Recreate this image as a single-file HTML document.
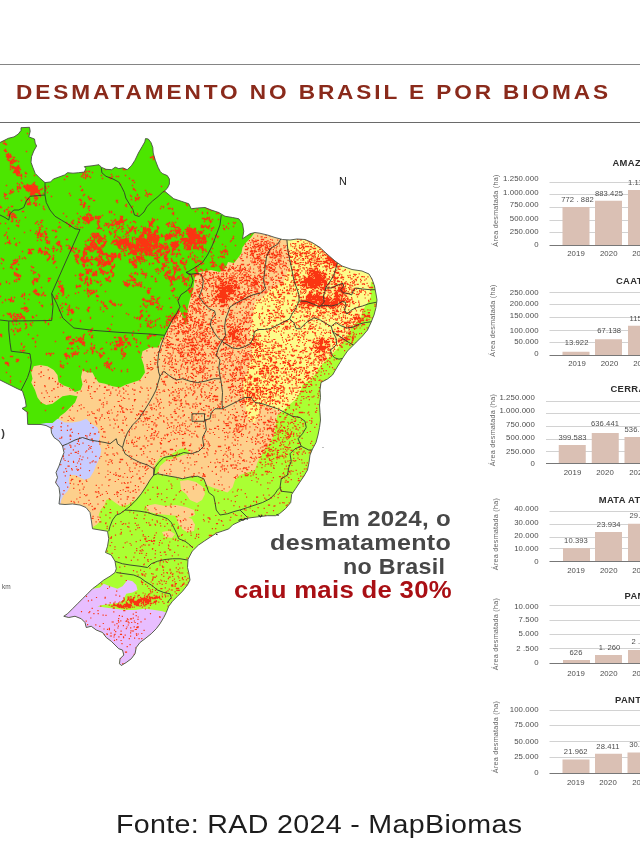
<!DOCTYPE html>
<html lang="pt-BR">
<head>
<meta charset="utf-8">
<meta name="viewport" content="width=640">
<title>Desmatamento no Brasil e por biomas</title>
<style>
html,body{margin:0;padding:0;background:#fff;}
body{width:640px;height:853px;position:relative;overflow:hidden;font-family:"Liberation Sans",sans-serif;}
h1,p,figure,header,main,footer,section{margin:0;padding:0;}
.abs{position:absolute;white-space:nowrap;display:block;margin:0;}
.map,.charts{position:absolute;left:0;top:0;display:block;}
.rule{position:absolute;left:0;width:640px;height:1px;border:0;margin:0;}
</style>
</head>
<body>
<header>
<hr class="rule" style="top:64px;background:#858585">
<h1 class="abs" style="left:15.84px;top:79.84px;font-size:19.5px;line-height:24px;font-weight:bold;color:#8a2a1b;letter-spacing:2.5px;transform:scaleX(1.1600);transform-origin:0 0;">DESMATAMENTO NO BRASIL E POR BIOMAS</h1>
<hr class="rule" style="top:122px;height:1.3px;background:#6a6a6a">
</header>
<main>
<figure>
<svg class="map" width="640" height="853" viewBox="0 0 640 853">
<defs><clipPath id="br"><path d="M-2 142.5 L0 142.5 L8.4 138.3 L14 136.9 L18.3 134 L21 130.5 L21 127.7 L29.5 127.3 L30.2 131.25 L28.8 136.9 L34.5 139 L35.2 143.2 L36.6 146 L33.75 151 L31.6 156.6 L31 162.2 L33 167.8 L35.2 173.4 L39.4 177.7 L45 182.6 L50.6 181.9 L53.4 179 L59 177 L64.7 174.9 L67.5 172.7 L73 173.2 L78.75 172.7 L84.4 172 L85.8 168.5 L84.4 166.6 L92 165.8 L99 164.7 L101.2 167.2 L106 169.3 L111.7 169.7 L115.2 167.2 L118.75 168.6 L123 167.9 L127.2 169.7 L131.4 165.8 L135 160.2 L138.4 153 L142 146.8 L144.8 141.9 L145.5 138.6 L148.3 139 L151 142.6 L152.8 147.5 L153.2 153 L155.3 160.2 L158 167.2 L160.2 171.4 L162.3 173.5 L167.3 175.6 L169.4 179 L169.4 184 L167.3 188.3 L164.5 191 L168 194 L173.75 198.75 L181.25 201.25 L188.75 203.75 L191.25 208.75 L197.5 208 L205 207.5 L211.25 210 L218.75 212.5 L225 216.25 L232.5 217.5 L238.75 218.75 L242.5 223.75 L243.75 231.25 L242.5 238.75 L246.25 236.25 L250 233.75 L255 232.5 L260 233.25 L267.5 235 L275 237.5 L282.5 239.5 L290 240 L297 239 L305 239.5 L312 242.5 L320 247.5 L327 254 L335 261 L342 266 L352 269.5 L362 271 L369 274 L372 279 L374.5 286 L376 294 L377 300 L376 307.5 L374 315 L371 322.5 L367.5 330 L362.5 336 L357.5 341 L352.5 346 L347.5 351 L344 356 L340 362.5 L336 369 L332.5 375 L327.5 379 L321 382.5 L320 390 L320.5 397.5 L319.5 405 L320 412.5 L320.5 420 L319.5 427.5 L318 435 L316 442.5 L312.5 449 L310 455 L309 462.5 L307.5 470 L304 476 L299.8 482.2 L295.8 488.3 L291.7 494.4 L290.7 502.5 L285.6 508.6 L279.5 513.7 L275.5 515.7 L267.3 515.7 L259.2 516.7 L251 517.7 L245 518.75 L239 521.8 L232.8 524.8 L228.75 528.9 L222.7 531 L216.6 533 L210.5 537 L204.4 541 L198.3 545.2 L192.2 551.25 L188 559.4 L187.5 567.5 L188.75 572.5 L190 580 L187.5 585 L182.5 591.25 L177.5 596.25 L172.5 601.25 L168.75 606.25 L166.25 612.5 L163.75 617.5 L160 623.75 L156.25 628.75 L151.25 633.75 L145 638.75 L140 642.5 L136.25 647.5 L135 653.75 L131.25 658.75 L126.25 662.5 L121.25 665.5 L119.5 663.75 L120 658.75 L123.75 655 L122.5 650 L118.75 648.75 L115 645 L111.25 641.25 L106.25 637.5 L102.5 632.5 L96.25 630 L91.25 626.25 L86.25 627.5 L85 622.5 L81.25 618.75 L75 616.25 L68.75 617.5 L63.75 616.25 L67.5 613.75 L72.5 608.75 L77.5 603.75 L82.5 598.75 L87.5 593.75 L92.5 588.75 L97.5 585 L103.75 580 L110 576.25 L115 572.5 L116.25 568.75 L115 561.25 L111.25 555 L105.5 552.5 L107.5 546.25 L108.75 538.75 L107.5 531.25 L100 530 L92.5 528.75 L91.25 520 L90 512.5 L86 507.5 L80 505 L72.5 504 L65 504.5 L59 504 L60 495 L59 487.5 L55.5 482.5 L57.5 477.5 L56 472.5 L59 466 L61 460 L64 452.5 L62.5 446 L59 441 L54 437.5 L51.5 433 L51 428 L46 425.5 L41 424.5 L27.7 424.4 L27.2 412.2 L22 408.4 L26.25 406.5 L25.3 400 L22.5 391 L17 388.5 L10 385 L0 380 L-2 380Z"/></clipPath></defs>
<g clip-path="url(#br)">
<path d="M-2 142.5 L0 142.5 L8.4 138.3 L14 136.9 L18.3 134 L21 130.5 L21 127.7 L29.5 127.3 L30.2 131.25 L28.8 136.9 L34.5 139 L35.2 143.2 L36.6 146 L33.75 151 L31.6 156.6 L31 162.2 L33 167.8 L35.2 173.4 L39.4 177.7 L45 182.6 L50.6 181.9 L53.4 179 L59 177 L64.7 174.9 L67.5 172.7 L73 173.2 L78.75 172.7 L84.4 172 L85.8 168.5 L84.4 166.6 L92 165.8 L99 164.7 L101.2 167.2 L106 169.3 L111.7 169.7 L115.2 167.2 L118.75 168.6 L123 167.9 L127.2 169.7 L131.4 165.8 L135 160.2 L138.4 153 L142 146.8 L144.8 141.9 L145.5 138.6 L148.3 139 L151 142.6 L152.8 147.5 L153.2 153 L155.3 160.2 L158 167.2 L160.2 171.4 L162.3 173.5 L167.3 175.6 L169.4 179 L169.4 184 L167.3 188.3 L164.5 191 L168 194 L173.75 198.75 L181.25 201.25 L188.75 203.75 L191.25 208.75 L197.5 208 L205 207.5 L211.25 210 L218.75 212.5 L225 216.25 L232.5 217.5 L238.75 218.75 L242.5 223.75 L243.75 231.25 L242.5 238.75 L246.25 236.25 L250 233.75 L255 232.5 L260 233.25 L267.5 235 L275 237.5 L282.5 239.5 L290 240 L297 239 L305 239.5 L312 242.5 L320 247.5 L327 254 L335 261 L342 266 L352 269.5 L362 271 L369 274 L372 279 L374.5 286 L376 294 L377 300 L376 307.5 L374 315 L371 322.5 L367.5 330 L362.5 336 L357.5 341 L352.5 346 L347.5 351 L344 356 L340 362.5 L336 369 L332.5 375 L327.5 379 L321 382.5 L320 390 L320.5 397.5 L319.5 405 L320 412.5 L320.5 420 L319.5 427.5 L318 435 L316 442.5 L312.5 449 L310 455 L309 462.5 L307.5 470 L304 476 L299.8 482.2 L295.8 488.3 L291.7 494.4 L290.7 502.5 L285.6 508.6 L279.5 513.7 L275.5 515.7 L267.3 515.7 L259.2 516.7 L251 517.7 L245 518.75 L239 521.8 L232.8 524.8 L228.75 528.9 L222.7 531 L216.6 533 L210.5 537 L204.4 541 L198.3 545.2 L192.2 551.25 L188 559.4 L187.5 567.5 L188.75 572.5 L190 580 L187.5 585 L182.5 591.25 L177.5 596.25 L172.5 601.25 L168.75 606.25 L166.25 612.5 L163.75 617.5 L160 623.75 L156.25 628.75 L151.25 633.75 L145 638.75 L140 642.5 L136.25 647.5 L135 653.75 L131.25 658.75 L126.25 662.5 L121.25 665.5 L119.5 663.75 L120 658.75 L123.75 655 L122.5 650 L118.75 648.75 L115 645 L111.25 641.25 L106.25 637.5 L102.5 632.5 L96.25 630 L91.25 626.25 L86.25 627.5 L85 622.5 L81.25 618.75 L75 616.25 L68.75 617.5 L63.75 616.25 L67.5 613.75 L72.5 608.75 L77.5 603.75 L82.5 598.75 L87.5 593.75 L92.5 588.75 L97.5 585 L103.75 580 L110 576.25 L115 572.5 L116.25 568.75 L115 561.25 L111.25 555 L105.5 552.5 L107.5 546.25 L108.75 538.75 L107.5 531.25 L100 530 L92.5 528.75 L91.25 520 L90 512.5 L86 507.5 L80 505 L72.5 504 L65 504.5 L59 504 L60 495 L59 487.5 L55.5 482.5 L57.5 477.5 L56 472.5 L59 466 L61 460 L64 452.5 L62.5 446 L59 441 L54 437.5 L51.5 433 L51 428 L46 425.5 L41 424.5 L27.7 424.4 L27.2 412.2 L22 408.4 L26.25 406.5 L25.3 400 L22.5 391 L17 388.5 L10 385 L0 380 L-2 380Z" fill="#fdd08c"/>
<path d="M256 231 L253.75 233.75 L251 237.5 L246 242.5 L242.5 247.5 L241.5 253 L238 258 L234 263 L228 262 L225.6 268 L219.5 272 L211 270 L205 271 L199 272 L195 276 L194 283.5 L193 290.6 L190 299 L188 307 L187 317 L186 325 L183 317 L180 311 L175 317 L171 323 L168 329 L165 335 L160.6 341.4 L158.6 347.5 L150 347.5 L142.5 351.25 L141.25 357.5 L143.75 365 L145 372.5 L140 380 L132.5 382.5 L125 385 L120 387.5 L112.5 386.25 L105 383.75 L98.75 382.5 L95 377.5 L92.5 372.5 L87.5 372.5 L82.5 370 L81 377 L82.5 384.4 L80.6 390 L75 392 L69.4 387.5 L63.75 385.5 L58.5 382 L57.5 375 L53.75 370 L47.5 366.25 L40 365 L33.75 366.25 L31.25 372.5 L32.5 378.75 L31.25 382.5 L35 390 L37.5 397.5 L41.25 402.5 L46.25 405 L52.5 403.75 L57.5 400 L62.5 396.25 L70 395 L77.5 396.25 L75 402.5 L70 407.5 L65 412.5 L60 416.25 L57.5 420 L53.75 424 L42 424 L28 426 L-5 426 L-5 110 L258 110Z" fill="#4ce600"/>
<path d="M287 236 L287.5 242 L288.5 250 L290 260 L290 265.6 L283.75 281.25 L271.25 289 L263.4 296.9 L255.6 301.6 L252.5 315.6 L252 325 L250 331.5 L250 340 L252.5 350 L251 360 L247.5 370 L243.75 380 L242.5 390 L245 400 L246 410 L249 420 L254 423 L258 416 L260 407 L268 406.5 L277 410 L284 413 L300 420 L330 380 L380 340 L385 270 L370 255 L330 240Z" fill="#fcfc8a"/>
<path d="M380 282 L371 282 L370.3 289.7 L371 296 L369.5 300.6 L365.6 305.3 L362.5 311.6 L361 317.8 L356.25 322.5 L352 327.2 L348.5 333.4 L344.5 339.7 L341 344.4 L337 349 L332.5 353.75 L326.5 360 L322.5 364 L319 368 L316 373.5 L310 380 L302.5 385 L300 392.5 L295 400 L287.5 406.25 L282.5 411.25 L277.5 415 L276 422.5 L275 430 L273.75 436 L270 442.5 L265 450 L260 457.5 L257.5 462.5 L255 470 L247.5 472.5 L240 475 L235 480 L232.5 487.5 L227.5 492.5 L220 490 L212.5 487.5 L206.25 485 L203.75 478.75 L197.5 476.25 L190 477 L182.5 478.75 L177.5 477.5 L170 476.25 L163.75 475 L157.5 473.75 L153.75 475 L150 480 L145 487.5 L141.25 493.75 L135 500 L127.5 505 L120 506 L115 502.5 L110 498.75 L106.25 500 L104.4 505.6 L100.6 509.4 L98.75 515 L100.6 520.6 L96.9 524.4 L93 527 L90 530 L60 530 L60 690 L400 690 L400 282Z" fill="#aaff33"/>
<path d="M153.75 475 L155 465 L160 458 L170 455 L180 449 L186 448 L190 453 L183 455 L175 458 L167 460 L160 466 L157.5 473.75Z" fill="#aaff33"/>
<path d="M180 481 L188 480 L196 482 L203 487 L205 494 L202 500 L197 503 L190 500 L186 494 L181 490Z" fill="#fdd08c"/>
<path d="M146 506 L155 504 L165 506 L176 505 L186 507 L194 510 L195 515 L188 518 L178 516 L168 515 L158 514 L149 512Z" fill="#fdd08c"/>
<path d="M176 517 L184 516 L192 519 L195 525 L192 530 L185 529 L179 525Z" fill="#fdd08c"/>
<path d="M163 532 L170 531 L175 534 L172 538 L165 537Z" fill="#fdd08c"/>
<path d="M162 532 L168 531 L172 534 L170 537 L164 536Z" fill="#fdd08c"/>
<path d="M181 523 L188 521 L195 524 L194 531 L187 532 L182 529Z" fill="#fdd08c"/>
<path d="M40 424 L46 423 L52.5 423 L57.5 418.75 L65 422.5 L72.5 422.5 L80 421.25 L86.25 418.75 L91.25 423.75 L97.5 427.5 L100 435 L98.75 442.5 L101.25 450 L100 457.5 L96.25 465 L93.75 471.25 L90 477.5 L85 480 L80 477.5 L75 475 L70 475 L68.75 480 L70 486.25 L67.5 491.25 L63.75 495 L61.25 500 L60 506 L45 506 L40 450Z" fill="#c8ccff"/>
<path d="M85 590 L92.5 588.75 L100 587.5 L103.75 583.75 L110 586.25 L117.5 588.75 L122.5 586.25 L127.5 580 L132.5 581.25 L136.25 585 L137.5 590 L132.5 592.5 L126.25 593.75 L123.75 598.75 L120 602.5 L112.5 603.75 L102.5 605 L97.5 606.25 L105 607.5 L115 608.75 L125 610 L135 610 L145 608.75 L155 610 L162.5 611.25 L166.25 612.5 L178 615 L178 680 L50 680 L50 600Z" fill="#e8beff"/>
<path d="M26.8 133.5h1.4M1.8 141.5h1.4M3.8 141.5h1.4M2.8 143.5h3.4M4.8 144.5h2.4M4.8 149.5h1.4M3.8 150.5h2.4M4.8 151.5h2.4M25.8 151.5h1.4M7.8 153.5h1.4M5.8 154.5h3.4M9.8 154.5h1.4M6.8 155.5h4.4M5.8 156.5h6.4M151.8 156.5h2.4M6.8 157.5h4.4M12.8 157.5h2.4M149.8 157.5h2.4M152.8 157.5h1.4M7.8 158.5h1.4M152.8 158.5h2.4M6.8 159.5h1.4M11.8 159.5h2.4M152.8 159.5h1.4M7.8 160.5h2.4M10.8 160.5h1.4M12.8 160.5h2.4M15.8 160.5h1.4M9.8 161.5h3.4M13.8 161.5h2.4M17.8 161.5h1.4M9.8 162.5h2.4M12.8 162.5h1.4M9.8 163.5h3.4M9.8 165.5h1.4M17.8 165.5h1.4M10.8 166.5h3.4M16.8 166.5h2.4M9.8 167.5h1.4M11.8 167.5h8.4M11.8 168.5h1.4M13.8 168.5h6.4M122.8 168.5h1.4M9.8 169.5h1.4M14.8 169.5h4.4M19.8 169.5h1.4M104.8 169.5h1.4M122.8 169.5h3.4M13.8 170.5h5.4M13.8 171.5h6.4M83.8 171.5h1.4M85.8 171.5h1.4M87.8 171.5h2.4M12.8 172.5h7.4M24.8 172.5h1.4M81.8 172.5h1.4M84.8 172.5h1.4M91.8 172.5h1.4M15.8 173.5h4.4M24.8 173.5h2.4M82.8 173.5h1.4M15.8 174.5h2.4M20.8 174.5h1.4M82.8 174.5h1.4M84.8 174.5h1.4M86.8 174.5h1.4M110.8 174.5h1.4M16.8 175.5h5.4M33.8 175.5h1.4M81.8 175.5h1.4M84.8 175.5h1.4M86.8 175.5h1.4M100.8 175.5h1.4M124.8 175.5h1.4M20.8 176.5h1.4M24.8 176.5h1.4M65.8 176.5h2.4M80.8 176.5h1.4M85.8 176.5h2.4M88.8 176.5h1.4M111.8 176.5h1.4M115.8 176.5h1.4M117.8 176.5h1.4M82.8 177.5h1.4M84.8 177.5h1.4M89.8 177.5h1.4M108.8 177.5h1.4M110.8 177.5h1.4M20.8 178.5h1.4M84.8 178.5h1.4M101.8 178.5h1.4M109.8 178.5h2.4M128.8 178.5h1.4M63.8 179.5h1.4M131.8 180.5h2.4M20.8 182.5h1.4M33.8 182.5h1.4M133.8 182.5h1.4M16.8 183.5h1.4M21.8 183.5h1.4M32.8 183.5h1.4M18.8 184.5h1.4M26.8 184.5h1.4M31.8 184.5h3.4M119.8 184.5h1.4M5.8 185.5h1.4M23.8 185.5h1.4M25.8 185.5h6.4M32.8 185.5h3.4M131.8 185.5h1.4M16.8 186.5h1.4M18.8 186.5h1.4M22.8 186.5h15.4M44.8 186.5h1.4M47.8 186.5h1.4M79.8 186.5h1.4M160.8 186.5h1.4M16.8 187.5h2.4M19.8 187.5h1.4M23.8 187.5h13.4M44.8 187.5h1.4M16.8 188.5h1.4M18.8 188.5h2.4M24.8 188.5h13.4M41.8 188.5h1.4M45.8 188.5h1.4M132.8 188.5h1.4M11.8 189.5h1.4M16.8 189.5h1.4M25.8 189.5h12.4M39.8 189.5h2.4M81.8 189.5h1.4M132.8 189.5h2.4M9.8 190.5h1.4M25.8 190.5h14.4M44.8 190.5h1.4M80.8 190.5h2.4M134.8 190.5h1.4M144.8 190.5h1.4M9.8 191.5h2.4M12.8 191.5h1.4M17.8 191.5h1.4M27.8 191.5h1.4M29.8 191.5h9.4M163.8 191.5h1.4M10.8 192.5h2.4M30.8 192.5h7.4M38.8 192.5h1.4M46.8 192.5h1.4M145.8 192.5h1.4M3.8 193.5h1.4M8.8 193.5h2.4M29.8 193.5h5.4M37.8 193.5h2.4M42.8 193.5h1.4M68.8 193.5h1.4M145.8 193.5h1.4M148.8 193.5h1.4M3.8 194.5h3.4M29.8 194.5h4.4M38.8 194.5h2.4M83.8 194.5h1.4M136.8 194.5h1.4M146.8 194.5h2.4M149.8 194.5h2.4M4.8 195.5h1.4M30.8 195.5h1.4M33.8 195.5h2.4M38.8 195.5h2.4M69.8 195.5h1.4M82.8 195.5h1.4M129.8 195.5h1.4M136.8 195.5h1.4M144.8 195.5h1.4M3.8 196.5h1.4M33.8 196.5h1.4M35.8 196.5h1.4M39.8 196.5h1.4M50.8 196.5h1.4M87.8 196.5h1.4M130.8 196.5h1.4M146.8 196.5h1.4M24.8 197.5h1.4M34.8 197.5h1.4M36.8 197.5h1.4M87.8 197.5h1.4M134.8 197.5h1.4M137.8 197.5h2.4M4.8 198.5h1.4M6.8 198.5h1.4M26.8 198.5h1.4M28.8 198.5h1.4M33.8 198.5h4.4M88.8 198.5h3.4M134.8 198.5h4.4M25.8 199.5h4.4M35.8 199.5h1.4M78.8 199.5h2.4M88.8 199.5h1.4M130.8 199.5h1.4M135.8 199.5h1.4M137.8 199.5h1.4M20.8 200.5h1.4M25.8 200.5h1.4M28.8 200.5h1.4M34.8 200.5h1.4M79.8 200.5h2.4M92.8 200.5h2.4M115.8 200.5h2.4M134.8 200.5h1.4M25.8 201.5h1.4M115.8 201.5h1.4M28.8 202.5h2.4M33.8 202.5h1.4M80.8 202.5h1.4M83.8 202.5h1.4M116.8 202.5h1.4M26.8 203.5h3.4M32.8 203.5h2.4M35.8 203.5h1.4M83.8 203.5h2.4M167.8 203.5h1.4M185.8 203.5h1.4M26.8 204.5h4.4M34.8 204.5h1.4M38.8 204.5h1.4M79.8 204.5h2.4M82.8 204.5h2.4M125.8 204.5h1.4M166.8 204.5h1.4M185.8 204.5h1.4M34.8 205.5h2.4M82.8 205.5h2.4M124.8 205.5h1.4M186.8 205.5h1.4M-0.2 206.5h1.4M10.8 206.5h2.4M42.8 206.5h1.4M82.8 206.5h2.4M87.8 206.5h2.4M125.8 206.5h1.4M131.8 206.5h1.4M160.8 206.5h1.4M162.8 206.5h1.4M-0.2 207.5h2.4M7.8 207.5h1.4M82.8 207.5h1.4M130.8 207.5h1.4M162.8 207.5h1.4M42.8 208.5h1.4M87.8 208.5h1.4M159.8 208.5h1.4M167.8 208.5h3.4M171.8 208.5h1.4M192.8 208.5h1.4M205.8 208.5h1.4M5.8 209.5h2.4M43.8 209.5h1.4M171.8 209.5h1.4M196.8 209.5h1.4M207.8 209.5h1.4M3.8 210.5h1.4M88.8 210.5h1.4M210.8 210.5h1.4M3.8 211.5h1.4M7.8 211.5h2.4M21.8 211.5h2.4M108.8 211.5h1.4M110.8 211.5h1.4M130.8 211.5h1.4M194.8 211.5h1.4M7.8 212.5h1.4M9.8 212.5h1.4M108.8 212.5h1.4M110.8 212.5h1.4M130.8 212.5h1.4M172.8 212.5h1.4M201.8 212.5h1.4M206.8 212.5h1.4M216.8 212.5h2.4M7.8 213.5h1.4M9.8 213.5h1.4M11.8 213.5h2.4M62.8 213.5h1.4M76.8 213.5h1.4M87.8 213.5h1.4M136.8 213.5h1.4M171.8 213.5h2.4M201.8 213.5h1.4M206.8 213.5h1.4M215.8 213.5h1.4M217.8 213.5h1.4M7.8 214.5h2.4M10.8 214.5h2.4M13.8 214.5h1.4M85.8 214.5h2.4M88.8 214.5h2.4M113.8 214.5h1.4M136.8 214.5h1.4M172.8 214.5h1.4M6.8 215.5h3.4M12.8 215.5h1.4M14.8 215.5h1.4M86.8 215.5h1.4M88.8 215.5h3.4M101.8 215.5h1.4M10.8 216.5h4.4M65.8 216.5h1.4M79.8 216.5h1.4M83.8 216.5h1.4M85.8 216.5h1.4M90.8 216.5h1.4M94.8 216.5h2.4M97.8 216.5h3.4M119.8 216.5h3.4M10.8 217.5h1.4M13.8 217.5h3.4M24.8 217.5h1.4M81.8 217.5h7.4M89.8 217.5h4.4M94.8 217.5h1.4M96.8 217.5h2.4M99.8 217.5h1.4M120.8 217.5h2.4M206.8 217.5h1.4M208.8 217.5h1.4M11.8 218.5h1.4M77.8 218.5h1.4M81.8 218.5h7.4M89.8 218.5h3.4M94.8 218.5h5.4M119.8 218.5h2.4M151.8 218.5h1.4M176.8 218.5h1.4M201.8 218.5h3.4M205.8 218.5h3.4M11.8 219.5h1.4M78.8 219.5h1.4M82.8 219.5h6.4M89.8 219.5h4.4M97.8 219.5h1.4M114.8 219.5h1.4M119.8 219.5h3.4M125.8 219.5h1.4M151.8 219.5h1.4M153.8 219.5h1.4M156.8 219.5h1.4M203.8 219.5h3.4M208.8 219.5h1.4M211.8 219.5h1.4M217.8 219.5h1.4M11.8 220.5h1.4M15.8 220.5h1.4M18.8 220.5h1.4M40.8 220.5h2.4M72.8 220.5h1.4M83.8 220.5h8.4M97.8 220.5h1.4M110.8 220.5h1.4M113.8 220.5h2.4M118.8 220.5h4.4M123.8 220.5h2.4M152.8 220.5h2.4M208.8 220.5h2.4M10.8 221.5h2.4M15.8 221.5h1.4M36.8 221.5h1.4M71.8 221.5h1.4M77.8 221.5h1.4M85.8 221.5h4.4M96.8 221.5h1.4M98.8 221.5h1.4M112.8 221.5h1.4M115.8 221.5h8.4M132.8 221.5h2.4M147.8 221.5h1.4M150.8 221.5h3.4M203.8 221.5h1.4M209.8 221.5h2.4M17.8 222.5h1.4M35.8 222.5h1.4M39.8 222.5h2.4M58.8 222.5h1.4M65.8 222.5h1.4M70.8 222.5h1.4M77.8 222.5h2.4M82.8 222.5h1.4M86.8 222.5h3.4M97.8 222.5h1.4M111.8 222.5h1.4M114.8 222.5h9.4M129.8 222.5h1.4M134.8 222.5h1.4M148.8 222.5h1.4M150.8 222.5h2.4M168.8 222.5h1.4M171.8 222.5h1.4M174.8 222.5h1.4M209.8 222.5h1.4M232.8 222.5h1.4M234.8 222.5h1.4M-0.2 223.5h1.4M4.8 223.5h1.4M34.8 223.5h1.4M66.8 223.5h1.4M71.8 223.5h2.4M84.8 223.5h1.4M87.8 223.5h1.4M96.8 223.5h1.4M104.8 223.5h2.4M107.8 223.5h1.4M111.8 223.5h1.4M114.8 223.5h5.4M148.8 223.5h4.4M166.8 223.5h3.4M172.8 223.5h1.4M227.8 223.5h1.4M233.8 223.5h1.4M37.8 224.5h1.4M68.8 224.5h1.4M76.8 224.5h1.4M97.8 224.5h1.4M105.8 224.5h2.4M109.8 224.5h3.4M113.8 224.5h1.4M115.8 224.5h4.4M122.8 224.5h1.4M148.8 224.5h3.4M165.8 224.5h2.4M170.8 224.5h1.4M172.8 224.5h1.4M15.8 225.5h3.4M40.8 225.5h1.4M68.8 225.5h2.4M97.8 225.5h1.4M103.8 225.5h1.4M105.8 225.5h1.4M108.8 225.5h1.4M110.8 225.5h3.4M126.8 225.5h1.4M148.8 225.5h3.4M167.8 225.5h1.4M172.8 225.5h2.4M188.8 225.5h1.4M200.8 225.5h2.4M204.8 225.5h1.4M208.8 225.5h1.4M222.8 225.5h1.4M17.8 226.5h1.4M41.8 226.5h1.4M58.8 226.5h1.4M68.8 226.5h2.4M74.8 226.5h1.4M98.8 226.5h1.4M107.8 226.5h1.4M115.8 226.5h1.4M118.8 226.5h1.4M120.8 226.5h2.4M131.8 226.5h2.4M140.8 226.5h1.4M148.8 226.5h1.4M151.8 226.5h1.4M156.8 226.5h1.4M167.8 226.5h1.4M170.8 226.5h4.4M200.8 226.5h4.4M205.8 226.5h1.4M207.8 226.5h2.4M225.8 226.5h1.4M232.8 226.5h1.4M38.8 227.5h2.4M57.8 227.5h1.4M59.8 227.5h1.4M76.8 227.5h1.4M79.8 227.5h1.4M81.8 227.5h1.4M97.8 227.5h2.4M107.8 227.5h1.4M118.8 227.5h1.4M127.8 227.5h1.4M130.8 227.5h3.4M135.8 227.5h1.4M142.8 227.5h1.4M144.8 227.5h1.4M156.8 227.5h2.4M173.8 227.5h5.4M186.8 227.5h1.4M188.8 227.5h1.4M200.8 227.5h3.4M205.8 227.5h3.4M212.8 227.5h1.4M225.8 227.5h1.4M7.8 228.5h1.4M45.8 228.5h1.4M96.8 228.5h2.4M99.8 228.5h2.4M111.8 228.5h1.4M116.8 228.5h2.4M121.8 228.5h2.4M128.8 228.5h1.4M130.8 228.5h2.4M133.8 228.5h2.4M142.8 228.5h3.4M146.8 228.5h3.4M157.8 228.5h1.4M178.8 228.5h1.4M186.8 228.5h2.4M189.8 228.5h2.4M193.8 228.5h2.4M207.8 228.5h1.4M210.8 228.5h2.4M222.8 228.5h2.4M227.8 228.5h1.4M38.8 229.5h2.4M120.8 229.5h1.4M129.8 229.5h3.4M142.8 229.5h8.4M156.8 229.5h1.4M174.8 229.5h1.4M177.8 229.5h1.4M179.8 229.5h1.4M184.8 229.5h11.4M223.8 229.5h1.4M29.8 230.5h1.4M38.8 230.5h1.4M51.8 230.5h2.4M54.8 230.5h1.4M102.8 230.5h1.4M114.8 230.5h2.4M128.8 230.5h3.4M133.8 230.5h2.4M137.8 230.5h1.4M142.8 230.5h8.4M154.8 230.5h3.4M170.8 230.5h1.4M172.8 230.5h1.4M174.8 230.5h5.4M186.8 230.5h9.4M202.8 230.5h1.4M210.8 230.5h1.4M35.8 231.5h1.4M38.8 231.5h1.4M43.8 231.5h2.4M54.8 231.5h2.4M108.8 231.5h1.4M113.8 231.5h1.4M121.8 231.5h1.4M125.8 231.5h1.4M128.8 231.5h2.4M133.8 231.5h2.4M142.8 231.5h4.4M147.8 231.5h3.4M153.8 231.5h4.4M169.8 231.5h2.4M174.8 231.5h1.4M176.8 231.5h4.4M185.8 231.5h10.4M197.8 231.5h1.4M199.8 231.5h2.4M5.8 232.5h1.4M23.8 232.5h1.4M37.8 232.5h2.4M43.8 232.5h1.4M108.8 232.5h2.4M113.8 232.5h2.4M126.8 232.5h2.4M134.8 232.5h1.4M139.8 232.5h1.4M141.8 232.5h4.4M147.8 232.5h4.4M153.8 232.5h2.4M156.8 232.5h1.4M175.8 232.5h4.4M182.8 232.5h1.4M187.8 232.5h7.4M195.8 232.5h1.4M198.8 232.5h4.4M34.8 233.5h1.4M36.8 233.5h4.4M41.8 233.5h1.4M44.8 233.5h2.4M91.8 233.5h3.4M95.8 233.5h3.4M110.8 233.5h1.4M125.8 233.5h2.4M134.8 233.5h1.4M141.8 233.5h1.4M143.8 233.5h3.4M147.8 233.5h2.4M152.8 233.5h3.4M168.8 233.5h1.4M172.8 233.5h1.4M175.8 233.5h2.4M178.8 233.5h1.4M182.8 233.5h1.4M185.8 233.5h10.4M198.8 233.5h3.4M4.8 234.5h1.4M36.8 234.5h2.4M39.8 234.5h3.4M44.8 234.5h2.4M90.8 234.5h1.4M93.8 234.5h2.4M96.8 234.5h2.4M109.8 234.5h1.4M114.8 234.5h1.4M124.8 234.5h1.4M140.8 234.5h3.4M146.8 234.5h9.4M160.8 234.5h1.4M165.8 234.5h2.4M168.8 234.5h3.4M172.8 234.5h1.4M174.8 234.5h1.4M179.8 234.5h2.4M186.8 234.5h12.4M208.8 234.5h1.4M249.8 234.5h1.4M3.8 235.5h1.4M36.8 235.5h2.4M39.8 235.5h2.4M91.8 235.5h2.4M94.8 235.5h5.4M103.8 235.5h1.4M114.8 235.5h1.4M127.8 235.5h1.4M139.8 235.5h4.4M146.8 235.5h5.4M152.8 235.5h6.4M160.8 235.5h2.4M164.8 235.5h8.4M173.8 235.5h3.4M178.8 235.5h1.4M181.8 235.5h2.4M187.8 235.5h12.4M202.8 235.5h2.4M205.8 235.5h1.4M214.8 235.5h2.4M6.8 236.5h1.4M39.8 236.5h2.4M42.8 236.5h1.4M45.8 236.5h1.4M55.8 236.5h1.4M91.8 236.5h7.4M99.8 236.5h1.4M104.8 236.5h1.4M113.8 236.5h1.4M116.8 236.5h1.4M122.8 236.5h1.4M125.8 236.5h1.4M138.8 236.5h5.4M147.8 236.5h8.4M156.8 236.5h2.4M160.8 236.5h2.4M163.8 236.5h1.4M165.8 236.5h7.4M173.8 236.5h1.4M181.8 236.5h1.4M187.8 236.5h12.4M202.8 236.5h2.4M207.8 236.5h1.4M216.8 236.5h2.4M232.8 236.5h1.4M6.8 237.5h1.4M36.8 237.5h2.4M44.8 237.5h3.4M54.8 237.5h1.4M89.8 237.5h1.4M92.8 237.5h4.4M98.8 237.5h3.4M103.8 237.5h1.4M113.8 237.5h1.4M117.8 237.5h3.4M131.8 237.5h1.4M133.8 237.5h1.4M138.8 237.5h3.4M146.8 237.5h13.4M164.8 237.5h6.4M175.8 237.5h1.4M188.8 237.5h12.4M201.8 237.5h4.4M216.8 237.5h1.4M6.8 238.5h1.4M13.8 238.5h1.4M44.8 238.5h1.4M89.8 238.5h1.4M93.8 238.5h1.4M95.8 238.5h1.4M97.8 238.5h1.4M99.8 238.5h5.4M118.8 238.5h1.4M124.8 238.5h2.4M127.8 238.5h1.4M131.8 238.5h1.4M135.8 238.5h9.4M146.8 238.5h12.4M164.8 238.5h6.4M180.8 238.5h7.4M188.8 238.5h17.4M211.8 238.5h1.4M231.8 238.5h2.4M39.8 239.5h1.4M44.8 239.5h1.4M65.8 239.5h2.4M87.8 239.5h1.4M93.8 239.5h1.4M97.8 239.5h3.4M101.8 239.5h1.4M104.8 239.5h1.4M115.8 239.5h1.4M119.8 239.5h8.4M131.8 239.5h1.4M134.8 239.5h24.4M164.8 239.5h1.4M166.8 239.5h1.4M179.8 239.5h7.4M187.8 239.5h7.4M197.8 239.5h2.4M201.8 239.5h4.4M211.8 239.5h1.4M260.8 239.5h3.4M8.8 240.5h1.4M36.8 240.5h1.4M40.8 240.5h1.4M45.8 240.5h2.4M86.8 240.5h2.4M89.8 240.5h5.4M96.8 240.5h5.4M112.8 240.5h5.4M118.8 240.5h10.4M131.8 240.5h1.4M136.8 240.5h11.4M148.8 240.5h10.4M164.8 240.5h1.4M181.8 240.5h2.4M184.8 240.5h11.4M196.8 240.5h3.4M200.8 240.5h1.4M202.8 240.5h1.4M204.8 240.5h1.4M230.8 240.5h1.4M8.8 241.5h1.4M46.8 241.5h1.4M48.8 241.5h1.4M57.8 241.5h2.4M84.8 241.5h1.4M91.8 241.5h2.4M96.8 241.5h5.4M102.8 241.5h1.4M104.8 241.5h2.4M111.8 241.5h17.4M135.8 241.5h2.4M138.8 241.5h11.4M150.8 241.5h1.4M152.8 241.5h5.4M174.8 241.5h1.4M176.8 241.5h2.4M180.8 241.5h1.4M183.8 241.5h11.4M196.8 241.5h5.4M202.8 241.5h4.4M213.8 241.5h1.4M229.8 241.5h1.4M253.8 241.5h3.4M6.8 242.5h3.4M18.8 242.5h1.4M45.8 242.5h3.4M56.8 242.5h3.4M90.8 242.5h4.4M97.8 242.5h2.4M103.8 242.5h2.4M111.8 242.5h2.4M115.8 242.5h13.4M129.8 242.5h1.4M131.8 242.5h1.4M135.8 242.5h1.4M137.8 242.5h11.4M149.8 242.5h2.4M152.8 242.5h5.4M170.8 242.5h7.4M179.8 242.5h1.4M183.8 242.5h2.4M187.8 242.5h8.4M196.8 242.5h9.4M212.8 242.5h1.4M4.8 243.5h1.4M8.8 243.5h2.4M15.8 243.5h1.4M46.8 243.5h1.4M48.8 243.5h1.4M55.8 243.5h2.4M58.8 243.5h1.4M89.8 243.5h3.4M93.8 243.5h2.4M97.8 243.5h2.4M103.8 243.5h2.4M110.8 243.5h1.4M115.8 243.5h15.4M131.8 243.5h1.4M135.8 243.5h3.4M139.8 243.5h11.4M154.8 243.5h3.4M158.8 243.5h1.4M163.8 243.5h1.4M165.8 243.5h1.4M171.8 243.5h6.4M182.8 243.5h3.4M186.8 243.5h13.4M200.8 243.5h1.4M202.8 243.5h1.4M204.8 243.5h1.4M14.8 244.5h1.4M56.8 244.5h3.4M84.8 244.5h1.4M89.8 244.5h7.4M102.8 244.5h2.4M113.8 244.5h8.4M122.8 244.5h1.4M124.8 244.5h10.4M135.8 244.5h4.4M140.8 244.5h11.4M153.8 244.5h4.4M159.8 244.5h2.4M164.8 244.5h1.4M169.8 244.5h9.4M183.8 244.5h1.4M185.8 244.5h2.4M189.8 244.5h2.4M193.8 244.5h3.4M221.8 244.5h1.4M254.8 244.5h3.4M260.8 244.5h1.4M15.8 245.5h1.4M57.8 245.5h1.4M59.8 245.5h1.4M65.8 245.5h1.4M67.8 245.5h1.4M85.8 245.5h1.4M89.8 245.5h4.4M94.8 245.5h2.4M100.8 245.5h4.4M116.8 245.5h4.4M122.8 245.5h1.4M124.8 245.5h33.4M158.8 245.5h5.4M166.8 245.5h1.4M170.8 245.5h8.4M184.8 245.5h5.4M190.8 245.5h1.4M193.8 245.5h2.4M198.8 245.5h1.4M201.8 245.5h1.4M234.8 245.5h1.4M257.8 245.5h6.4M52.8 246.5h1.4M59.8 246.5h2.4M68.8 246.5h1.4M86.8 246.5h3.4M90.8 246.5h7.4M100.8 246.5h1.4M102.8 246.5h1.4M117.8 246.5h3.4M122.8 246.5h3.4M127.8 246.5h11.4M139.8 246.5h8.4M148.8 246.5h11.4M160.8 246.5h3.4M164.8 246.5h3.4M170.8 246.5h7.4M183.8 246.5h1.4M186.8 246.5h4.4M192.8 246.5h4.4M198.8 246.5h4.4M224.8 246.5h1.4M260.8 246.5h1.4M304.8 246.5h4.4M44.8 247.5h1.4M68.8 247.5h2.4M72.8 247.5h1.4M84.8 247.5h1.4M86.8 247.5h10.4M97.8 247.5h3.4M101.8 247.5h1.4M117.8 247.5h2.4M123.8 247.5h1.4M125.8 247.5h1.4M127.8 247.5h11.4M140.8 247.5h1.4M143.8 247.5h7.4M152.8 247.5h5.4M158.8 247.5h10.4M172.8 247.5h4.4M184.8 247.5h1.4M186.8 247.5h4.4M192.8 247.5h3.4M196.8 247.5h2.4M199.8 247.5h3.4M258.8 247.5h2.4M264.8 247.5h3.4M38.8 248.5h2.4M44.8 248.5h1.4M46.8 248.5h1.4M51.8 248.5h3.4M60.8 248.5h1.4M67.8 248.5h3.4M71.8 248.5h2.4M74.8 248.5h2.4M83.8 248.5h1.4M85.8 248.5h5.4M92.8 248.5h8.4M118.8 248.5h3.4M123.8 248.5h2.4M128.8 248.5h3.4M133.8 248.5h17.4M151.8 248.5h3.4M155.8 248.5h1.4M159.8 248.5h1.4M161.8 248.5h1.4M163.8 248.5h4.4M171.8 248.5h3.4M183.8 248.5h1.4M186.8 248.5h4.4M192.8 248.5h6.4M200.8 248.5h3.4M211.8 248.5h1.4M258.8 248.5h1.4M312.8 248.5h3.4M27.8 249.5h2.4M30.8 249.5h3.4M38.8 249.5h2.4M47.8 249.5h1.4M56.8 249.5h1.4M60.8 249.5h1.4M69.8 249.5h1.4M74.8 249.5h1.4M83.8 249.5h6.4M90.8 249.5h1.4M93.8 249.5h2.4M96.8 249.5h5.4M121.8 249.5h2.4M128.8 249.5h2.4M131.8 249.5h1.4M134.8 249.5h2.4M137.8 249.5h14.4M153.8 249.5h1.4M157.8 249.5h4.4M163.8 249.5h2.4M166.8 249.5h1.4M168.8 249.5h1.4M171.8 249.5h4.4M177.8 249.5h1.4M185.8 249.5h5.4M197.8 249.5h1.4M201.8 249.5h2.4M204.8 249.5h1.4M224.8 249.5h1.4M244.8 249.5h3.4M267.8 249.5h3.4M28.8 250.5h2.4M37.8 250.5h4.4M52.8 250.5h1.4M55.8 250.5h1.4M70.8 250.5h2.4M77.8 250.5h2.4M83.8 250.5h1.4M88.8 250.5h3.4M92.8 250.5h1.4M98.8 250.5h3.4M122.8 250.5h1.4M124.8 250.5h2.4M130.8 250.5h13.4M144.8 250.5h8.4M156.8 250.5h4.4M168.8 250.5h1.4M171.8 250.5h2.4M177.8 250.5h2.4M201.8 250.5h2.4M204.8 250.5h1.4M222.8 250.5h4.4M21.8 251.5h1.4M28.8 251.5h2.4M38.8 251.5h4.4M43.8 251.5h1.4M45.8 251.5h1.4M52.8 251.5h1.4M59.8 251.5h1.4M69.8 251.5h1.4M72.8 251.5h1.4M78.8 251.5h1.4M82.8 251.5h2.4M89.8 251.5h1.4M91.8 251.5h1.4M96.8 251.5h6.4M120.8 251.5h1.4M122.8 251.5h1.4M129.8 251.5h6.4M136.8 251.5h2.4M139.8 251.5h3.4M143.8 251.5h3.4M147.8 251.5h2.4M150.8 251.5h1.4M155.8 251.5h5.4M165.8 251.5h4.4M171.8 251.5h1.4M205.8 251.5h1.4M209.8 251.5h1.4M219.8 251.5h1.4M221.8 251.5h1.4M223.8 251.5h4.4M249.8 251.5h3.4M253.8 251.5h3.4M27.8 252.5h4.4M37.8 252.5h1.4M40.8 252.5h2.4M44.8 252.5h3.4M73.8 252.5h1.4M77.8 252.5h1.4M82.8 252.5h4.4M96.8 252.5h3.4M100.8 252.5h2.4M129.8 252.5h7.4M140.8 252.5h2.4M143.8 252.5h4.4M148.8 252.5h3.4M154.8 252.5h1.4M157.8 252.5h1.4M159.8 252.5h1.4M162.8 252.5h1.4M164.8 252.5h4.4M171.8 252.5h1.4M191.8 252.5h1.4M201.8 252.5h1.4M210.8 252.5h1.4M220.8 252.5h2.4M224.8 252.5h1.4M27.8 253.5h4.4M40.8 253.5h1.4M43.8 253.5h1.4M45.8 253.5h2.4M82.8 253.5h2.4M85.8 253.5h1.4M99.8 253.5h4.4M104.8 253.5h2.4M110.8 253.5h2.4M113.8 253.5h2.4M118.8 253.5h1.4M123.8 253.5h1.4M127.8 253.5h3.4M131.8 253.5h5.4M138.8 253.5h1.4M140.8 253.5h1.4M144.8 253.5h3.4M148.8 253.5h2.4M151.8 253.5h1.4M153.8 253.5h3.4M160.8 253.5h1.4M162.8 253.5h1.4M166.8 253.5h1.4M171.8 253.5h1.4M173.8 253.5h1.4M176.8 253.5h1.4M178.8 253.5h1.4M189.8 253.5h1.4M220.8 253.5h1.4M226.8 253.5h1.4M250.8 253.5h3.4M260.8 253.5h4.4M270.8 253.5h3.4M293.8 253.5h4.4M299.8 253.5h3.4M303.8 253.5h3.4M311.8 253.5h3.4M43.8 254.5h2.4M47.8 254.5h2.4M75.8 254.5h2.4M82.8 254.5h1.4M84.8 254.5h2.4M98.8 254.5h1.4M101.8 254.5h3.4M105.8 254.5h2.4M110.8 254.5h5.4M117.8 254.5h3.4M127.8 254.5h1.4M132.8 254.5h4.4M139.8 254.5h1.4M144.8 254.5h7.4M156.8 254.5h1.4M159.8 254.5h3.4M163.8 254.5h1.4M165.8 254.5h1.4M170.8 254.5h3.4M175.8 254.5h2.4M179.8 254.5h1.4M189.8 254.5h1.4M223.8 254.5h1.4M226.8 254.5h1.4M265.8 254.5h4.4M276.8 254.5h4.4M52.8 255.5h1.4M73.8 255.5h3.4M77.8 255.5h1.4M82.8 255.5h2.4M98.8 255.5h1.4M105.8 255.5h1.4M107.8 255.5h3.4M111.8 255.5h1.4M113.8 255.5h3.4M117.8 255.5h2.4M123.8 255.5h2.4M140.8 255.5h1.4M142.8 255.5h1.4M145.8 255.5h1.4M148.8 255.5h1.4M150.8 255.5h4.4M155.8 255.5h2.4M159.8 255.5h2.4M164.8 255.5h2.4M193.8 255.5h1.4M212.8 255.5h1.4M273.8 255.5h3.4M18.8 256.5h1.4M48.8 256.5h2.4M74.8 256.5h4.4M82.8 256.5h2.4M90.8 256.5h1.4M97.8 256.5h4.4M106.8 256.5h10.4M117.8 256.5h3.4M135.8 256.5h4.4M140.8 256.5h1.4M156.8 256.5h1.4M163.8 256.5h3.4M175.8 256.5h1.4M187.8 256.5h1.4M189.8 256.5h1.4M194.8 256.5h1.4M201.8 256.5h1.4M210.8 256.5h1.4M219.8 256.5h4.4M256.8 256.5h3.4M304.8 256.5h3.4M326.8 256.5h2.4M23.8 257.5h1.4M48.8 257.5h1.4M52.8 257.5h1.4M74.8 257.5h1.4M76.8 257.5h2.4M80.8 257.5h3.4M85.8 257.5h2.4M90.8 257.5h2.4M95.8 257.5h1.4M99.8 257.5h2.4M105.8 257.5h1.4M110.8 257.5h5.4M117.8 257.5h2.4M132.8 257.5h1.4M135.8 257.5h8.4M154.8 257.5h1.4M156.8 257.5h3.4M163.8 257.5h2.4M187.8 257.5h1.4M196.8 257.5h1.4M217.8 257.5h1.4M221.8 257.5h1.4M223.8 257.5h1.4M269.8 257.5h3.4M326.8 257.5h4.4M0.8 258.5h1.4M18.8 258.5h1.4M21.8 258.5h1.4M24.8 258.5h1.4M47.8 258.5h2.4M51.8 258.5h2.4M75.8 258.5h1.4M80.8 258.5h3.4M85.8 258.5h1.4M94.8 258.5h3.4M98.8 258.5h1.4M100.8 258.5h1.4M106.8 258.5h1.4M110.8 258.5h3.4M119.8 258.5h1.4M132.8 258.5h1.4M136.8 258.5h6.4M153.8 258.5h4.4M163.8 258.5h4.4M170.8 258.5h1.4M181.8 258.5h2.4M191.8 258.5h1.4M193.8 258.5h1.4M211.8 258.5h1.4M254.8 258.5h5.4M316.8 258.5h3.4M324.8 258.5h7.4M1.8 259.5h2.4M14.8 259.5h1.4M16.8 259.5h1.4M46.8 259.5h2.4M51.8 259.5h2.4M74.8 259.5h2.4M79.8 259.5h5.4M85.8 259.5h3.4M89.8 259.5h3.4M93.8 259.5h5.4M100.8 259.5h2.4M107.8 259.5h1.4M110.8 259.5h3.4M119.8 259.5h1.4M128.8 259.5h2.4M133.8 259.5h1.4M135.8 259.5h1.4M137.8 259.5h2.4M140.8 259.5h4.4M155.8 259.5h2.4M164.8 259.5h2.4M170.8 259.5h1.4M191.8 259.5h1.4M193.8 259.5h1.4M308.8 259.5h3.4M327.8 259.5h6.4M2.8 260.5h1.4M12.8 260.5h3.4M16.8 260.5h1.4M46.8 260.5h1.4M76.8 260.5h1.4M80.8 260.5h9.4M95.8 260.5h2.4M98.8 260.5h2.4M101.8 260.5h2.4M107.8 260.5h1.4M110.8 260.5h2.4M128.8 260.5h1.4M133.8 260.5h3.4M137.8 260.5h1.4M143.8 260.5h1.4M145.8 260.5h1.4M156.8 260.5h2.4M164.8 260.5h3.4M170.8 260.5h2.4M179.8 260.5h2.4M185.8 260.5h1.4M193.8 260.5h1.4M196.8 260.5h1.4M198.8 260.5h1.4M211.8 260.5h1.4M233.8 260.5h1.4M277.8 260.5h3.4M325.8 260.5h9.4M15.8 261.5h2.4M53.8 261.5h2.4M75.8 261.5h2.4M81.8 261.5h7.4M97.8 261.5h3.4M101.8 261.5h1.4M103.8 261.5h1.4M105.8 261.5h7.4M128.8 261.5h1.4M130.8 261.5h5.4M138.8 261.5h2.4M141.8 261.5h1.4M143.8 261.5h1.4M156.8 261.5h2.4M170.8 261.5h2.4M179.8 261.5h2.4M185.8 261.5h1.4M194.8 261.5h1.4M197.8 261.5h1.4M199.8 261.5h2.4M211.8 261.5h1.4M315.8 261.5h6.4M322.8 261.5h4.4M329.8 261.5h1.4M331.8 261.5h4.4M12.8 262.5h4.4M52.8 262.5h2.4M76.8 262.5h1.4M82.8 262.5h3.4M89.8 262.5h1.4M97.8 262.5h5.4M103.8 262.5h7.4M128.8 262.5h5.4M135.8 262.5h1.4M157.8 262.5h2.4M165.8 262.5h1.4M167.8 262.5h1.4M172.8 262.5h2.4M175.8 262.5h1.4M179.8 262.5h4.4M184.8 262.5h2.4M194.8 262.5h2.4M199.8 262.5h1.4M209.8 262.5h5.4M252.8 262.5h3.4M323.8 262.5h4.4M329.8 262.5h5.4M335.8 262.5h1.4M0.8 263.5h1.4M12.8 263.5h3.4M52.8 263.5h1.4M77.8 263.5h1.4M90.8 263.5h1.4M97.8 263.5h3.4M102.8 263.5h8.4M131.8 263.5h3.4M139.8 263.5h1.4M148.8 263.5h1.4M151.8 263.5h2.4M161.8 263.5h1.4M163.8 263.5h1.4M172.8 263.5h4.4M180.8 263.5h3.4M199.8 263.5h1.4M201.8 263.5h2.4M212.8 263.5h1.4M221.8 263.5h1.4M260.8 263.5h3.4M273.8 263.5h3.4M294.8 263.5h4.4M313.8 263.5h3.4M326.8 263.5h3.4M332.8 263.5h4.4M10.8 264.5h3.4M17.8 264.5h1.4M81.8 264.5h3.4M90.8 264.5h2.4M97.8 264.5h2.4M100.8 264.5h6.4M107.8 264.5h3.4M113.8 264.5h1.4M131.8 264.5h4.4M148.8 264.5h1.4M161.8 264.5h3.4M182.8 264.5h3.4M200.8 264.5h1.4M212.8 264.5h1.4M214.8 264.5h1.4M220.8 264.5h1.4M222.8 264.5h1.4M240.8 264.5h3.4M328.8 264.5h1.4M330.8 264.5h1.4M332.8 264.5h4.4M82.8 265.5h2.4M86.8 265.5h1.4M96.8 265.5h2.4M102.8 265.5h3.4M113.8 265.5h1.4M132.8 265.5h4.4M162.8 265.5h2.4M165.8 265.5h1.4M175.8 265.5h2.4M211.8 265.5h2.4M215.8 265.5h1.4M220.8 265.5h3.4M282.8 265.5h3.4M332.8 265.5h4.4M10.8 266.5h1.4M30.8 266.5h1.4M82.8 266.5h2.4M100.8 266.5h1.4M102.8 266.5h1.4M110.8 266.5h4.4M134.8 266.5h2.4M162.8 266.5h3.4M172.8 266.5h1.4M176.8 266.5h2.4M183.8 266.5h1.4M195.8 266.5h1.4M197.8 266.5h1.4M210.8 266.5h4.4M218.8 266.5h3.4M224.8 266.5h1.4M313.8 266.5h3.4M324.8 266.5h3.4M336.8 266.5h3.4M9.8 267.5h2.4M31.8 267.5h2.4M55.8 267.5h1.4M111.8 267.5h2.4M133.8 267.5h3.4M161.8 267.5h1.4M167.8 267.5h1.4M173.8 267.5h3.4M183.8 267.5h1.4M194.8 267.5h2.4M219.8 267.5h3.4M223.8 267.5h1.4M268.8 267.5h3.4M2.8 268.5h1.4M11.8 268.5h1.4M15.8 268.5h1.4M98.8 268.5h2.4M111.8 268.5h1.4M156.8 268.5h1.4M160.8 268.5h3.4M172.8 268.5h1.4M174.8 268.5h2.4M178.8 268.5h1.4M184.8 268.5h1.4M194.8 268.5h1.4M219.8 268.5h3.4M308.8 268.5h3.4M314.8 268.5h3.4M15.8 269.5h2.4M84.8 269.5h2.4M87.8 269.5h2.4M90.8 269.5h1.4M98.8 269.5h1.4M100.8 269.5h1.4M110.8 269.5h1.4M140.8 269.5h1.4M154.8 269.5h2.4M157.8 269.5h1.4M161.8 269.5h1.4M173.8 269.5h3.4M177.8 269.5h3.4M184.8 269.5h1.4M195.8 269.5h1.4M199.8 269.5h2.4M205.8 269.5h1.4M220.8 269.5h3.4M227.8 269.5h3.4M271.8 269.5h3.4M291.8 269.5h3.4M30.8 270.5h1.4M86.8 270.5h1.4M88.8 270.5h2.4M99.8 270.5h3.4M109.8 270.5h2.4M157.8 270.5h1.4M162.8 270.5h1.4M168.8 270.5h2.4M173.8 270.5h1.4M176.8 270.5h1.4M178.8 270.5h1.4M194.8 270.5h3.4M201.8 270.5h1.4M220.8 270.5h5.4M236.8 270.5h3.4M295.8 270.5h3.4M308.8 270.5h6.4M32.8 271.5h1.4M85.8 271.5h3.4M89.8 271.5h2.4M94.8 271.5h2.4M100.8 271.5h4.4M109.8 271.5h2.4M141.8 271.5h1.4M155.8 271.5h1.4M159.8 271.5h1.4M166.8 271.5h2.4M173.8 271.5h2.4M195.8 271.5h1.4M204.8 271.5h3.4M309.8 271.5h9.4M13.8 272.5h1.4M33.8 272.5h2.4M85.8 272.5h3.4M92.8 272.5h1.4M94.8 272.5h2.4M99.8 272.5h2.4M102.8 272.5h1.4M104.8 272.5h1.4M106.8 272.5h2.4M110.8 272.5h2.4M134.8 272.5h1.4M165.8 272.5h5.4M173.8 272.5h2.4M196.8 272.5h1.4M306.8 272.5h1.4M308.8 272.5h2.4M312.8 272.5h8.4M334.8 272.5h4.4M13.8 273.5h3.4M32.8 273.5h1.4M79.8 273.5h1.4M85.8 273.5h3.4M92.8 273.5h2.4M95.8 273.5h1.4M101.8 273.5h2.4M105.8 273.5h2.4M112.8 273.5h1.4M130.8 273.5h1.4M133.8 273.5h2.4M136.8 273.5h1.4M140.8 273.5h4.4M145.8 273.5h1.4M157.8 273.5h1.4M164.8 273.5h1.4M166.8 273.5h1.4M168.8 273.5h1.4M173.8 273.5h1.4M195.8 273.5h3.4M294.8 273.5h3.4M306.8 273.5h1.4M308.8 273.5h1.4M310.8 273.5h7.4M318.8 273.5h1.4M320.8 273.5h5.4M13.8 274.5h1.4M15.8 274.5h3.4M37.8 274.5h1.4M78.8 274.5h1.4M80.8 274.5h3.4M91.8 274.5h5.4M102.8 274.5h1.4M112.8 274.5h1.4M136.8 274.5h1.4M142.8 274.5h1.4M144.8 274.5h1.4M164.8 274.5h2.4M173.8 274.5h1.4M181.8 274.5h1.4M191.8 274.5h1.4M193.8 274.5h5.4M307.8 274.5h1.4M310.8 274.5h2.4M313.8 274.5h7.4M323.8 274.5h3.4M14.8 275.5h6.4M38.8 275.5h1.4M74.8 275.5h1.4M78.8 275.5h4.4M91.8 275.5h3.4M95.8 275.5h1.4M111.8 275.5h2.4M128.8 275.5h2.4M144.8 275.5h2.4M163.8 275.5h2.4M166.8 275.5h1.4M172.8 275.5h1.4M180.8 275.5h1.4M188.8 275.5h1.4M190.8 275.5h1.4M193.8 275.5h2.4M263.8 275.5h3.4M293.8 275.5h5.4M308.8 275.5h3.4M312.8 275.5h9.4M322.8 275.5h2.4M16.8 276.5h2.4M19.8 276.5h1.4M38.8 276.5h1.4M79.8 276.5h1.4M85.8 276.5h1.4M108.8 276.5h1.4M111.8 276.5h1.4M129.8 276.5h3.4M150.8 276.5h2.4M166.8 276.5h4.4M171.8 276.5h2.4M177.8 276.5h2.4M182.8 276.5h1.4M190.8 276.5h1.4M193.8 276.5h1.4M220.8 276.5h3.4M245.8 276.5h4.4M303.8 276.5h1.4M307.8 276.5h2.4M311.8 276.5h1.4M313.8 276.5h7.4M321.8 276.5h1.4M323.8 276.5h2.4M79.8 277.5h1.4M86.8 277.5h1.4M107.8 277.5h2.4M130.8 277.5h2.4M144.8 277.5h1.4M164.8 277.5h1.4M167.8 277.5h7.4M176.8 277.5h2.4M181.8 277.5h2.4M187.8 277.5h1.4M228.8 277.5h3.4M240.8 277.5h3.4M303.8 277.5h2.4M307.8 277.5h4.4M312.8 277.5h1.4M314.8 277.5h7.4M322.8 277.5h3.4M331.8 277.5h4.4M340.8 277.5h3.4M17.8 278.5h2.4M33.8 278.5h1.4M35.8 278.5h1.4M37.8 278.5h1.4M47.8 278.5h3.4M78.8 278.5h1.4M80.8 278.5h1.4M84.8 278.5h3.4M89.8 278.5h1.4M104.8 278.5h2.4M107.8 278.5h1.4M132.8 278.5h2.4M154.8 278.5h1.4M165.8 278.5h1.4M167.8 278.5h2.4M170.8 278.5h4.4M176.8 278.5h1.4M178.8 278.5h1.4M181.8 278.5h1.4M183.8 278.5h2.4M186.8 278.5h1.4M208.8 278.5h3.4M216.8 278.5h4.4M254.8 278.5h3.4M303.8 278.5h1.4M305.8 278.5h7.4M314.8 278.5h10.4M333.8 278.5h4.4M15.8 279.5h1.4M17.8 279.5h2.4M33.8 279.5h4.4M79.8 279.5h2.4M84.8 279.5h3.4M89.8 279.5h1.4M105.8 279.5h2.4M130.8 279.5h1.4M132.8 279.5h3.4M154.8 279.5h1.4M168.8 279.5h1.4M170.8 279.5h6.4M182.8 279.5h1.4M184.8 279.5h2.4M187.8 279.5h1.4M218.8 279.5h3.4M228.8 279.5h4.4M293.8 279.5h3.4M303.8 279.5h20.4M13.8 280.5h1.4M32.8 280.5h2.4M35.8 280.5h2.4M47.8 280.5h2.4M80.8 280.5h2.4M84.8 280.5h1.4M89.8 280.5h2.4M93.8 280.5h1.4M105.8 280.5h3.4M109.8 280.5h1.4M126.8 280.5h1.4M128.8 280.5h2.4M131.8 280.5h4.4M169.8 280.5h2.4M173.8 280.5h1.4M182.8 280.5h2.4M187.8 280.5h1.4M206.8 280.5h3.4M228.8 280.5h3.4M238.8 280.5h3.4M243.8 280.5h6.4M303.8 280.5h22.4M5.8 281.5h1.4M13.8 281.5h1.4M15.8 281.5h1.4M31.8 281.5h1.4M35.8 281.5h2.4M47.8 281.5h1.4M57.8 281.5h1.4M59.8 281.5h1.4M84.8 281.5h1.4M90.8 281.5h1.4M95.8 281.5h2.4M99.8 281.5h1.4M108.8 281.5h2.4M122.8 281.5h1.4M154.8 281.5h2.4M169.8 281.5h2.4M181.8 281.5h1.4M183.8 281.5h1.4M219.8 281.5h3.4M224.8 281.5h2.4M232.8 281.5h4.4M253.8 281.5h3.4M300.8 281.5h20.4M321.8 281.5h5.4M336.8 281.5h3.4M5.8 282.5h1.4M31.8 282.5h2.4M84.8 282.5h1.4M86.8 282.5h1.4M89.8 282.5h1.4M96.8 282.5h2.4M123.8 282.5h3.4M133.8 282.5h2.4M138.8 282.5h1.4M140.8 282.5h1.4M170.8 282.5h1.4M222.8 282.5h4.4M227.8 282.5h1.4M250.8 282.5h7.4M265.8 282.5h3.4M279.8 282.5h3.4M292.8 282.5h5.4M299.8 282.5h27.4M-0.2 283.5h1.4M8.8 283.5h1.4M32.8 283.5h1.4M58.8 283.5h1.4M83.8 283.5h1.4M86.8 283.5h1.4M89.8 283.5h2.4M123.8 283.5h1.4M125.8 283.5h2.4M128.8 283.5h1.4M135.8 283.5h1.4M137.8 283.5h1.4M170.8 283.5h1.4M183.8 283.5h3.4M219.8 283.5h4.4M225.8 283.5h1.4M227.8 283.5h3.4M254.8 283.5h3.4M304.8 283.5h2.4M307.8 283.5h13.4M323.8 283.5h3.4M-0.2 284.5h1.4M32.8 284.5h1.4M86.8 284.5h2.4M100.8 284.5h1.4M123.8 284.5h6.4M135.8 284.5h2.4M138.8 284.5h3.4M170.8 284.5h2.4M183.8 284.5h1.4M185.8 284.5h1.4M221.8 284.5h2.4M224.8 284.5h1.4M253.8 284.5h4.4M279.8 284.5h4.4M301.8 284.5h5.4M307.8 284.5h6.4M314.8 284.5h8.4M323.8 284.5h5.4M333.8 284.5h3.4M339.8 284.5h3.4M59.8 285.5h1.4M61.8 285.5h1.4M75.8 285.5h1.4M78.8 285.5h2.4M86.8 285.5h2.4M99.8 285.5h1.4M124.8 285.5h4.4M131.8 285.5h2.4M134.8 285.5h1.4M136.8 285.5h2.4M139.8 285.5h1.4M169.8 285.5h1.4M185.8 285.5h1.4M188.8 285.5h1.4M219.8 285.5h5.4M226.8 285.5h6.4M233.8 285.5h3.4M251.8 285.5h3.4M299.8 285.5h7.4M307.8 285.5h12.4M320.8 285.5h1.4M323.8 285.5h2.4M336.8 285.5h1.4M338.8 285.5h1.4M340.8 285.5h1.4M57.8 286.5h4.4M75.8 286.5h5.4M126.8 286.5h1.4M132.8 286.5h1.4M139.8 286.5h2.4M214.8 286.5h4.4M221.8 286.5h1.4M224.8 286.5h5.4M230.8 286.5h1.4M303.8 286.5h1.4M305.8 286.5h1.4M309.8 286.5h7.4M318.8 286.5h1.4M323.8 286.5h3.4M334.8 286.5h1.4M341.8 286.5h1.4M40.8 287.5h1.4M58.8 287.5h1.4M60.8 287.5h2.4M75.8 287.5h1.4M143.8 287.5h1.4M215.8 287.5h17.4M233.8 287.5h6.4M271.8 287.5h3.4M305.8 287.5h12.4M319.8 287.5h5.4M330.8 287.5h4.4M337.8 287.5h6.4M368.8 287.5h4.4M60.8 288.5h3.4M86.8 288.5h1.4M147.8 288.5h1.4M149.8 288.5h1.4M172.8 288.5h2.4M188.8 288.5h1.4M190.8 288.5h2.4M217.8 288.5h14.4M236.8 288.5h3.4M313.8 288.5h2.4M317.8 288.5h1.4M321.8 288.5h3.4M334.8 288.5h1.4M337.8 288.5h7.4M34.8 289.5h1.4M60.8 289.5h3.4M86.8 289.5h1.4M173.8 289.5h1.4M191.8 289.5h1.4M217.8 289.5h1.4M221.8 289.5h4.4M226.8 289.5h6.4M302.8 289.5h3.4M319.8 289.5h2.4M322.8 289.5h3.4M337.8 289.5h7.4M33.8 290.5h3.4M59.8 290.5h4.4M83.8 290.5h1.4M86.8 290.5h5.4M92.8 290.5h1.4M95.8 290.5h1.4M146.8 290.5h3.4M170.8 290.5h3.4M187.8 290.5h4.4M218.8 290.5h17.4M320.8 290.5h1.4M323.8 290.5h3.4M327.8 290.5h3.4M333.8 290.5h2.4M336.8 290.5h6.4M343.8 290.5h1.4M351.8 290.5h3.4M32.8 291.5h4.4M60.8 291.5h3.4M86.8 291.5h2.4M92.8 291.5h2.4M95.8 291.5h1.4M104.8 291.5h1.4M146.8 291.5h2.4M171.8 291.5h1.4M188.8 291.5h3.4M196.8 291.5h3.4M214.8 291.5h3.4M219.8 291.5h15.4M253.8 291.5h4.4M335.8 291.5h1.4M337.8 291.5h8.4M33.8 292.5h1.4M42.8 292.5h1.4M61.8 292.5h2.4M77.8 292.5h1.4M88.8 292.5h1.4M90.8 292.5h4.4M146.8 292.5h3.4M188.8 292.5h2.4M219.8 292.5h6.4M228.8 292.5h3.4M232.8 292.5h1.4M281.8 292.5h3.4M308.8 292.5h4.4M317.8 292.5h3.4M334.8 292.5h3.4M340.8 292.5h4.4M23.8 293.5h1.4M34.8 293.5h4.4M42.8 293.5h1.4M57.8 293.5h1.4M62.8 293.5h1.4M74.8 293.5h1.4M86.8 293.5h1.4M89.8 293.5h3.4M147.8 293.5h1.4M218.8 293.5h7.4M227.8 293.5h6.4M286.8 293.5h3.4M308.8 293.5h2.4M318.8 293.5h3.4M333.8 293.5h4.4M341.8 293.5h2.4M345.8 293.5h4.4M21.8 294.5h1.4M23.8 294.5h1.4M28.8 294.5h1.4M35.8 294.5h4.4M41.8 294.5h1.4M62.8 294.5h1.4M89.8 294.5h1.4M190.8 294.5h2.4M216.8 294.5h2.4M219.8 294.5h7.4M227.8 294.5h2.4M277.8 294.5h4.4M307.8 294.5h4.4M313.8 294.5h1.4M315.8 294.5h2.4M318.8 294.5h1.4M334.8 294.5h3.4M338.8 294.5h2.4M341.8 294.5h1.4M355.8 294.5h3.4M21.8 295.5h1.4M23.8 295.5h1.4M37.8 295.5h1.4M40.8 295.5h1.4M43.8 295.5h2.4M55.8 295.5h1.4M61.8 295.5h1.4M67.8 295.5h1.4M87.8 295.5h1.4M95.8 295.5h2.4M172.8 295.5h1.4M190.8 295.5h1.4M216.8 295.5h11.4M306.8 295.5h5.4M312.8 295.5h1.4M314.8 295.5h4.4M334.8 295.5h4.4M339.8 295.5h3.4M-0.2 296.5h1.4M20.8 296.5h2.4M55.8 296.5h2.4M87.8 296.5h1.4M95.8 296.5h3.4M150.8 296.5h3.4M190.8 296.5h1.4M214.8 296.5h15.4M305.8 296.5h17.4M333.8 296.5h6.4M10.8 297.5h1.4M13.8 297.5h1.4M65.8 297.5h1.4M158.8 297.5h1.4M174.8 297.5h1.4M176.8 297.5h1.4M217.8 297.5h9.4M239.8 297.5h4.4M298.8 297.5h3.4M305.8 297.5h19.4M329.8 297.5h1.4M335.8 297.5h2.4M10.8 298.5h1.4M23.8 298.5h1.4M54.8 298.5h3.4M142.8 298.5h1.4M150.8 298.5h3.4M156.8 298.5h2.4M168.8 298.5h1.4M196.8 298.5h3.4M221.8 298.5h7.4M229.8 298.5h1.4M239.8 298.5h3.4M305.8 298.5h1.4M307.8 298.5h3.4M311.8 298.5h4.4M316.8 298.5h5.4M322.8 298.5h6.4M330.8 298.5h1.4M333.8 298.5h5.4M340.8 298.5h1.4M4.8 299.5h1.4M7.8 299.5h4.4M27.8 299.5h1.4M141.8 299.5h3.4M152.8 299.5h2.4M156.8 299.5h1.4M176.8 299.5h2.4M213.8 299.5h4.4M218.8 299.5h6.4M225.8 299.5h1.4M227.8 299.5h2.4M242.8 299.5h3.4M305.8 299.5h17.4M325.8 299.5h5.4M332.8 299.5h7.4M340.8 299.5h1.4M342.8 299.5h1.4M4.8 300.5h1.4M9.8 300.5h2.4M12.8 300.5h1.4M96.8 300.5h1.4M109.8 300.5h1.4M142.8 300.5h1.4M144.8 300.5h1.4M146.8 300.5h1.4M148.8 300.5h1.4M150.8 300.5h1.4M155.8 300.5h1.4M194.8 300.5h3.4M218.8 300.5h6.4M226.8 300.5h1.4M291.8 300.5h3.4M300.8 300.5h11.4M314.8 300.5h15.4M331.8 300.5h1.4M334.8 300.5h10.4M9.8 301.5h1.4M11.8 301.5h2.4M100.8 301.5h1.4M108.8 301.5h1.4M110.8 301.5h1.4M145.8 301.5h5.4M156.8 301.5h1.4M218.8 301.5h6.4M225.8 301.5h1.4M300.8 301.5h16.4M318.8 301.5h1.4M320.8 301.5h8.4M330.8 301.5h1.4M332.8 301.5h5.4M338.8 301.5h3.4M342.8 301.5h1.4M345.8 301.5h4.4M1.8 302.5h1.4M38.8 302.5h1.4M100.8 302.5h1.4M102.8 302.5h1.4M109.8 302.5h2.4M149.8 302.5h1.4M151.8 302.5h2.4M154.8 302.5h2.4M220.8 302.5h4.4M225.8 302.5h1.4M247.8 302.5h3.4M299.8 302.5h17.4M318.8 302.5h19.4M338.8 302.5h3.4M23.8 303.5h1.4M51.8 303.5h1.4M61.8 303.5h1.4M64.8 303.5h1.4M102.8 303.5h1.4M111.8 303.5h1.4M113.8 303.5h1.4M142.8 303.5h1.4M149.8 303.5h2.4M152.8 303.5h1.4M156.8 303.5h2.4M195.8 303.5h4.4M300.8 303.5h7.4M308.8 303.5h6.4M315.8 303.5h3.4M319.8 303.5h10.4M330.8 303.5h7.4M339.8 303.5h3.4M50.8 304.5h1.4M64.8 304.5h2.4M102.8 304.5h1.4M111.8 304.5h2.4M114.8 304.5h1.4M117.8 304.5h1.4M120.8 304.5h1.4M142.8 304.5h1.4M149.8 304.5h4.4M223.8 304.5h4.4M297.8 304.5h4.4M303.8 304.5h1.4M307.8 304.5h5.4M313.8 304.5h1.4M317.8 304.5h5.4M323.8 304.5h5.4M329.8 304.5h8.4M339.8 304.5h2.4M40.8 305.5h2.4M59.8 305.5h1.4M68.8 305.5h1.4M103.8 305.5h2.4M113.8 305.5h2.4M119.8 305.5h1.4M143.8 305.5h1.4M146.8 305.5h1.4M158.8 305.5h1.4M182.8 305.5h2.4M220.8 305.5h4.4M302.8 305.5h1.4M306.8 305.5h9.4M317.8 305.5h5.4M323.8 305.5h2.4M326.8 305.5h8.4M335.8 305.5h2.4M338.8 305.5h1.4M41.8 306.5h1.4M68.8 306.5h1.4M103.8 306.5h3.4M139.8 306.5h1.4M144.8 306.5h1.4M156.8 306.5h1.4M161.8 306.5h1.4M182.8 306.5h1.4M219.8 306.5h4.4M307.8 306.5h1.4M311.8 306.5h2.4M316.8 306.5h2.4M320.8 306.5h4.4M325.8 306.5h1.4M327.8 306.5h1.4M329.8 306.5h4.4M334.8 306.5h1.4M337.8 306.5h1.4M23.8 307.5h3.4M61.8 307.5h1.4M67.8 307.5h1.4M75.8 307.5h1.4M87.8 307.5h2.4M99.8 307.5h1.4M145.8 307.5h1.4M155.8 307.5h3.4M169.8 307.5h2.4M183.8 307.5h2.4M300.8 307.5h3.4M304.8 307.5h4.4M316.8 307.5h3.4M320.8 307.5h2.4M328.8 307.5h1.4M330.8 307.5h4.4M336.8 307.5h1.4M20.8 308.5h7.4M60.8 308.5h1.4M68.8 308.5h1.4M77.8 308.5h1.4M87.8 308.5h1.4M105.8 308.5h2.4M159.8 308.5h2.4M184.8 308.5h1.4M322.8 308.5h3.4M329.8 308.5h1.4M331.8 308.5h2.4M24.8 309.5h2.4M66.8 309.5h1.4M68.8 309.5h1.4M70.8 309.5h2.4M86.8 309.5h1.4M99.8 309.5h1.4M157.8 309.5h1.4M160.8 309.5h1.4M177.8 309.5h1.4M184.8 309.5h1.4M186.8 309.5h1.4M360.8 309.5h3.4M23.8 310.5h1.4M27.8 310.5h1.4M58.8 310.5h1.4M67.8 310.5h5.4M86.8 310.5h2.4M140.8 310.5h2.4M177.8 310.5h1.4M229.8 310.5h3.4M25.8 311.5h2.4M61.8 311.5h1.4M70.8 311.5h3.4M87.8 311.5h1.4M102.8 311.5h1.4M139.8 311.5h2.4M145.8 311.5h1.4M176.8 311.5h3.4M335.8 311.5h3.4M67.8 312.5h1.4M70.8 312.5h3.4M139.8 312.5h1.4M176.8 312.5h2.4M183.8 312.5h1.4M274.8 312.5h3.4M321.8 312.5h4.4M331.8 312.5h3.4M341.8 312.5h4.4M6.8 313.5h1.4M8.8 313.5h2.4M13.8 313.5h1.4M19.8 313.5h1.4M71.8 313.5h1.4M125.8 313.5h1.4M171.8 313.5h1.4M175.8 313.5h3.4M180.8 313.5h1.4M182.8 313.5h5.4M268.8 313.5h3.4M7.8 314.5h3.4M12.8 314.5h1.4M15.8 314.5h3.4M19.8 314.5h2.4M66.8 314.5h2.4M127.8 314.5h1.4M140.8 314.5h1.4M174.8 314.5h1.4M183.8 314.5h3.4M228.8 314.5h3.4M333.8 314.5h3.4M354.8 314.5h3.4M361.8 314.5h3.4M2.8 315.5h1.4M10.8 315.5h1.4M12.8 315.5h1.4M16.8 315.5h1.4M20.8 315.5h1.4M35.8 315.5h1.4M140.8 315.5h2.4M147.8 315.5h2.4M169.8 315.5h1.4M173.8 315.5h1.4M175.8 315.5h1.4M183.8 315.5h1.4M186.8 315.5h1.4M317.8 315.5h3.4M366.8 315.5h3.4M9.8 316.5h2.4M13.8 316.5h2.4M16.8 316.5h3.4M20.8 316.5h3.4M31.8 316.5h1.4M111.8 316.5h1.4M139.8 316.5h3.4M147.8 316.5h1.4M165.8 316.5h1.4M167.8 316.5h3.4M172.8 316.5h4.4M185.8 316.5h1.4M280.8 316.5h4.4M303.8 316.5h3.4M364.8 316.5h5.4M10.8 317.5h1.4M14.8 317.5h1.4M19.8 317.5h3.4M23.8 317.5h1.4M31.8 317.5h2.4M59.8 317.5h1.4M89.8 317.5h1.4M133.8 317.5h1.4M136.8 317.5h1.4M138.8 317.5h2.4M167.8 317.5h1.4M170.8 317.5h7.4M185.8 317.5h2.4M188.8 317.5h3.4M275.8 317.5h3.4M352.8 317.5h4.4M357.8 317.5h2.4M12.8 318.5h1.4M15.8 318.5h2.4M18.8 318.5h2.4M22.8 318.5h2.4M50.8 318.5h1.4M89.8 318.5h1.4M135.8 318.5h2.4M138.8 318.5h2.4M145.8 318.5h1.4M158.8 318.5h1.4M170.8 318.5h5.4M184.8 318.5h2.4M353.8 318.5h7.4M12.8 319.5h4.4M48.8 319.5h1.4M70.8 319.5h1.4M138.8 319.5h1.4M156.8 319.5h1.4M166.8 319.5h4.4M171.8 319.5h2.4M181.8 319.5h3.4M185.8 319.5h2.4M356.8 319.5h1.4M13.8 320.5h3.4M23.8 320.5h2.4M43.8 320.5h1.4M69.8 320.5h1.4M79.8 320.5h1.4M144.8 320.5h2.4M149.8 320.5h1.4M154.8 320.5h1.4M167.8 320.5h4.4M183.8 320.5h1.4M185.8 320.5h2.4M272.8 320.5h3.4M357.8 320.5h1.4M359.8 320.5h4.4M11.8 321.5h1.4M15.8 321.5h1.4M44.8 321.5h1.4M79.8 321.5h1.4M147.8 321.5h1.4M151.8 321.5h1.4M154.8 321.5h1.4M165.8 321.5h1.4M169.8 321.5h1.4M171.8 321.5h1.4M183.8 321.5h2.4M282.8 321.5h5.4M357.8 321.5h3.4M11.8 322.5h1.4M31.8 322.5h1.4M44.8 322.5h1.4M149.8 322.5h2.4M166.8 322.5h1.4M195.8 322.5h3.4M343.8 322.5h6.4M18.8 323.5h1.4M24.8 323.5h1.4M29.8 323.5h1.4M47.8 323.5h1.4M146.8 323.5h1.4M149.8 323.5h1.4M165.8 323.5h1.4M167.8 323.5h1.4M181.8 323.5h3.4M343.8 323.5h3.4M12.8 324.5h1.4M15.8 324.5h1.4M24.8 324.5h2.4M29.8 324.5h1.4M47.8 324.5h1.4M110.8 324.5h1.4M139.8 324.5h1.4M147.8 324.5h1.4M154.8 324.5h1.4M199.8 324.5h3.4M207.8 324.5h3.4M361.8 324.5h3.4M30.8 325.5h1.4M146.8 325.5h2.4M154.8 325.5h1.4M159.8 325.5h1.4M165.8 325.5h2.4M199.8 325.5h3.4M355.8 325.5h3.4M25.8 326.5h1.4M139.8 326.5h1.4M146.8 326.5h1.4M148.8 326.5h1.4M152.8 326.5h1.4M163.8 326.5h1.4M226.8 326.5h3.4M284.8 326.5h3.4M25.8 327.5h1.4M149.8 327.5h2.4M160.8 327.5h1.4M163.8 327.5h1.4M229.8 327.5h3.4M347.8 327.5h4.4M14.8 328.5h1.4M19.8 328.5h1.4M24.8 328.5h1.4M91.8 328.5h1.4M106.8 328.5h2.4M309.8 328.5h3.4M10.8 329.5h1.4M16.8 329.5h1.4M18.8 329.5h1.4M90.8 329.5h1.4M109.8 329.5h1.4M244.8 329.5h3.4M12.8 330.5h1.4M16.8 330.5h1.4M18.8 330.5h2.4M89.8 330.5h2.4M108.8 330.5h1.4M137.8 330.5h1.4M233.8 330.5h5.4M12.8 331.5h1.4M16.8 331.5h2.4M87.8 331.5h1.4M89.8 331.5h2.4M132.8 331.5h1.4M183.8 331.5h5.4M216.8 331.5h3.4M231.8 331.5h7.4M335.8 331.5h6.4M62.8 332.5h1.4M181.8 332.5h3.4M227.8 332.5h4.4M232.8 332.5h3.4M175.8 333.5h3.4M199.8 333.5h3.4M228.8 333.5h6.4M236.8 333.5h1.4M347.8 333.5h3.4M-0.2 334.5h2.4M13.8 334.5h1.4M27.8 334.5h1.4M83.8 334.5h1.4M88.8 334.5h1.4M131.8 334.5h1.4M148.8 334.5h1.4M228.8 334.5h6.4M335.8 334.5h3.4M-0.2 335.5h2.4M36.8 335.5h1.4M82.8 335.5h1.4M91.8 335.5h1.4M124.8 335.5h1.4M131.8 335.5h1.4M148.8 335.5h3.4M152.8 335.5h3.4M201.8 335.5h3.4M229.8 335.5h1.4M231.8 335.5h3.4M0.8 336.5h1.4M67.8 336.5h1.4M69.8 336.5h1.4M82.8 336.5h1.4M90.8 336.5h1.4M123.8 336.5h1.4M146.8 336.5h1.4M148.8 336.5h2.4M227.8 336.5h3.4M231.8 336.5h3.4M235.8 336.5h2.4M65.8 337.5h5.4M75.8 337.5h1.4M79.8 337.5h1.4M82.8 337.5h1.4M90.8 337.5h2.4M113.8 337.5h2.4M117.8 337.5h3.4M123.8 337.5h1.4M147.8 337.5h1.4M223.8 337.5h3.4M231.8 337.5h4.4M343.8 337.5h3.4M31.8 338.5h2.4M65.8 338.5h2.4M77.8 338.5h5.4M118.8 338.5h3.4M124.8 338.5h3.4M132.8 338.5h2.4M146.8 338.5h2.4M160.8 338.5h1.4M201.8 338.5h3.4M231.8 338.5h6.4M320.8 338.5h2.4M329.8 338.5h4.4M344.8 338.5h3.4M65.8 339.5h1.4M67.8 339.5h1.4M71.8 339.5h3.4M77.8 339.5h3.4M81.8 339.5h2.4M118.8 339.5h3.4M124.8 339.5h2.4M133.8 339.5h1.4M135.8 339.5h1.4M175.8 339.5h3.4M183.8 339.5h3.4M222.8 339.5h3.4M235.8 339.5h5.4M251.8 339.5h5.4M319.8 339.5h4.4M340.8 339.5h4.4M345.8 339.5h4.4M72.8 340.5h1.4M76.8 340.5h3.4M80.8 340.5h1.4M118.8 340.5h3.4M124.8 340.5h2.4M135.8 340.5h1.4M307.8 340.5h3.4M318.8 340.5h4.4M323.8 340.5h1.4M337.8 340.5h4.4M34.8 341.5h1.4M54.8 341.5h1.4M74.8 341.5h2.4M78.8 341.5h3.4M82.8 341.5h1.4M114.8 341.5h3.4M118.8 341.5h2.4M121.8 341.5h1.4M198.8 341.5h3.4M231.8 341.5h4.4M318.8 341.5h4.4M323.8 341.5h6.4M34.8 342.5h1.4M69.8 342.5h4.4M79.8 342.5h5.4M105.8 342.5h1.4M111.8 342.5h1.4M115.8 342.5h1.4M119.8 342.5h5.4M126.8 342.5h3.4M135.8 342.5h1.4M139.8 342.5h1.4M188.8 342.5h5.4M206.8 342.5h3.4M224.8 342.5h3.4M311.8 342.5h3.4M317.8 342.5h1.4M319.8 342.5h3.4M323.8 342.5h5.4M20.8 343.5h1.4M68.8 343.5h5.4M81.8 343.5h3.4M90.8 343.5h1.4M109.8 343.5h1.4M118.8 343.5h3.4M127.8 343.5h2.4M139.8 343.5h1.4M214.8 343.5h4.4M249.8 343.5h5.4M255.8 343.5h3.4M314.8 343.5h3.4M318.8 343.5h4.4M325.8 343.5h1.4M20.8 344.5h1.4M70.8 344.5h1.4M81.8 344.5h2.4M90.8 344.5h1.4M109.8 344.5h1.4M115.8 344.5h8.4M127.8 344.5h1.4M129.8 344.5h1.4M166.8 344.5h4.4M204.8 344.5h4.4M250.8 344.5h3.4M255.8 344.5h5.4M317.8 344.5h1.4M319.8 344.5h2.4M324.8 344.5h1.4M326.8 344.5h3.4M83.8 345.5h1.4M93.8 345.5h1.4M113.8 345.5h1.4M115.8 345.5h5.4M121.8 345.5h1.4M129.8 345.5h1.4M147.8 345.5h1.4M189.8 345.5h7.4M236.8 345.5h4.4M278.8 345.5h3.4M319.8 345.5h2.4M23.8 346.5h1.4M34.8 346.5h1.4M76.8 346.5h1.4M116.8 346.5h1.4M118.8 346.5h1.4M125.8 346.5h1.4M135.8 346.5h2.4M148.8 346.5h1.4M157.8 346.5h1.4M185.8 346.5h3.4M315.8 346.5h1.4M318.8 346.5h7.4M326.8 346.5h3.4M22.8 347.5h1.4M90.8 347.5h1.4M92.8 347.5h2.4M114.8 347.5h1.4M124.8 347.5h1.4M151.8 347.5h1.4M165.8 347.5h3.4M250.8 347.5h3.4M313.8 347.5h14.4M66.8 348.5h2.4M70.8 348.5h2.4M77.8 348.5h1.4M89.8 348.5h1.4M92.8 348.5h2.4M100.8 348.5h2.4M113.8 348.5h3.4M121.8 348.5h1.4M190.8 348.5h3.4M213.8 348.5h3.4M309.8 348.5h3.4M316.8 348.5h9.4M90.8 349.5h2.4M99.8 349.5h1.4M110.8 349.5h1.4M113.8 349.5h3.4M120.8 349.5h1.4M190.8 349.5h4.4M220.8 349.5h3.4M318.8 349.5h6.4M19.8 350.5h1.4M21.8 350.5h3.4M86.8 350.5h1.4M91.8 350.5h1.4M120.8 350.5h2.4M254.8 350.5h3.4M293.8 350.5h3.4M301.8 350.5h3.4M21.8 351.5h1.4M74.8 351.5h1.4M91.8 351.5h2.4M95.8 351.5h1.4M120.8 351.5h1.4M137.8 351.5h1.4M277.8 351.5h3.4M316.8 351.5h3.4M321.8 351.5h3.4M72.8 352.5h1.4M74.8 352.5h1.4M77.8 352.5h1.4M85.8 352.5h1.4M91.8 352.5h1.4M96.8 352.5h1.4M102.8 352.5h1.4M122.8 352.5h1.4M138.8 352.5h1.4M179.8 352.5h3.4M189.8 352.5h3.4M269.8 352.5h3.4M45.8 353.5h1.4M47.8 353.5h2.4M50.8 353.5h1.4M52.8 353.5h1.4M64.8 353.5h2.4M70.8 353.5h1.4M72.8 353.5h2.4M75.8 353.5h2.4M83.8 353.5h1.4M91.8 353.5h1.4M98.8 353.5h1.4M102.8 353.5h2.4M120.8 353.5h1.4M123.8 353.5h2.4M226.8 353.5h3.4M45.8 354.5h1.4M49.8 354.5h1.4M63.8 354.5h3.4M71.8 354.5h4.4M76.8 354.5h1.4M99.8 354.5h1.4M121.8 354.5h2.4M124.8 354.5h1.4M195.8 354.5h3.4M201.8 354.5h3.4M264.8 354.5h4.4M321.8 354.5h3.4M49.8 355.5h1.4M64.8 355.5h4.4M71.8 355.5h1.4M98.8 355.5h4.4M123.8 355.5h1.4M257.8 355.5h3.4M318.8 355.5h3.4M9.8 356.5h3.4M64.8 356.5h3.4M68.8 356.5h1.4M71.8 356.5h1.4M99.8 356.5h2.4M122.8 356.5h2.4M179.8 356.5h4.4M242.8 356.5h3.4M315.8 356.5h3.4M1.8 357.5h1.4M27.8 357.5h1.4M68.8 357.5h1.4M99.8 357.5h1.4M296.8 357.5h5.4M2.8 358.5h1.4M65.8 358.5h1.4M107.8 358.5h1.4M121.8 358.5h1.4M268.8 358.5h3.4M307.8 358.5h3.4M322.8 358.5h4.4M15.8 359.5h3.4M244.8 359.5h4.4M251.8 359.5h3.4M318.8 359.5h3.4M322.8 359.5h3.4M16.8 360.5h2.4M194.8 360.5h4.4M15.8 361.5h2.4M59.8 361.5h1.4M85.8 361.5h1.4M106.8 361.5h1.4M256.8 361.5h4.4M4.8 362.5h3.4M105.8 362.5h2.4M110.8 362.5h1.4M184.8 362.5h3.4M272.8 362.5h4.4M282.8 362.5h3.4M4.8 363.5h4.4M66.8 363.5h1.4M103.8 363.5h3.4M107.8 363.5h1.4M109.8 363.5h2.4M292.8 363.5h3.4M6.8 364.5h1.4M59.8 364.5h1.4M106.8 364.5h1.4M108.8 364.5h2.4M7.8 365.5h1.4M60.8 365.5h1.4M62.8 365.5h1.4M103.8 365.5h1.4M105.8 365.5h1.4M107.8 365.5h1.4M262.8 365.5h3.4M59.8 366.5h2.4M78.8 366.5h1.4M106.8 366.5h3.4M252.8 366.5h3.4M61.8 367.5h2.4M95.8 367.5h1.4M105.8 367.5h1.4M107.8 367.5h2.4M170.8 367.5h3.4M249.8 367.5h3.4M272.8 367.5h5.4M298.8 367.5h3.4M95.8 368.5h1.4M108.8 368.5h1.4M113.8 368.5h1.4M146.8 368.5h3.4M234.8 368.5h3.4M261.8 368.5h3.4M265.8 368.5h3.4M314.8 368.5h3.4M82.8 369.5h1.4M89.8 369.5h1.4M110.8 369.5h1.4M126.8 369.5h1.4M292.8 369.5h3.4M30.8 370.5h1.4M82.8 370.5h1.4M111.8 370.5h1.4M120.8 370.5h1.4M265.8 370.5h3.4M275.8 370.5h3.4M86.8 371.5h1.4M89.8 371.5h1.4M120.8 371.5h1.4M126.8 371.5h1.4M258.8 371.5h5.4M5.8 372.5h1.4M197.8 372.5h3.4M304.8 372.5h5.4M239.8 373.5h3.4M258.8 373.5h5.4M305.8 375.5h3.4M9.8 376.5h1.4M59.8 376.5h1.4M270.8 376.5h3.4M247.8 377.5h4.4M275.8 377.5h3.4M94.8 378.5h1.4M232.8 378.5h3.4M238.8 378.5h6.4M253.8 378.5h4.4M253.8 379.5h4.4M297.8 379.5h3.4M9.8 380.5h1.4M253.8 380.5h4.4M269.8 380.5h3.4M19.8 381.5h1.4M161.8 381.5h3.4M225.8 381.5h3.4M9.8 382.5h1.4M299.8 382.5h4.4M248.8 384.5h3.4M230.8 386.5h3.4M117.8 387.5h1.4M227.8 387.5h3.4M246.8 387.5h3.4M254.8 387.5h3.4M302.8 387.5h3.4M262.8 388.5h4.4M277.8 388.5h3.4M72.8 389.5h1.4M250.8 389.5h3.4M255.8 389.5h3.4M267.8 389.5h3.4M238.8 391.5h5.4M246.8 391.5h4.4M260.8 391.5h3.4M299.8 391.5h4.4M244.8 392.5h1.4M248.8 392.5h1.4M250.8 392.5h1.4M268.8 392.5h3.4M244.8 393.5h1.4M246.8 393.5h1.4M249.8 393.5h1.4M251.8 393.5h3.4M246.8 394.5h1.4M248.8 394.5h1.4M251.8 394.5h3.4M246.8 395.5h1.4M248.8 395.5h1.4M251.8 395.5h3.4M212.8 396.5h5.4M246.8 396.5h1.4M250.8 396.5h1.4M268.8 396.5h3.4M247.8 397.5h2.4M250.8 397.5h1.4M267.8 397.5h3.4M248.8 398.5h2.4M254.8 398.5h3.4M214.8 399.5h3.4M247.8 399.5h3.4M173.8 400.5h3.4M243.8 401.5h3.4M274.8 401.5h3.4M249.8 402.5h3.4M284.8 404.5h3.4M259.8 405.5h3.4M286.8 405.5h3.4M62.8 407.5h1.4M61.8 408.5h1.4M44.8 410.5h1.4M140.8 411.5h3.4M26.8 412.5h1.4M298.8 412.5h4.4M26.8 413.5h1.4M146.8 418.5h3.4M234.8 420.5h3.4M267.8 421.5h3.4M262.8 422.5h3.4M225.8 425.5h3.4M196.8 426.5h3.4M239.8 426.5h4.4M273.8 426.5h3.4M266.8 428.5h5.4M279.8 430.5h3.4M267.8 439.5h3.4M272.8 440.5h3.4M181.8 442.5h3.4M263.8 445.5h3.4M217.8 446.5h3.4M169.8 449.5h3.4M268.8 449.5h3.4M162.8 451.5h3.4M265.8 455.5h5.4M275.8 457.5h3.4M119.8 459.5h3.4M264.8 471.5h3.4M244.8 475.5h3.4M125.8 487.5h3.4M208.8 535.5h3.4M175.8 588.5h3.4M145.8 596.5h2.4M148.8 596.5h1.4M139.8 597.5h1.4M143.8 597.5h1.4M146.8 597.5h1.4M148.8 597.5h4.4M153.8 597.5h6.4M132.8 598.5h1.4M140.8 598.5h6.4M148.8 598.5h2.4M151.8 598.5h4.4M129.8 599.5h4.4M137.8 599.5h11.4M149.8 599.5h1.4M128.8 600.5h5.4M136.8 600.5h5.4M142.8 600.5h8.4M129.8 601.5h12.4M142.8 601.5h1.4M144.8 601.5h6.4M153.8 601.5h3.4M129.8 602.5h2.4M132.8 602.5h7.4M141.8 602.5h2.4M144.8 602.5h4.4M125.8 603.5h2.4M130.8 603.5h1.4M133.8 603.5h5.4M140.8 603.5h1.4M142.8 603.5h1.4M146.8 603.5h2.4M149.8 603.5h2.4M116.8 604.5h2.4M119.8 604.5h1.4M123.8 604.5h7.4M133.8 604.5h5.4M142.8 604.5h1.4M144.8 604.5h2.4M112.8 605.5h9.4M122.8 605.5h1.4M124.8 605.5h7.4M135.8 605.5h3.4M116.8 606.5h14.4M120.8 607.5h3.4M127.8 607.5h3.4" stroke="#fa3512" stroke-width="1.4" fill="none"/>
<path d="M265.5 235.5h1.2M257 236h1.2M260.5 236.9h2.2M269.5 236.1h1.2M264.3 237.6h1.2M265.8 237.5h1.2M253.1 238.3h1.2M251.5 239.8h1.2M270.1 239.5h1.2M297.2 239.5h1.2M299.4 239.2h1.2M301 239.5h1.2M248.8 240.6h1.2M251.6 240.8h2.2M255.3 240.1h1.2M256.9 240.3h2.2M267.5 240.9h1.2M271.8 240.1h1.2M277.1 240.2h1.2M300.3 240.2h1.2M305.4 240.2h1.2M260.7 241.5h2.2M264.3 241.7h2.2M266.7 241h1.2M269.6 242h1.2M296.9 241.7h2.2M307.5 241h2.2M250.2 242.6h1.2M252.7 242.3h1.2M260.5 242.2h1.2M263.4 242.8h1.2M265.9 242.1h1.2M269.1 242.2h1.2M271.5 242.6h1.2M279.3 242h1.2M303.2 242.2h1.2M308.5 242h2.2M247.7 243.7h1.2M252.9 243.9h1.2M257.6 243.3h1.2M259.7 244h2.2M266.3 243.3h1.2M267.8 243.3h1.2M272.1 243h2.2M276.5 243.4h1.2M278.6 243.8h1.2M292.1 243.5h2.2M295.1 243.7h1.2M301.2 243.9h1.2M304.5 243.6h1.2M306.5 243.4h1.2M309.2 243.9h1.2M311.2 243h1.2M244.8 244.2h1.2M263.4 244.1h1.2M264.6 244.4h1.2M266.5 244.9h1.2M269 244.2h2.2M273.9 244.1h1.2M290 244.2h1.2M294.4 244.1h1.2M303 244.6h1.2M310.7 244.6h1.2M249.8 245.1h1.2M253.7 245.4h1.2M265.3 245.1h1.2M266.5 245.6h1.2M269.4 245.9h2.2M273.1 245.1h1.2M283.2 245.7h1.2M285.5 245.5h1.2M290.4 245.8h1.2M295.1 245.8h1.2M299.2 245.3h1.2M301.2 245.2h2.2M315.5 245.4h1.2M244.9 246.3h2.2M252 246.6h1.2M253.6 246.6h2.2M256.8 246.7h2.2M264.7 246.8h1.2M266.8 246.6h1.2M269.1 246.5h1.2M272.7 247h1.2M276.5 246.3h1.2M278.9 246h1.2M284.6 246.8h1.2M292.2 246.6h1.2M294.3 246.8h1.2M301.7 246.6h2.2M309.7 246.7h2.2M313.8 246.2h1.2M317.3 246.7h2.2M250.1 247.6h1.2M253.2 247.4h1.2M255 247.1h2.2M271 247.8h1.2M274.1 247.8h1.2M275.9 247.9h1.2M283.5 247.9h1.2M298.8 247.1h1.2M301 247.5h1.2M302.8 247.9h2.2M311.5 247.6h1.2M318.8 247.5h1.2M246.9 248.1h2.2M250.9 248.9h1.2M252.6 248h1.2M254.5 248.5h1.2M265.4 248h1.2M267.4 248.5h1.2M268.5 248.4h1.2M270.6 248.7h1.2M293.9 248.3h1.2M295.7 248.9h1.2M299.2 248.4h2.2M302.8 248.7h1.2M254.4 249.1h1.2M257.6 249.4h2.2M261.9 249.1h1.2M264.5 249.2h2.2M272.8 249.7h1.2M280 249h2.2M287.4 249.5h1.2M296.3 249.9h1.2M301.8 249.9h1.2M309.3 249.4h2.2M319.1 249.4h2.2M250.6 250.6h2.2M253.5 250.7h2.2M258.2 250.9h1.2M259.8 250.1h1.2M262.3 250.9h1.2M265.4 250.6h2.2M269.1 250.4h1.2M275.6 250.3h1.2M279.1 250.3h2.2M284.1 250.5h2.2M286.8 251h2.2M290.6 250.5h1.2M297.6 250.9h1.2M303.9 250.3h1.2M308.6 250.6h1.2M321.8 250.1h1.2M258.4 251.4h1.2M262 251.5h1.2M268.3 251.9h2.2M275.3 251.8h1.2M278.9 251.5h1.2M288.8 251.4h1.2M292.4 251.8h2.2M295.6 251h1.2M305.9 251.7h2.2M313.8 251.4h2.2M317.1 251.2h2.2M321.4 251.6h2.2M243.9 252.9h1.2M246.8 252.8h1.2M251.4 252h1.2M254 252.2h1.2M260.5 252.1h1.2M264.8 252.3h1.2M267 252.9h1.2M272.8 252.2h1.2M276 252h2.2M278.8 252.3h1.2M280.8 252.1h1.2M288 252.6h1.2M291.1 253h2.2M294.8 252.7h1.2M298.8 252.2h2.2M302.3 252.7h1.2M304.3 252.8h2.2M307.3 252.1h1.2M309.4 252.2h1.2M313.8 252.7h1.2M317.8 252.5h1.2M320.2 252.1h1.2M322.1 252h1.2M323.6 252.7h1.2M245.1 253.4h1.2M258.7 253.8h1.2M267.7 253h2.2M276.6 253h1.2M279.2 253.1h1.2M281.4 253.2h1.2M285.7 253.6h1.2M289.7 253.4h1.2M307.5 253.4h2.2M315.4 253.2h1.2M319.3 253.3h1.2M325.7 253.7h1.2M241.3 254.3h1.2M246.8 254.7h1.2M250.2 254.6h1.2M251.6 254.2h2.2M256.2 254.7h2.2M259.3 254.8h2.2M261.8 254.1h1.2M271.3 254.7h2.2M274 254.7h1.2M286.8 254.3h2.2M293 254.5h1.2M295.1 254.9h1.2M299.2 254.4h2.2M305.8 254.9h1.2M309.8 254.8h2.2M314.5 254.5h1.2M317.9 254.8h1.2M322.3 254.2h1.2M324 254.6h1.2M325.6 254.8h1.2M241 256h1.2M249.6 255.5h1.2M251.7 255.6h2.2M264 255.5h1.2M266.7 255.5h1.2M280.8 255.9h1.2M287.9 255.5h2.2M295.7 255.3h2.2M299.4 255.3h2.2M308.3 255.6h1.2M311.4 255.2h1.2M313.3 255.8h2.2M322 255.7h2.2M325.1 255.4h1.2M327 255.2h1.2M246.4 256.7h1.2M252.9 256.9h1.2M263.7 256.8h1.2M269.4 256.9h1.2M272.4 256.2h1.2M275.6 256.2h2.2M278.8 256.1h2.2M282.6 256h1.2M289.3 256.4h2.2M292 256.5h1.2M295.1 256.8h1.2M296.8 256.5h1.2M301.5 256.3h1.2M311.6 256.3h2.2M314.7 256.6h1.2M317.7 256.3h1.2M320.2 256h1.2M239.4 257.1h1.2M246.3 257.6h1.2M250.1 258h1.2M253.6 257.9h1.2M256.6 257.5h2.2M260.1 257.8h1.2M264.6 257.5h1.2M274.4 257.3h2.2M280.4 257.9h1.2M284 257.8h1.2M286.3 257.3h2.2M289.4 257.4h1.2M290.6 257.5h2.2M295 257.7h1.2M300.1 257h1.2M307 257.9h1.2M311.1 258h1.2M312.9 257.8h1.2M314.5 257.9h1.2M316.8 257.9h1.2M320.7 257.6h1.2M240.2 258.7h2.2M252 259h1.2M273.5 258.1h2.2M279 259h1.2M294.1 258.3h1.2M298.5 258.4h1.2M301.9 258.5h2.2M305 258.3h1.2M307.3 258.3h1.2M310.5 258.3h2.2M254.3 259.2h1.2M257.7 259.9h1.2M259.7 259.8h2.2M262.4 259.9h1.2M277.6 259.2h1.2M293.1 260h2.2M296.4 259.8h2.2M300.3 260h1.2M303 259.1h1.2M316.2 259.4h2.2M318.7 259.5h1.2M322.4 259h1.2M241.7 260.6h2.2M250.1 261h1.2M254.2 260.9h1.2M257 260.7h1.2M260 260.1h1.2M261.5 260.8h1.2M263.6 260.8h1.2M271.9 260h1.2M275 260.4h1.2M287.5 260.3h1.2M290.7 260.3h1.2M302.1 260.2h2.2M308.8 260.6h1.2M311.3 260.1h1.2M313.5 260.2h2.2M316.6 260.2h1.2M251.5 261.2h1.2M253.6 261.5h2.2M259 261.4h1.2M260.6 261.1h1.2M264.7 261.2h1.2M270.9 261.9h1.2M278.1 261.2h1.2M280.4 261.1h1.2M282.8 261.4h1.2M289.1 261.1h1.2M290.7 261.7h2.2M294 261.5h2.2M307.3 261.1h1.2M308.6 261.6h2.2M314 262h1.2M251.4 262.6h1.2M257.2 262.7h1.2M260.5 262.6h1.2M262.7 262.4h1.2M268.6 262h1.2M272.3 262.7h1.2M276.2 262.3h1.2M277.8 262.2h2.2M283 262.8h1.2M285.2 262.9h1.2M293.7 262.7h2.2M299.5 262.5h2.2M302.5 262.5h1.2M304.9 262.3h1.2M307.7 262.7h1.2M309.9 262.4h2.2M312.5 262.3h1.2M315.2 263h1.2M232.8 263.9h1.2M257.3 263.2h1.2M269.7 263.7h1.2M281.7 264h1.2M285.8 263.7h1.2M291.1 263.2h1.2M305.3 263.3h1.2M306.5 263.1h2.2M309.9 263.6h1.2M317.7 263.8h1.2M319.7 263.8h2.2M322.4 263.3h2.2M232.6 264.4h1.2M248.8 264.4h1.2M254.3 264.6h1.2M256 264.4h1.2M259.2 264.5h1.2M264.1 264.9h1.2M268 264.4h2.2M270.7 264.9h2.2M275.2 264.8h1.2M276.6 264.4h1.2M279.3 264.2h2.2M290.2 264.5h2.2M299.6 264.4h1.2M301.5 264.7h2.2M305.1 264h1.2M309.7 264.8h1.2M312.6 264.5h1.2M317.2 264.6h2.2M229.5 265.9h1.2M237.1 265.6h1.2M239.7 265.6h1.2M246.8 265.1h2.2M253.5 265h1.2M259.6 265.2h1.2M264 265.6h1.2M266 265.8h1.2M267.5 265.4h1.2M271.5 265.4h2.2M274.5 265.1h2.2M298.5 265.4h1.2M304.2 265.3h1.2M310.1 265.2h1.2M316.7 265.5h1.2M318.5 265.4h1.2M324 265.8h1.2M325.5 265.8h2.2M329 265.6h1.2M339.5 265.9h1.2M231.7 266.5h1.2M239.9 266.9h1.2M257 267h2.2M259.6 266.7h1.2M264 266.5h1.2M266 266.6h1.2M268.7 266.6h1.2M273.5 266.5h1.2M278.9 266.2h1.2M282 266.7h1.2M285.5 266.3h1.2M299.5 266.6h1.2M310.5 266.2h1.2M318.8 266.5h1.2M322.4 266.9h1.2M328.6 266.6h1.2M334.6 266.6h1.2M340.8 266.3h1.2M225.9 267.6h1.2M231 267.7h1.2M232.7 267.1h1.2M235.7 267.3h1.2M244 267.4h1.2M249.7 267.1h1.2M259 267.1h2.2M262.9 267.7h2.2M266 267.2h2.2M274.8 267.9h1.2M279.5 267.7h1.2M286.8 267.6h1.2M292.8 267.1h2.2M298 267h1.2M302.3 267.8h2.2M305.8 267.5h1.2M315.9 268h1.2M325.4 267.3h1.2M328.8 267.8h1.2M332.1 267.4h2.2M337.4 267.6h1.2M228.8 268.1h1.2M232 268.4h2.2M234.7 268.3h1.2M238.9 268.2h2.2M241.8 268.9h2.2M244.9 268.3h1.2M249.9 268.9h1.2M258.3 268.7h1.2M266.3 268.8h1.2M270.1 268.4h2.2M280.5 268.7h1.2M284 269h1.2M288.7 268.9h1.2M299.6 268.9h1.2M306.4 268h1.2M325.7 269h2.2M329.4 268.7h2.2M331.5 268h1.2M337.6 268.9h1.2M233.2 269.4h1.2M239.2 269.9h2.2M241.7 269.9h1.2M243.7 269.3h2.2M248.4 269.2h1.2M253 269h1.2M259.9 269.2h1.2M266.1 269.1h1.2M268.6 269.3h1.2M286 269.8h1.2M288.2 269.7h1.2M297.1 269.5h2.2M303.7 269.2h1.2M307.3 269.4h1.2M312.1 269.1h1.2M313.8 269.1h2.2M316.8 269.7h1.2M325.7 269.7h1.2M338.5 269.4h2.2M344.8 269.5h1.2M227.6 270.7h1.2M234.3 270.8h2.2M241.4 270.5h1.2M244.7 270.6h1.2M246.5 270.7h1.2M248.8 270.9h1.2M259.4 270.4h2.2M263.9 270.8h1.2M268.2 270.2h2.2M270.7 270.7h1.2M273.8 270.3h1.2M288.3 270.8h2.2M291.8 270.5h1.2M294.3 270.2h1.2M301.3 270.9h1.2M307.1 270.7h1.2M317.1 270.5h1.2M319 270.2h1.2M323 270.7h1.2M325.9 270.7h1.2M329.9 270.8h1.2M335.1 270.1h2.2M344.2 270.3h1.2M227.5 271.1h2.2M238.7 271.5h1.2M240.7 271.2h1.2M248.2 271.4h1.2M258.3 271.2h1.2M260.1 271.4h1.2M263.2 271.6h1.2M269.1 271.1h2.2M272.2 271.4h2.2M275.1 271.8h2.2M281.5 271h1.2M294.2 272h1.2M297.3 271.4h1.2M305.2 271h2.2M319.5 271.6h1.2M321.9 271.8h1.2M329.6 271.5h1.2M333.4 271.3h1.2M334.8 271.6h1.2M342.4 271.2h1.2M205.1 272.4h1.2M208.8 272.3h1.2M212.9 272.6h2.2M215.8 272.5h1.2M226 272.9h1.2M240 272.4h1.2M243.4 272.2h1.2M245.4 272.9h1.2M249.7 272.2h1.2M252.8 272.3h1.2M261.8 272.9h1.2M263.7 272.1h1.2M273.6 272.9h1.2M280.8 272.4h2.2M296.2 272.9h1.2M299.9 272.8h1.2M322.7 272.4h1.2M349 272.2h1.2M201.7 273.2h1.2M203.7 273.8h2.2M209.2 273.1h2.2M213.7 273.7h1.2M216.3 273.6h1.2M218.1 273.2h1.2M221.2 273.8h1.2M222.8 273.2h1.2M225.4 273.6h2.2M232 273h2.2M234.9 273.9h1.2M236.4 273.1h1.2M239.5 273.4h1.2M241.8 273.9h1.2M246.5 273.2h1.2M254.3 273h1.2M259.7 273.4h2.2M263.4 273.3h1.2M268 273.6h1.2M281 273.7h2.2M305 273h1.2M329.1 273.6h1.2M336.6 273.4h2.2M358.6 273.9h1.2M200.7 274.2h1.2M205.2 274.8h1.2M209.3 274.7h1.2M211.8 274.5h1.2M223 274.6h1.2M226.3 274.3h1.2M230.2 274h1.2M233.6 274.9h1.2M238.7 274.5h1.2M244.3 274.7h2.2M247.9 274.7h1.2M258.4 274.9h1.2M265.6 274.1h1.2M277.7 274.1h1.2M287.2 274.8h2.2M291.5 274.1h1.2M293.7 274.7h2.2M297.2 274.5h2.2M334 274.9h1.2M339.3 274.1h1.2M341.1 274.8h1.2M353.3 274.4h2.2M355.6 274.5h1.2M199.8 275.4h2.2M204.2 275.7h1.2M210.1 275.7h1.2M212.5 275.1h1.2M217.8 275.8h1.2M226 275.8h1.2M229 275.8h1.2M231.4 275.7h1.2M233.3 276h1.2M237.1 275.8h1.2M240.5 275h1.2M243.3 275.2h1.2M244.7 275.1h1.2M248 275h1.2M250.2 275.3h1.2M254.1 275.9h1.2M258.1 275.4h2.2M276 275.9h1.2M282.1 275.3h2.2M284.4 275.9h2.2M288 275.1h1.2M291 275.6h2.2M302.7 275.9h1.2M331.6 275.1h2.2M338.7 275.3h1.2M347.3 275.7h1.2M349.5 275.4h1.2M354.5 275.7h1.2M200.3 276.1h1.2M201.9 276.2h2.2M212.7 276.7h1.2M217.4 276.3h1.2M225.9 276.3h1.2M232.5 276.6h1.2M234.6 276.7h1.2M244.1 276.1h1.2M257 276.2h1.2M259.2 276.3h2.2M262.1 276.6h1.2M268 276.2h1.2M275.2 276.4h1.2M286.2 276.5h1.2M294.8 276.7h1.2M298.7 276.8h2.2M328.8 276.7h1.2M332.1 276.9h1.2M333.8 276.3h1.2M341.4 276.5h1.2M352.8 276.7h1.2M357.7 277h1.2M361.2 276.6h2.2M363.7 276.8h1.2M367.3 276.8h1.2M202.3 277.1h1.2M212.1 277.9h2.2M214.9 277.1h2.2M217.9 277.2h2.2M232.4 277.9h1.2M236.2 277.6h1.2M239.1 277.7h1.2M245.9 277.1h1.2M249.7 277.5h1.2M254 277.3h2.2M259.5 277.3h2.2M269.6 277.9h1.2M271.6 277.4h1.2M277.9 277.3h1.2M280.9 277.6h1.2M287.4 277.9h1.2M293.9 277.1h1.2M298.4 277.2h1.2M329.1 277.5h1.2M336.7 277.4h2.2M347.9 277.4h1.2M349.6 277.4h1.2M356.8 277.7h1.2M201.6 278h1.2M204.2 278.1h1.2M224 278.5h1.2M226.4 278.2h2.2M231.3 278.1h1.2M233.6 278.7h1.2M235.6 278.6h1.2M239.1 278.1h1.2M243.2 278.4h1.2M248.4 278h1.2M249.5 278.6h2.2M252.7 278.4h1.2M261.3 278.3h2.2M265.5 278.1h1.2M271 278.8h1.2M278.2 278.5h1.2M279.6 278.1h2.2M294.6 278.2h1.2M302.3 278.4h1.2M327.5 278.6h1.2M339.9 278h2.2M350.4 278.9h2.2M365.7 278.8h1.2M370.9 278.7h1.2M199.1 279.7h1.2M201.8 279.1h1.2M205.2 279.4h2.2M207.8 279.8h1.2M213.1 280h1.2M222.8 279.6h1.2M225.5 279.1h1.2M241.7 279.3h1.2M245.8 279.2h1.2M252.3 279.4h1.2M253.8 279.9h1.2M257.2 279.8h1.2M260.3 279.7h2.2M263.7 280h1.2M270.4 279.9h1.2M272.8 279.3h1.2M284.9 279.4h1.2M287.3 279.8h1.2M299.1 279.2h1.2M300.8 279.1h1.2M326.1 279h1.2M327.8 279.2h2.2M333.3 279.9h1.2M334.7 279.9h1.2M342.6 279.7h1.2M354.7 279.4h2.2M360 279.4h1.2M194.6 280.6h2.2M199.2 281h1.2M201.7 280.3h1.2M213.5 280.2h1.2M215.4 280.2h1.2M218.1 280.1h2.2M222 280.3h1.2M233.6 280.5h2.2M252.8 280.4h1.2M254.5 280.6h2.2M260.3 280h2.2M263.5 280.6h1.2M271.7 280.3h1.2M275.4 280.3h2.2M278.3 280.6h2.2M286.4 280.3h1.2M291.5 280.5h1.2M298.3 280.1h1.2M299.4 280h1.2M326.7 280.2h1.2M333.4 280.8h2.2M337.3 280.6h1.2M353.2 280.7h1.2M355.7 280.7h1.2M360.7 280.5h1.2M364.2 280.2h1.2M198.6 281.9h2.2M203.9 281.2h1.2M206.7 281.3h1.2M215.3 281.5h1.2M228.3 281.5h1.2M231.3 281.9h1.2M242 281.8h2.2M246.7 281.1h1.2M249 281.1h1.2M257.9 281.6h1.2M264.2 281.9h1.2M265.6 281.9h1.2M278.9 281.6h1.2M290.9 281.8h1.2M293.7 281h1.2M296.2 281.7h2.2M299.1 281.1h1.2M330.6 281.6h2.2M334.1 281.7h1.2M341 281.7h1.2M345.5 281.5h1.2M351.7 281.7h1.2M353.9 281.7h1.2M360.1 281.9h1.2M195.3 282.1h1.2M201.1 282.4h1.2M207.5 282.5h1.2M214.2 282.8h2.2M220.5 282.2h1.2M232.1 283h1.2M235.5 282.1h2.2M240.1 282.6h1.2M242.2 282.2h1.2M246.9 282.8h1.2M258.8 282.4h1.2M261.4 282.8h2.2M272.8 282.4h1.2M275.1 282.9h1.2M290.3 282.3h1.2M329 282.4h1.2M333.2 282.8h2.2M344.1 282.8h2.2M349.9 282.6h1.2M353.6 282.7h1.2M199.7 283.6h1.2M204.4 283.4h2.2M208 283.6h1.2M211 283.3h2.2M215.1 283.7h1.2M232 283.4h2.2M235.6 283.6h1.2M238.5 283.9h1.2M240.8 283.3h1.2M245.9 283.1h2.2M250.3 284h2.2M253.2 283.6h1.2M267.3 283.3h1.2M282.9 283.2h1.2M293.8 283.9h2.2M300.1 283.5h1.2M328.9 283.6h1.2M335 283.5h2.2M340.9 283.1h2.2M343.8 283.7h2.2M346.6 283.3h1.2M352.2 283.1h2.2M362.6 283.8h2.2M366.5 283.3h1.2M372.3 283.4h1.2M201.2 284.8h1.2M204.4 284.2h1.2M209.3 284.3h1.2M214.8 284.9h1.2M218.5 285h1.2M234 284.6h2.2M236.4 284.6h1.2M244.2 284.4h1.2M245.5 284.1h1.2M250.5 284.4h2.2M265.2 284.1h1.2M266.8 284.4h1.2M272.8 284.5h1.2M284.9 284.2h1.2M289.2 284.5h1.2M292.8 285h1.2M295.1 284.2h1.2M297.4 284.6h2.2M330.7 284.2h2.2M344.5 284.2h1.2M346.7 284.3h2.2M354.4 284.6h1.2M356.6 284.4h2.2M361.8 284.1h1.2M363.9 284.5h1.2M196.3 285.4h1.2M209.1 285.7h1.2M211.6 285.6h2.2M215.8 285.2h1.2M217.4 286h1.2M238.5 285.9h1.2M246.8 285.1h1.2M250.4 285.7h1.2M257.8 285.8h1.2M260.1 285.4h2.2M276.1 285.7h1.2M280.6 285.7h1.2M289.3 285.7h1.2M293.2 286h1.2M297.2 285.5h2.2M345 285.8h1.2M349 285.1h2.2M351.5 285.3h1.2M354.2 285.2h1.2M367.7 285.8h1.2M197.5 286.3h1.2M201.7 286h1.2M204.1 286.3h1.2M208.8 286.3h1.2M210.5 286.8h1.2M212.5 286.3h1.2M233.1 286.3h1.2M234.9 286.3h2.2M238 286.3h1.2M247.9 286h2.2M250.4 286.5h1.2M253.2 287h2.2M258.2 286.5h1.2M261 286.7h1.2M268.1 287h2.2M271.7 286.4h1.2M275.2 286.2h1.2M276.5 286.9h1.2M286.4 286.9h1.2M291.3 286.2h1.2M302.2 286.3h1.2M327.7 287h2.2M332.3 286.8h1.2M343.8 287h2.2M349 287h2.2M352.1 286h1.2M374.2 286.8h1.2M200.3 287.6h1.2M204.4 287.9h2.2M212.8 287.2h1.2M241.6 287.2h1.2M247.2 287.1h1.2M251.3 287h1.2M254.1 287.2h2.2M258.9 287.2h1.2M262.3 287.2h2.2M264.9 287.6h1.2M275.9 287.2h2.2M283.7 287.9h1.2M289.5 287h2.2M300.3 287.9h1.2M303.1 287.5h1.2M327.4 287.4h1.2M328.4 287.4h1.2M347.9 287.5h1.2M350.3 287.1h1.2M362.3 287.5h1.2M199.1 288.4h1.2M202.7 288.3h1.2M206.7 288.5h1.2M213 288.8h1.2M233.6 288.5h2.2M243.9 288.8h1.2M248.1 288.6h1.2M251.1 288.4h1.2M254.2 288.8h2.2M261 288.1h1.2M262.8 288.3h1.2M271.6 288.3h1.2M275.2 288.3h1.2M283.8 288.4h1.2M289.6 288.6h2.2M292.8 288.9h1.2M302 289h1.2M306.3 288.5h2.2M310.4 288.2h2.2M327.5 288.7h1.2M345.5 288.6h1.2M348.7 288.5h1.2M354.2 288.3h1.2M357.6 288.3h1.2M196.3 289.6h1.2M197.7 289.1h1.2M203.5 289.3h1.2M206 289.5h1.2M237.2 290h1.2M248 289.3h1.2M256.2 289.1h2.2M261.2 289.9h2.2M268.2 289.1h1.2M276 289.8h1.2M279.8 289.8h1.2M286.6 289.5h1.2M289 289.8h1.2M292.8 289.3h1.2M295.1 289.1h1.2M297.8 289.5h1.2M301.2 289.4h1.2M312 289.7h2.2M327.1 290h2.2M348.9 289.6h1.2M350.4 289.2h1.2M352.6 289.2h2.2M355.9 289.2h1.2M361 289.8h1.2M196.5 290.2h1.2M198.9 290h1.2M205.5 290.6h1.2M211.8 290.9h2.2M215 290.8h1.2M216.7 290.4h1.2M247.3 290.6h2.2M250.3 290.3h2.2M256.5 290.7h1.2M265.5 290.1h1.2M269.8 290.7h1.2M277.8 290.8h1.2M281.9 290.3h1.2M285.9 290.6h2.2M288.5 290.6h1.2M290.6 291h1.2M293.9 290.2h2.2M304.4 290.2h1.2M310.7 290.6h1.2M316.1 290.7h2.2M345.8 290.6h1.2M359 290.3h1.2M362.6 290.4h1.2M370.1 290.1h1.2M211 291h1.2M237.6 291.7h2.2M243.2 291.8h2.2M247.1 291.3h1.2M262.4 291.6h1.2M264.3 291.9h2.2M266.6 292h1.2M277.5 291.6h1.2M292.7 291.1h1.2M300 291.2h1.2M304.2 291.5h1.2M305.7 291h1.2M309.1 291.6h1.2M311.2 291.4h1.2M313.3 291h2.2M316.3 291.8h2.2M327.5 292h1.2M330.5 291.8h1.2M347.6 291.7h1.2M351.2 291.1h1.2M356.7 291.9h1.2M358.9 291.2h1.2M360.5 291.1h1.2M364.5 291.4h1.2M194.2 292.5h1.2M197.5 292.4h1.2M215.9 292.4h1.2M239 292.7h1.2M243.1 292.5h1.2M246.4 292.8h2.2M250.2 292.7h2.2M254.8 292.9h1.2M257.5 292.7h1.2M261 292.7h2.2M264.5 293h2.2M272.4 292.2h1.2M276.9 292.6h2.2M287.6 292.3h1.2M300.3 292.3h1.2M302.8 292.1h1.2M305 292.7h1.2M316.1 292.2h1.2M322.8 292.7h2.2M328.4 292.8h2.2M330.6 292.1h1.2M350.7 292.5h1.2M352.7 292.8h1.2M359.7 292.1h2.2M365 292.8h1.2M193.6 293.3h2.2M196.7 293h2.2M201.1 293.1h1.2M207 293.6h1.2M210.9 293h1.2M213.4 293.5h2.2M234.9 293h1.2M239.4 293.8h1.2M241.7 293.7h1.2M243.6 293.3h2.2M247.3 293.2h1.2M248.8 293.5h1.2M256.1 293.3h1.2M259 293.2h1.2M261.1 293h1.2M269.6 293.1h1.2M271.5 293.7h2.2M291.9 293.8h1.2M296.4 293.2h1.2M300.2 294h1.2M301.7 293.1h1.2M303.9 293.5h1.2M316.1 293.6h2.2M324.7 293.2h1.2M353.7 293.5h1.2M358.6 293.3h1.2M369.3 293.4h1.2M370.5 293.7h1.2M198.8 294.5h1.2M200.8 294.1h2.2M211.1 294.6h1.2M213.4 294h1.2M234 294.4h2.2M237.8 294.7h2.2M240.6 294.4h1.2M244.5 294.6h2.2M247.8 294h1.2M258.6 294.4h1.2M268.9 294.1h2.2M273 294.8h1.2M295.7 294.1h1.2M323.5 294.8h1.2M331.9 294.1h1.2M343.6 294.8h2.2M364.1 294.7h1.2M367.5 295h1.2M193.7 295.4h2.2M199.6 295.9h1.2M202 295.6h1.2M206.8 295.7h1.2M211.9 295.5h1.2M233.6 295.8h2.2M236.5 295.9h2.2M243.3 295.5h2.2M249.6 295.2h1.2M251.5 295.7h1.2M253.8 296h1.2M257.7 295.3h1.2M267.1 295.9h1.2M270.9 295.1h1.2M272.6 295.7h1.2M280.2 296h1.2M296 295.8h1.2M298.1 295.5h1.2M327.2 295.2h2.2M330.6 295.3h1.2M344.8 295.9h2.2M193.2 296.7h1.2M195.3 296.4h1.2M198.4 296.9h1.2M207.6 296.4h2.2M211.7 296.2h1.2M236.3 296.4h1.2M240.3 296.6h2.2M243.5 296.4h2.2M247.2 296.3h2.2M249.7 296.1h1.2M262.9 296.9h1.2M273.4 296.9h2.2M279 296.3h2.2M283.3 296.9h1.2M293.4 296.5h1.2M294.8 296.7h1.2M298.3 296.3h1.2M302.7 296.4h1.2M323.4 296.8h1.2M326.9 296.5h1.2M329 296.8h1.2M341.1 296.3h2.2M345.7 296.3h1.2M356.9 296.8h1.2M192.4 297.6h1.2M203.2 297.6h1.2M204.8 297.5h1.2M214.9 297.6h2.2M230.5 297.8h2.2M237 297.3h2.2M246.3 297.4h1.2M250.2 297.3h1.2M262.9 297.2h1.2M269.7 297.3h1.2M274.5 297.8h2.2M277.9 297.3h2.2M284 297.2h1.2M302.8 297.6h1.2M326 297.4h2.2M339.1 297.9h1.2M341.4 297.6h1.2M344.4 297.9h1.2M347.1 297.1h1.2M351 297.5h1.2M201.1 298.3h2.2M207.4 298.3h1.2M212.4 298.3h2.2M215.9 298.7h1.2M231.7 298.4h2.2M235.1 298.8h2.2M245.3 298.6h1.2M253.4 298.3h1.2M264 298.8h1.2M266.5 298.8h1.2M271.2 298.6h1.2M281.3 298.7h1.2M282.8 298.8h2.2M342.9 298.7h2.2M346.4 298.7h2.2M351.2 298.8h1.2M364.6 298h1.2M191.5 299.5h1.2M195.4 299.4h1.2M197.3 299.3h2.2M202.5 299.4h1.2M209.2 300h1.2M230.9 299.4h2.2M235.2 299.4h1.2M236.7 299.8h1.2M238.5 299.8h1.2M241.4 299.1h1.2M247.2 299h1.2M248.5 299.3h1.2M252.4 299.1h1.2M259.9 299.4h1.2M266.6 300h1.2M300.6 299.9h1.2M344.9 299.7h1.2M347.1 299.7h1.2M349.2 299.9h2.2M351.5 299.1h1.2M369.9 299.1h1.2M199 300.9h2.2M210.9 300.2h2.2M214.5 300.5h2.2M229.1 300.8h1.2M232.2 300.5h1.2M237.3 300.5h1.2M240.1 300h2.2M245.9 300.1h1.2M250.6 300.3h1.2M256 300.1h1.2M258.1 300.4h2.2M262.6 301h1.2M271.1 300.3h1.2M272.5 300.5h1.2M275.2 300.5h1.2M276.7 300.1h2.2M279.6 300.8h1.2M283.6 301h1.2M287.1 300.4h1.2M345.6 300.5h1.2M348.4 300.1h1.2M349.6 300.1h1.2M352.1 301h1.2M368 300.3h1.2M193.4 301.6h1.2M202.4 301.4h1.2M203.5 301.1h1.2M206.7 301.4h1.2M213.2 301.5h2.2M233.7 301.9h1.2M239 301.6h1.2M241.2 301.7h1.2M243.6 302h1.2M264.6 301.2h1.2M268 301.6h1.2M278.6 301.7h1.2M281.5 301.5h1.2M287.3 301.9h1.2M352 301.8h2.2M358.1 301.2h1.2M368.3 301.6h1.2M190 303h1.2M194 302.3h1.2M197.8 302.6h1.2M203.3 302.8h1.2M204.8 302.5h1.2M206.4 302.6h2.2M213.2 302.2h1.2M219 302.1h1.2M235.2 302.7h1.2M238.3 302.3h1.2M239.6 302.6h2.2M256.5 302.8h1.2M258.6 302.1h1.2M260.5 302.7h1.2M276.4 302.4h1.2M278.6 302.8h2.2M296.5 302.2h1.2M346.2 302.5h2.2M349.5 303h1.2M351.8 302.4h1.2M355.1 302.5h1.2M358.2 302.5h1.2M191.6 303.5h1.2M201.2 303.3h1.2M204 303.6h2.2M213.1 303.4h2.2M217.6 303.7h2.2M233.2 303.5h1.2M234.5 303.8h1.2M236.9 303.7h1.2M238.5 303.8h2.2M249.8 303.9h1.2M282.6 303h1.2M287.7 303.7h1.2M292.1 303.8h1.2M352.6 303.6h2.2M192.5 304.2h2.2M199.4 304.6h1.2M211.3 304.6h2.2M232 304.9h1.2M236.7 304.6h1.2M239.2 304.2h1.2M247.1 304.1h1.2M252.8 304.2h1.2M264.8 304.2h1.2M273.5 304.4h1.2M275.8 304.7h1.2M281.4 304.6h2.2M287.4 304.5h1.2M291.4 304.9h1.2M342.9 304.5h1.2M344.5 304.8h1.2M346.7 304.5h1.2M349.1 304.8h1.2M358.8 304.1h1.2M374.4 304.3h1.2M190.4 305.6h2.2M197.3 305.1h1.2M200.4 305.7h1.2M206 305.3h1.2M210.7 305.8h1.2M215.4 305.2h1.2M225.8 305.8h1.2M247.7 305.1h1.2M255.1 305.7h1.2M279.5 305.7h1.2M291 305.4h1.2M295 305.5h1.2M300.2 306h2.2M341.7 305.1h1.2M343.8 305.6h1.2M345.7 305.2h2.2M358.6 305.8h1.2M189.1 306.1h1.2M191.7 306.3h1.2M197.5 306.8h1.2M203.7 306.6h1.2M206.8 306.1h1.2M208.4 306.7h2.2M213 306.5h1.2M215.6 306.3h1.2M227.9 306.2h1.2M246 306.8h1.2M247.6 306.9h1.2M261.9 307h1.2M267.4 306.1h1.2M269.1 306.2h1.2M275 306.9h2.2M277.9 306.7h1.2M295.1 306.2h1.2M298.8 306.3h1.2M340.9 306.8h1.2M345.5 306.6h1.2M347.9 306.4h2.2M358.2 306.4h1.2M374.2 306.1h2.2M188.8 307.1h1.2M191.2 307.7h1.2M192.6 307.4h1.2M194.5 307.9h1.2M198.3 307.9h1.2M203 307.3h1.2M228.9 307.7h1.2M235.8 307.1h1.2M242.9 307.1h1.2M251.6 307.8h1.2M254 307.8h1.2M276.1 307.7h1.2M279.6 307.7h1.2M293.5 307h1.2M298.7 307.2h1.2M343.1 307.3h1.2M354.4 307.8h1.2M193.3 308.7h1.2M195.4 308.8h1.2M198.3 308.7h2.2M203.2 308.8h1.2M227.5 308.3h1.2M240 308.3h1.2M245.3 308.1h1.2M254.5 308.3h1.2M261.7 308.8h1.2M278.4 308.8h1.2M289.4 308h1.2M294.4 308.7h2.2M301.5 308.8h1.2M303.5 308.4h1.2M307.6 308.4h2.2M310.5 308.4h1.2M319 308.5h1.2M334.9 308.9h1.2M193.3 309.1h2.2M196.1 309.8h1.2M198.3 309.4h1.2M200.3 309.6h1.2M205.9 309.5h1.2M218.8 309.7h1.2M222.9 309.9h1.2M249.9 309.1h1.2M252.6 309.4h1.2M266.9 309.8h2.2M277 309.2h1.2M278.7 309.5h1.2M290.2 309.7h2.2M293 309.3h1.2M296 309.2h1.2M304.5 309.8h1.2M307.1 310h1.2M309.1 309.3h1.2M316.4 309.4h1.2M325.7 309.5h1.2M334.8 309h1.2M336.5 309.4h1.2M340 309.2h1.2M343.6 309.2h2.2M348.1 309.8h1.2M354.9 309.1h1.2M367.3 309.9h1.2M191.7 310h1.2M193.9 310.2h1.2M195.8 310.4h1.2M198.7 310.9h1.2M209.8 310.1h1.2M220 310.9h1.2M241.6 310.5h1.2M267.8 310.7h2.2M272.7 310.3h2.2M277.4 310.8h1.2M281.1 310.7h1.2M286.3 310.1h1.2M290.8 310.6h2.2M294.5 311h2.2M299.1 310.8h2.2M316.4 310.6h2.2M320.3 310.4h1.2M325.3 310.5h1.2M332.2 310.3h2.2M335.9 310.6h2.2M355.9 310.9h1.2M359.9 310.9h1.2M369.5 310.2h1.2M187.6 311.2h1.2M190 311.1h1.2M192.1 311.9h1.2M195.3 311.1h1.2M196.6 311.4h2.2M199.4 311.7h1.2M201.9 311.4h1.2M208.6 311.1h1.2M222.3 311.6h2.2M238.7 311.9h2.2M245.5 311.4h1.2M248.5 311.8h1.2M267.3 311.3h1.2M274.2 312h1.2M280.6 312h1.2M286.7 311.7h1.2M290.9 311.3h1.2M294 311h1.2M295.9 311.5h1.2M302 311.8h1.2M306.3 311.8h2.2M309.3 311.4h1.2M315.5 311.7h2.2M323.4 312h1.2M325.9 311.3h1.2M327.4 311.8h2.2M334.2 311.1h1.2M340.2 311.1h1.2M343.1 311.5h2.2M351 311.1h1.2M362.2 311.8h1.2M364.2 311.4h1.2M195.7 312.5h1.2M199.1 312.8h2.2M203.8 312.6h2.2M213 312.6h1.2M225.1 312.3h1.2M230.6 312.3h1.2M234.2 313h1.2M239.7 312.7h1.2M244 312.9h1.2M246.4 312.6h2.2M253.3 313h1.2M255.8 312.5h1.2M262.2 312.9h1.2M280.6 312.9h1.2M296.5 312.1h2.2M301.4 312.1h1.2M305.5 312.2h1.2M309.7 313h1.2M319.2 312.1h2.2M346.6 312.7h1.2M349 312.4h2.2M367.8 312.7h2.2M191.9 313.7h1.2M195.4 313.1h1.2M199.6 313.6h1.2M203 313.9h1.2M212.3 313.8h1.2M221.7 313.1h2.2M229.3 313.9h1.2M231.4 313h1.2M236.6 313.4h1.2M245.1 313.5h1.2M248.1 313.8h1.2M251.6 313.3h1.2M254.4 313.5h1.2M258.9 313.6h1.2M260.9 313.7h2.2M278.3 313.6h1.2M281 313.6h1.2M282.6 313.8h1.2M288.6 313.3h1.2M290.7 313.5h1.2M294.2 313.4h1.2M307 313.4h1.2M309.8 314h1.2M313 313h1.2M317.3 313.5h1.2M319.4 313.1h2.2M323.4 313.7h1.2M330 313.5h1.2M332.4 313.8h1.2M333.9 313.4h2.2M339.8 313.5h1.2M344.6 313.2h1.2M348.1 313.8h2.2M368.3 313.2h1.2M180.7 314.2h1.2M189 314.3h2.2M202.7 314.1h1.2M205.2 314.9h2.2M221.5 314.5h2.2M246.2 314.9h1.2M247.8 314.1h1.2M251.2 314.7h2.2M258.8 315h1.2M266.1 314.6h1.2M272 314.1h1.2M278.4 315h1.2M309.6 314.8h1.2M318 314.4h1.2M321 314.1h1.2M348.8 314.3h1.2M351.1 314.5h1.2M177.4 315.3h1.2M179.8 315.4h1.2M190.2 315.8h1.2M202.4 315.9h2.2M211.9 315.6h1.2M214 315.5h1.2M228.4 315.1h2.2M233.2 315.8h1.2M241.7 315.2h1.2M246 315.8h1.2M248.5 315.7h1.2M250.6 315.3h2.2M258.8 315.2h1.2M275.1 315.1h1.2M279.9 315.7h1.2M282.2 315.6h1.2M300.5 315.8h1.2M303.3 315h1.2M306.3 315.6h2.2M312 315.4h2.2M314.6 315.6h1.2M327.3 315h1.2M332 315.6h1.2M338.3 315h1.2M342.8 315.1h1.2M344.7 315.9h1.2M350.6 315.4h1.2M353.2 315.7h1.2M355.3 315.1h1.2M357.5 315.2h2.2M363.9 315.7h2.2M179.5 316.6h1.2M181.6 317h1.2M188 316.1h1.2M190.2 316.5h1.2M192.2 316.5h1.2M200.3 316.3h1.2M202.4 316h1.2M211.8 316.2h1.2M214.4 316h1.2M230.7 316.4h1.2M259.5 316.9h1.2M268.2 316.5h2.2M272.8 316.2h1.2M308.6 316.4h1.2M311 316.9h2.2M313.6 316.9h1.2M322.1 316.2h2.2M329.4 316h1.2M332.4 316.2h1.2M338.5 316.7h1.2M342.7 316.9h1.2M356.1 316.9h1.2M358.1 316.7h1.2M195.9 317.4h1.2M202.2 317.2h1.2M203.5 317.9h1.2M214.8 317.6h1.2M218.8 317.7h1.2M229.2 317.2h2.2M232.2 317.3h2.2M236 317.5h1.2M243.2 317.4h2.2M246.2 317.9h2.2M249 317.8h2.2M258.3 317.2h1.2M263.9 317.9h1.2M269.2 317.8h1.2M271 317.4h1.2M283.2 317.3h1.2M292 317.2h2.2M299.8 317.4h1.2M306.5 317.1h1.2M309.3 318h1.2M313.6 317.4h1.2M316.1 317.1h2.2M324.5 317.9h1.2M330.7 318h1.2M340.9 317.6h1.2M342.9 317.5h1.2M344.7 317.6h1.2M346.8 317.8h1.2M363.7 317.2h1.2M369.3 317.5h1.2M371.6 317.8h1.2M176.7 318.7h1.2M182.1 318.3h2.2M194 318.5h2.2M208.4 319h2.2M230.7 318.4h1.2M242.3 318.7h1.2M243.6 318.6h1.2M249.4 318.7h1.2M259 318.7h1.2M264 318.4h1.2M268.1 318.5h2.2M274.1 318h2.2M279.7 318.2h1.2M295.9 318.6h1.2M308.6 318.9h1.2M314.8 318h1.2M318.1 318.1h1.2M322.4 318.3h1.2M329.9 318.2h1.2M331.7 318.1h1.2M334.8 318.8h1.2M336.7 318.6h1.2M338.6 318.1h1.2M340.7 318h1.2M344.9 318.7h1.2M346.8 318.2h1.2M349.7 318.8h2.2M361.6 318.3h2.2M190.1 319.2h2.2M194.3 319.2h1.2M198.4 319.4h1.2M201.9 319.6h2.2M210.7 319.8h1.2M214.2 319.5h2.2M226.2 319.8h1.2M227.6 319.1h1.2M233.5 319.1h1.2M237.2 319.4h1.2M239.5 319.5h1.2M244.7 319h2.2M268.8 319.8h1.2M310.1 320h2.2M316.9 320h1.2M328.8 319.5h1.2M333.1 319.5h1.2M336.6 319.7h1.2M341.3 319.4h1.2M351.8 319.3h1.2M354.1 319.5h2.2M359.6 319.9h1.2M361.4 319.8h2.2M366.3 319.1h1.2M368.4 319.6h1.2M174 320.2h1.2M176.8 320.1h1.2M179.8 320.5h1.2M190.3 320.4h2.2M194.6 321h1.2M198 320.1h2.2M203.5 320.4h1.2M211.6 320.4h2.2M220.7 320.9h1.2M229.2 320.7h1.2M232.5 320.8h1.2M236.8 320.9h1.2M239.5 320.1h1.2M244.5 320.8h1.2M249.4 320.7h1.2M251.7 320.1h1.2M261.4 320.2h1.2M268.2 320.5h1.2M270.7 320.4h1.2M280.5 320.1h1.2M286.3 320.5h1.2M290.1 320.3h1.2M298.9 320.8h2.2M302 320.4h1.2M303.9 321h1.2M307.4 320.4h2.2M311.5 320.1h1.2M313.5 320.8h1.2M315.9 320.5h1.2M325.7 320.4h1.2M328.9 320.8h1.2M335.5 320.2h2.2M340.6 320.5h1.2M349.9 320.7h1.2M354.4 320.9h1.2M365.6 320.4h2.2M173.9 321.8h2.2M178.9 321.2h2.2M186.5 321.3h2.2M192 321.2h1.2M193.9 321.4h2.2M197.4 321.7h1.2M201.4 321.5h1.2M204.9 322h2.2M212.8 321.6h1.2M217.4 321.2h2.2M225.7 321.2h1.2M236.8 321.9h1.2M240.6 321h2.2M245 321.4h2.2M248.4 321.8h1.2M251.3 321.7h2.2M269.2 321.8h1.2M274.4 321.1h1.2M291.3 321.7h1.2M297.3 321.8h2.2M308 321.7h1.2M321.6 321.3h1.2M323.5 321.4h1.2M342.2 321.3h1.2M347.3 321.2h1.2M349 321.2h1.2M353 321.8h2.2M179.3 322.8h1.2M180.5 322.7h1.2M182.7 322.5h2.2M186.5 322.4h1.2M194.1 322.1h1.2M201 322.9h1.2M202.9 322.3h1.2M204.6 322.5h1.2M211.8 322.7h1.2M214.1 322.7h1.2M234.2 322.8h1.2M243.1 322.3h2.2M246 322.4h1.2M247.5 322.6h1.2M250.5 322.7h1.2M261.9 322.1h2.2M269.8 322.5h1.2M280.6 322.9h1.2M283.4 322.1h1.2M290.1 322.4h1.2M294.2 322.9h1.2M295.9 322.6h1.2M309.8 322.7h1.2M316.4 322.3h1.2M324.4 323h2.2M337.4 322.7h1.2M341 322.4h1.2M351.3 322.1h1.2M352.6 322.8h1.2M356.4 322.3h1.2M358.6 322.4h2.2M371.1 323h1.2M171.6 323h2.2M177.1 323.9h2.2M186.4 323.6h2.2M194 323.6h1.2M198 323.3h1.2M201.3 323.2h2.2M207.3 324h1.2M209.2 323.4h1.2M214.3 323.2h2.2M226.9 323.5h1.2M228.5 324h1.2M231.6 323.5h1.2M239.5 323.3h2.2M243.2 323.7h1.2M259.8 323.6h1.2M261.6 323.7h1.2M267.3 323h1.2M268.7 323.3h1.2M280.5 323.9h1.2M283.1 323.6h1.2M289 323.7h1.2M295.7 323.2h1.2M308.5 323.2h1.2M319.6 323.8h1.2M325.7 323.4h1.2M335.1 324h1.2M339.5 323.6h1.2M348.8 323.2h2.2M177.7 324.8h1.2M179.7 324.6h2.2M184.9 324h1.2M190.3 324.9h1.2M193.2 324.4h1.2M195.8 324.7h1.2M206.4 324.5h1.2M212.7 324.5h1.2M226 324.6h1.2M229.3 324.6h1.2M231.2 324.5h1.2M233.9 324.9h2.2M238.7 324.3h2.2M242.9 324.1h1.2M252.6 324.5h1.2M260 325h1.2M267.5 324h1.2M276.1 324.9h1.2M281.5 324.3h2.2M293.1 324.6h1.2M296.3 324.7h1.2M311.3 324.3h2.2M325.1 324.6h1.2M341.8 324.7h2.2M347.2 324.6h1.2M353.1 324.4h1.2M355.3 324.4h2.2M358 324.6h1.2M172.9 325.9h2.2M178.1 325.6h1.2M181.1 325.7h2.2M188.7 325.3h2.2M193 325.1h1.2M195.2 325.8h1.2M198 325.3h1.2M219.4 325.7h1.2M221.3 325.7h1.2M230 325.3h1.2M237.6 325.8h1.2M254 325.2h1.2M266.6 325.5h1.2M290 325.8h1.2M297.9 325.3h1.2M304.1 325.1h1.2M309.6 325.4h1.2M316 325h1.2M328.5 325.7h1.2M332.8 325.4h1.2M345.9 325.2h1.2M348.4 325.9h2.2M354 325.1h1.2M361.1 325.8h1.2M170.7 326.2h2.2M174.1 326.6h2.2M176.8 326.3h2.2M182.3 326.1h1.2M185.7 326.5h1.2M190 326.3h1.2M193 326.1h1.2M197.9 326.1h2.2M204.8 326.7h1.2M217.6 326.2h1.2M221.4 326.4h1.2M222.5 326.4h1.2M231.7 326.8h2.2M235.3 326.8h1.2M237.1 326.6h1.2M239.5 326.7h1.2M241.8 326.3h1.2M250 326.2h1.2M252.4 326.6h1.2M263.1 326.1h2.2M271.4 326.2h2.2M277.6 326.6h2.2M290.1 326.9h1.2M292.5 326.5h1.2M299.1 326.4h1.2M303.5 326.1h1.2M309.4 326.3h2.2M312.6 326.9h1.2M315 326.1h1.2M328.1 326.5h1.2M346.2 326.2h1.2M347.7 326.5h1.2M350.9 326.1h2.2M355.2 326.2h2.2M177.9 327.6h1.2M179.8 327.3h1.2M186.1 327.5h2.2M189.1 327.8h2.2M193.3 327.5h1.2M194.8 327.9h1.2M198.4 327.9h2.2M200.6 327.9h2.2M207 327.5h2.2M217.5 327.2h2.2M227.3 327.3h1.2M234.9 327.4h1.2M237.8 327.4h2.2M248.7 327.9h1.2M274.9 327.3h1.2M276.6 327.8h1.2M283.2 327.8h1.2M285 327.3h1.2M286.6 327.4h1.2M288.5 327.3h1.2M294.7 327.1h1.2M298.6 327.1h1.2M308.8 327.9h1.2M312.4 327.1h2.2M319 327h1.2M337.1 327.6h1.2M343.9 327.3h1.2M345.9 327h1.2M356.1 327.8h1.2M359.5 328h1.2M366.6 327.9h1.2M169.4 328.4h1.2M171.2 328.6h1.2M174.7 328.7h2.2M177.8 328.2h1.2M183.2 328.2h1.2M187.3 328.2h1.2M188.7 328.8h1.2M192.2 328.4h1.2M200 328.9h1.2M205.7 328.3h2.2M209.5 328.7h1.2M212.1 328.1h1.2M222.1 328.3h1.2M223.9 328.6h1.2M233 328.6h1.2M234.8 328.7h1.2M236.6 328.9h1.2M239.8 328.8h1.2M242 328.5h2.2M244.9 328.5h2.2M247.8 328.6h1.2M256.9 328.8h1.2M265.7 328.8h1.2M270.8 328.9h1.2M273.2 328.1h1.2M282.3 328.8h1.2M285.1 328.2h2.2M289.2 328.6h1.2M303.6 328.6h2.2M314.5 328.7h1.2M318.6 328.3h1.2M320.4 328.4h1.2M337 328.7h2.2M343.8 328.3h1.2M345.5 328.4h1.2M348.2 328.9h1.2M353.3 328.1h1.2M354.5 328.4h1.2M368 328.1h1.2M173.5 329.8h1.2M180.4 329.4h1.2M190.2 329.7h1.2M199.2 329.4h1.2M204.3 329.1h1.2M205.7 329.6h2.2M212.6 329.8h1.2M216.2 329.8h1.2M218.3 329.6h2.2M229.6 329.3h2.2M233.4 329.4h1.2M236 329.7h2.2M239.1 329.3h1.2M241.3 329.5h2.2M257.6 329.9h1.2M269.1 329.7h1.2M276 329h1.2M284 329.7h1.2M286.1 329.2h2.2M292.9 329.7h1.2M300.3 329.2h1.2M308 329.1h1.2M309.6 329.4h1.2M314.4 329.4h1.2M334.3 329.3h1.2M343.6 329.1h1.2M349 329.4h1.2M354 329.4h1.2M363.9 329.4h1.2M170.7 330h2.2M177.7 330.7h1.2M181.7 330.8h2.2M185.4 330.7h1.2M188.2 330.2h1.2M189.8 330.3h1.2M192.8 330.9h1.2M197.1 330.1h1.2M203.4 330.7h1.2M206.2 330.8h1.2M221.3 330.8h1.2M228.7 330.7h2.2M232.1 330.4h1.2M240.3 330h2.2M243.9 330.9h1.2M249.9 330.4h1.2M252.5 330.2h1.2M254.7 331h1.2M269.9 330.3h1.2M273.3 330.6h1.2M295.7 330.7h1.2M317.4 330.5h1.2M322.9 330.1h1.2M325.1 330h1.2M329.6 330.7h1.2M337.8 330.7h1.2M340.9 330.5h1.2M344 330h1.2M348.4 330.9h1.2M367.1 330.2h1.2M167.1 331.9h1.2M169.2 331.6h1.2M170.9 331.6h1.2M177.6 331.4h2.2M181.3 331.4h1.2M193.7 331.5h1.2M196.2 331.9h1.2M200.4 332h1.2M204.5 331.5h1.2M207 331.7h1.2M209.5 331.4h1.2M227.8 331.6h1.2M241.8 331.3h1.2M248.6 331.7h1.2M252.7 331.2h1.2M266.3 331.4h1.2M268.7 331.1h1.2M273.9 331.3h1.2M278 331.3h1.2M280.9 331.1h1.2M298.5 331.9h1.2M301.1 331.4h1.2M304.6 331.7h1.2M312 331.6h1.2M332.4 331.4h2.2M344.3 331.4h1.2M346.4 332h1.2M349.8 331.5h1.2M177.3 332.9h1.2M178.5 332.5h1.2M186.5 332.8h2.2M191.7 332.3h1.2M195.7 332.7h1.2M198.7 332.4h1.2M202.3 332.4h2.2M208.3 332.9h1.2M211.9 332.2h2.2M217.3 332.6h1.2M239.8 332.1h2.2M252.9 332h2.2M267 332.4h1.2M275.7 332.2h1.2M283.2 332.9h1.2M303.4 332.5h2.2M306.5 332h2.2M312.4 332.3h1.2M313.9 332.9h2.2M321 332.3h1.2M324.1 332.8h1.2M326 332.4h1.2M328.2 332.4h1.2M329.8 332.3h1.2M337.4 332.1h1.2M341.5 332.3h1.2M343.5 332.4h1.2M348.3 332.9h2.2M352.6 332.3h1.2M166.8 333.9h1.2M173.7 333.8h1.2M183 333.9h1.2M184.7 333.9h1.2M187.4 333.4h1.2M194.3 333.7h1.2M196.6 333.4h1.2M204.7 333.9h2.2M208.6 333.9h2.2M223.7 333.9h1.2M239.2 333.7h1.2M240.7 333.7h1.2M248 333.3h1.2M257.4 334h1.2M259.1 333.9h1.2M268.7 333.2h1.2M291.7 333.6h1.2M294.3 333.8h1.2M295.6 333.8h2.2M302.3 333.6h2.2M306.9 333.5h1.2M314.6 333.3h1.2M324.9 333.5h1.2M329.9 333.4h1.2M346.2 333.2h1.2M353.6 333.9h1.2M359 333.6h1.2M360.9 333.4h1.2M166.8 334.5h1.2M170.2 334h1.2M182.3 334.2h1.2M189.9 334.8h1.2M192.5 334.7h2.2M196 334.6h1.2M202.2 334.1h1.2M205.6 334.9h1.2M212.3 334.1h1.2M222.1 334.1h1.2M226.3 334.9h1.2M238.1 334.5h2.2M241.1 334.6h1.2M245.2 334.8h1.2M249.3 334.8h1.2M255.6 334.2h1.2M268.1 334.6h1.2M280.4 334.1h1.2M287.8 334.9h1.2M298.8 334.1h1.2M300.7 335h1.2M304.2 334.8h1.2M314.7 334.8h1.2M320.4 334.2h1.2M349 334.7h1.2M352.9 335h1.2M355.8 334.3h1.2M175.6 335.7h1.2M187.2 335.8h1.2M190 335h1.2M196.8 335.2h1.2M198.7 335h2.2M214.1 335.3h1.2M239 336h1.2M241.6 335.3h1.2M244.7 335.1h1.2M252 335.6h1.2M254 336h1.2M256 335.6h1.2M258.3 335.9h1.2M259.9 335.6h1.2M280.8 335.5h1.2M287.9 335.5h1.2M293.6 335.6h1.2M295.7 335.3h1.2M301.7 335.8h1.2M315.5 336h1.2M322.6 335.6h1.2M336.6 335.7h1.2M342.3 335.4h2.2M345.9 336h1.2M166 336.4h2.2M168.6 336.8h1.2M175.1 336.3h1.2M184.9 336.1h1.2M187.2 336.9h1.2M189.1 336.7h2.2M193.5 336.9h1.2M196 336.9h1.2M199.1 336.9h1.2M205.2 336.7h1.2M207 336.3h1.2M210.7 336.9h1.2M213.2 336.3h1.2M218.5 336.9h1.2M224.4 336.6h1.2M244.1 336.4h2.2M254.3 336.6h2.2M257.4 336.7h1.2M259 336.1h2.2M264.3 336.1h2.2M268.7 336.6h1.2M289.1 336.9h1.2M297.3 336.9h2.2M303.2 336.4h1.2M330.1 336.2h1.2M339.7 337h1.2M342 336.9h1.2M347.6 336.6h1.2M349.6 336.7h1.2M352.3 336.4h1.2M354.4 336.3h1.2M169.5 337.5h1.2M193.2 338h2.2M197.7 337.1h1.2M199.4 337.3h1.2M204.7 337.2h1.2M210.3 337.3h1.2M228.6 337.2h1.2M237.1 337.4h2.2M242.8 337.7h1.2M245 337.5h1.2M254 337.3h1.2M281.8 337.7h1.2M287.4 337.4h1.2M297.8 337.3h1.2M299.9 337.7h1.2M303.1 337.8h1.2M319 337h1.2M321.6 337.7h1.2M328.5 337.6h1.2M340.4 337.8h1.2M351.6 337.4h2.2M354.5 337.2h1.2M162.9 338.5h1.2M165.3 338.2h1.2M171.3 338.2h1.2M177.8 339h1.2M182.9 338.3h1.2M184.9 338.8h1.2M188.3 338.1h1.2M191.9 338.4h1.2M194.5 338.4h1.2M199.7 338.7h1.2M206.4 338.5h1.2M209.7 338.4h1.2M223.8 339h2.2M240.1 338.4h1.2M244.7 338.4h2.2M250.3 338.6h1.2M252.4 338.2h1.2M253.9 338.7h1.2M292.2 338.1h1.2M313.8 338.9h1.2M316 338.1h2.2M318.8 338.5h1.2M323.4 338.4h1.2M341.9 339h1.2M351.9 338.5h2.2M163.5 339h1.2M166.9 339.6h1.2M187.6 339.6h2.2M190.5 339.3h2.2M194.9 339.3h1.2M200.8 339.7h2.2M204.6 339.7h1.2M208.4 339.8h1.2M220.8 339.6h1.2M226.5 339.7h1.2M229.1 339.2h1.2M231.8 339.6h2.2M245.1 339.6h2.2M248.1 339.9h2.2M257.9 339h1.2M264.2 339.1h1.2M267.9 339.7h1.2M273.2 339.5h2.2M282 340h1.2M285.2 339.3h1.2M289.3 339.7h1.2M291.7 339.3h1.2M297.8 339.5h2.2M303.2 339.5h1.2M306.1 339.3h1.2M326.9 339.3h2.2M332.8 339.7h1.2M335.6 339.5h1.2M338.1 339h2.2M351.8 339.8h2.2M162.1 340.8h1.2M166.7 340.6h2.2M176.7 340.1h2.2M182.2 340.3h1.2M184.1 340.8h1.2M188.2 340.3h2.2M191.2 340.2h2.2M195.1 340h1.2M201.2 340.1h2.2M204.1 340.6h2.2M207.5 340.6h1.2M214.1 340.8h1.2M222.4 340.2h1.2M225.8 340.4h1.2M229.1 340.2h1.2M232 340.2h1.2M234.6 340.8h1.2M237.9 340.8h2.2M241.1 340.9h1.2M242.9 340h1.2M245.4 340.2h1.2M248.2 340.2h2.2M251.9 340.3h2.2M255.1 340.1h1.2M257.5 340.5h1.2M261.2 340.5h1.2M264.5 341h1.2M271.5 340.3h1.2M286 340.3h1.2M288.1 340.4h2.2M297.2 340.1h1.2M299.2 340.9h1.2M312.7 340.2h1.2M316.3 340.4h2.2M325.8 340.6h1.2M331.9 340.8h1.2M346.1 340.7h1.2M351.8 340.5h1.2M162.3 341.9h1.2M169 341.6h1.2M179.7 341.5h1.2M182.6 341.5h1.2M184.5 341.3h1.2M191.7 341.5h1.2M196.1 341.1h1.2M204 341.8h2.2M208.6 341.1h1.2M218.5 341.6h2.2M225.8 341h2.2M236.5 341.4h1.2M239.5 341.8h1.2M241.6 341.8h1.2M244.4 341.3h1.2M253.3 341.2h1.2M254.4 341.8h1.2M263.2 341.5h1.2M265.5 341.3h1.2M268.8 342h2.2M271.6 341.7h1.2M275.1 341.9h1.2M286.1 341.4h1.2M305.8 341.5h1.2M313 341.5h1.2M314.5 341.8h1.2M332.8 341.6h1.2M337.7 341.4h2.2M343.4 341h2.2M346 341.2h1.2M351.4 341.8h1.2M164.2 342.8h1.2M166.7 342.5h2.2M185.3 342.5h1.2M187.3 342.8h1.2M195.9 342.5h1.2M210.9 342.3h1.2M215.7 342.4h1.2M218.9 342.9h1.2M222.9 342.6h1.2M231.1 342.8h1.2M235.4 342.7h1.2M240 342.7h1.2M241.5 342.7h2.2M244.6 342.9h1.2M249.3 342.6h2.2M255.3 342.1h1.2M256.5 342.5h1.2M259.6 342h1.2M266.4 342.4h2.2M275.2 342.3h1.2M283 342.1h1.2M298 342.7h1.2M302 342.5h1.2M316.1 342.2h1.2M332.1 342.3h2.2M334.5 342.4h1.2M338.2 342.2h1.2M341.2 342.4h2.2M351.9 342.1h1.2M355.6 342.7h1.2M166.3 343.3h1.2M170.1 343.9h2.2M180.2 344h2.2M186.5 343.7h2.2M196.7 343h2.2M207.9 344h2.2M223.7 343.3h2.2M228.4 343.7h2.2M231.6 343h1.2M238.5 343.1h1.2M242.3 343.7h2.2M259.6 343.4h1.2M261.8 343.9h1.2M274.4 343h1.2M275.4 343.6h1.2M277.5 343.4h1.2M287 343.5h1.2M304.6 343.3h1.2M333.9 343.2h1.2M340.3 343.3h1.2M342.2 343.2h1.2M346.9 343.8h1.2M351.1 343.1h1.2M171.7 344.4h2.2M174.9 345h1.2M178.7 344.4h1.2M183.9 344.2h1.2M187.2 344h2.2M190.2 344.9h1.2M192.7 344.8h1.2M195.1 344.8h1.2M197.1 344.5h1.2M201.7 344.4h1.2M216.5 344.6h2.2M222.9 344.1h1.2M226.5 344.3h1.2M230.6 344.2h1.2M233.2 344.3h1.2M237.5 344.9h2.2M273.4 344.8h1.2M277.9 345h1.2M285.3 344.6h1.2M290.1 344.7h1.2M303.9 344.9h1.2M313.3 344.8h1.2M333.1 344.5h2.2M335.7 345h1.2M339 344.9h1.2M345.6 344.2h1.2M349.1 344.7h1.2M351.8 344.5h1.2M162.3 345.7h1.2M165 345.3h1.2M168.6 345.4h1.2M177.7 345.7h2.2M181.4 345.9h2.2M198.7 345.3h1.2M202 345.8h2.2M210.7 345.3h1.2M215.9 345.8h2.2M222.9 345h1.2M229.1 345.9h1.2M235.1 345h1.2M243.7 345.5h1.2M246.9 345.1h1.2M252.7 345.4h2.2M255.9 346h1.2M258.1 345.5h1.2M262.4 345h1.2M265.2 345.6h1.2M271.1 345.1h1.2M274.4 345.5h1.2M277 345.7h1.2M296 345.8h2.2M303.6 345.1h1.2M312.8 345.8h1.2M315.2 345.4h1.2M329.1 345.8h1.2M332.2 346h1.2M336.9 345.7h1.2M339.3 345.3h2.2M349.4 345.3h1.2M162.1 346.1h1.2M166.6 346.1h1.2M184 346h1.2M191.9 346.7h1.2M193.7 346.2h1.2M200.4 346.2h1.2M207 346.5h1.2M209.3 346.6h2.2M212.9 346.3h1.2M233.2 346.3h1.2M236.2 346.7h1.2M240 347h2.2M245 346.6h1.2M248.1 346.2h1.2M249.8 346h1.2M254.5 346h2.2M259 346.3h2.2M261.6 346.4h1.2M265.4 346.1h1.2M272.5 346.9h2.2M277.6 346.7h1.2M279.5 346h2.2M291 346.7h1.2M298.6 346.5h1.2M312.6 346.8h1.2M340.5 346.6h1.2M170.3 347.2h1.2M172.1 347.5h1.2M177.3 347.9h1.2M183.9 347.5h1.2M194.2 347.7h2.2M197.7 347.9h1.2M201.9 347.2h1.2M213.8 347.4h2.2M224.9 347.3h2.2M232.9 348h1.2M242.4 347.3h1.2M246.7 347.4h1.2M248.6 347.2h1.2M254.9 347.4h1.2M258.5 347.5h2.2M270.9 348h1.2M274.3 347.6h1.2M280.9 347.1h1.2M285 347.9h1.2M304.4 347.9h2.2M309.1 347.3h1.2M333.6 347.2h1.2M340.8 347.1h2.2M160.7 349h1.2M172.1 348.7h1.2M173.6 348.5h2.2M177.9 348.9h1.2M180.1 348.3h1.2M181.7 348.1h2.2M195.9 348.6h1.2M200.8 348.9h2.2M207.2 348.5h1.2M210.8 348.7h2.2M223.1 348.7h1.2M225.7 348.4h1.2M228.6 348.1h1.2M230.7 348.3h1.2M244.7 348.5h1.2M256.8 348.7h1.2M259.7 348.7h1.2M264.3 348.5h2.2M267.2 348.1h1.2M268.7 348.1h1.2M271.9 348.4h2.2M285.9 348.2h1.2M292.4 348.8h1.2M304.3 348.2h1.2M315.1 348.4h1.2M328.1 348.6h1.2M330.2 349h1.2M333.7 348.9h1.2M160.6 349.8h1.2M173.6 349.2h1.2M175.8 349.2h1.2M178.2 349h1.2M180.7 349.6h1.2M187.2 350h2.2M196.9 349.2h1.2M200.6 349.6h1.2M202.5 349.8h1.2M213.2 349.7h1.2M225.4 349.5h1.2M227.4 349.2h1.2M255.7 349.5h1.2M259.3 349h2.2M262.3 349.4h1.2M281.3 349.9h1.2M283.3 349.6h1.2M285.5 349.3h1.2M291.8 349.6h1.2M304.7 349.5h1.2M310.8 349.6h1.2M316.6 349.4h1.2M327.3 349.3h1.2M328.9 349.8h2.2M334.1 349.5h1.2M337.5 349.9h1.2M146.3 350.8h1.2M159.2 350.9h2.2M165.3 350.5h2.2M176.8 350.5h2.2M183.5 350.2h1.2M189.1 350.7h1.2M191.1 350.6h1.2M193.6 350.4h2.2M198.4 351h1.2M200.7 350.4h1.2M220.6 350.4h1.2M224.8 350.3h1.2M232.3 350.1h1.2M241.8 350.1h1.2M243.8 350.8h1.2M250.5 350.6h1.2M261 350.6h1.2M262.9 350.6h1.2M267.7 350.3h2.2M272.2 350.2h1.2M292.2 350.9h1.2M311 350.3h1.2M314.8 350.5h2.2M318.1 350.9h2.2M320.8 350.2h2.2M323.7 350.9h1.2M327.6 350.3h1.2M329.4 350.6h1.2M332.9 350.8h1.2M344 350.7h1.2M158.1 351.5h1.2M172.7 351h1.2M177.8 351h2.2M181.6 351.4h1.2M194.9 351.4h1.2M211.6 351.8h1.2M215.7 351.4h2.2M219.6 351.1h1.2M229.2 351.5h1.2M232 351.9h1.2M237.3 351.6h2.2M247.3 351.5h2.2M258.3 351.5h2.2M260.7 351.5h1.2M262.6 351.4h1.2M264.6 351.5h1.2M282.5 351.4h1.2M289 352h1.2M293.4 351.7h1.2M299.9 351.7h2.2M305.3 351.7h2.2M314.6 351.6h1.2M325.9 351.9h1.2M154.1 353h1.2M157.4 352.7h1.2M159.6 352.5h1.2M167.2 353h2.2M172.6 352.9h1.2M177.5 352.3h1.2M183.6 353h1.2M187.5 352.8h1.2M194.9 352.7h1.2M198.5 352.5h2.2M204 352.3h1.2M212.1 352.1h1.2M213.5 352.7h1.2M224.7 352.9h1.2M230 352.9h1.2M232.3 352.7h1.2M238.4 352.2h1.2M241 352.1h1.2M245.1 352.8h2.2M251.3 352.5h1.2M254.3 352.4h2.2M256.8 352.7h1.2M266.3 352.1h2.2M273.9 352.4h1.2M275.4 352.1h1.2M278.2 352.9h1.2M284 352.2h1.2M299.4 352.4h1.2M302.5 352.8h1.2M313.1 352.7h1.2M315.8 352.3h2.2M318.6 352.6h1.2M323.7 352.7h1.2M328.3 352.8h2.2M330.4 352.6h1.2M167.5 353.3h1.2M169.7 353.6h1.2M178.4 353.2h2.2M185.3 353h1.2M187.7 353.5h1.2M193.5 353.3h1.2M198 353.3h2.2M205 353.9h1.2M209.5 353.7h1.2M213.4 353.4h1.2M216.1 354h2.2M222.9 353.6h1.2M230.9 353.1h1.2M239.5 353.6h1.2M243.3 353.3h1.2M245.1 353.6h1.2M247.7 353.7h1.2M256.5 353.3h1.2M259.8 353.6h1.2M266.4 353h1.2M275.3 353.5h2.2M278.3 354h1.2M279.6 353.4h1.2M310.4 353h1.2M314.4 354h1.2M323.2 353.4h1.2M325.1 353h1.2M326.8 353h2.2M329.8 353.7h1.2M331.4 353.9h1.2M169.5 354.2h1.2M179.8 354.1h2.2M183.1 354.7h1.2M187 354.4h2.2M191 354.4h1.2M194.1 354.9h1.2M200.2 354.4h1.2M210.3 354.3h1.2M213.1 354.7h1.2M214.8 354.9h1.2M221.4 354.1h1.2M224.4 354.3h1.2M228.4 355h1.2M231.7 354.2h1.2M234 355h1.2M245.3 354.9h2.2M248.6 354.3h1.2M250.5 354.7h1.2M253.8 354.7h1.2M256.4 354.7h1.2M261.5 355h1.2M269.7 354.5h1.2M287.2 354.6h1.2M290.5 354.9h1.2M298.1 354.8h1.2M308.9 354.2h2.2M314.1 354.3h2.2M156.2 355.3h1.2M162.1 355.5h1.2M164.6 355.7h1.2M171.4 355.1h1.2M180 355.6h1.2M182.2 355.3h1.2M187.2 355.7h1.2M188.6 355.7h1.2M197.8 355.2h1.2M202.6 355.3h1.2M205.1 355.2h1.2M208 355.8h1.2M210.9 355.9h1.2M224.1 355.5h1.2M226.4 355.6h1.2M230.5 355.2h1.2M242.2 355.9h1.2M244.8 355.4h1.2M246.6 355.8h1.2M249.4 355.9h2.2M251.8 355.9h1.2M253.6 355.1h1.2M256 355.3h1.2M262.9 355.1h1.2M272.6 355.5h1.2M277.9 355.7h1.2M282.1 355.4h2.2M290.9 355.3h2.2M293.6 355.4h1.2M308 356h2.2M314.1 355.8h1.2M323.2 355.9h2.2M329.3 355.2h1.2M330.7 355.3h1.2M334.2 355.5h1.2M166.3 356.6h1.2M170.4 356.2h1.2M174.8 356.1h1.2M187 356h1.2M189.6 356h1.2M191.5 356.7h1.2M193.9 357h1.2M201.5 356.2h2.2M215.5 356.2h2.2M220.7 356.4h2.2M224.6 356.2h1.2M229.8 356.1h1.2M250.2 356.6h1.2M251.9 356.5h1.2M255 357h1.2M256.8 356.6h2.2M259.6 356.4h1.2M262.5 356.9h2.2M269.1 356.8h1.2M272.2 356.1h2.2M279 356.1h1.2M285 356.1h1.2M291.6 356.1h2.2M304.9 356.1h1.2M306.8 356.4h1.2M320.4 356.8h2.2M331 356.7h1.2M141.4 357.4h1.2M153.7 357.7h1.2M169.5 357.9h1.2M171.7 357.9h1.2M190.2 357.5h1.2M194.4 357.1h2.2M203.8 357.7h1.2M211.9 357.9h1.2M218.3 357.3h1.2M228.4 357.5h2.2M235.5 357h1.2M237.8 357.4h1.2M247.6 357.9h1.2M250.7 357.8h1.2M252.6 357.4h1.2M257.8 357.8h1.2M267.8 357.2h1.2M270.2 357.7h1.2M274.6 357.2h2.2M279.5 357.8h1.2M281.8 357.8h1.2M284 357.8h1.2M304.2 357.5h1.2M305.7 357.4h1.2M308.9 358h1.2M318.7 357.7h1.2M322.7 357.6h1.2M325.1 357h1.2M329.1 357.9h1.2M164.3 358.9h1.2M167.8 358.1h2.2M171.7 358.9h1.2M184.1 358.5h1.2M185.4 358.1h1.2M193 358.9h1.2M195 358.4h1.2M200.4 358.2h1.2M205 358.3h1.2M212.9 358h1.2M217.9 358.5h1.2M225.4 358.8h2.2M230.2 358.1h1.2M236 358.9h1.2M241.9 358.8h1.2M246.5 358.1h1.2M263.6 358.8h2.2M275.7 358.8h1.2M277.5 358.5h1.2M280.8 358.8h1.2M284.1 358.7h2.2M300 358.2h1.2M302.2 358.7h1.2M315.1 358.5h1.2M317.8 358.1h1.2M329.2 358.4h1.2M154.4 359.3h1.2M158.9 359.4h1.2M169 360h1.2M174.6 359.4h1.2M182.7 359.1h1.2M186.4 360h1.2M194.7 359.7h2.2M198.2 359.6h1.2M199.7 359.7h1.2M203.3 359.5h1.2M225.3 359.9h1.2M229.2 359.7h1.2M243.4 359.5h1.2M262.3 359.1h1.2M264.1 359.1h1.2M266.8 359.6h1.2M270.1 359.7h2.2M299.6 359.1h1.2M314.5 359.6h1.2M333.6 359.9h1.2M336.1 359.3h1.2M155 360.1h2.2M164 360.2h1.2M171 360.3h1.2M175 360.7h1.2M179.6 360.1h1.2M183.5 360.8h1.2M187.4 360.6h1.2M188.5 360.6h1.2M190.7 360.2h1.2M193.1 360.9h1.2M199.9 360.6h1.2M202.3 360h1.2M205.3 360.9h2.2M209.2 360.6h1.2M222.3 360.5h1.2M234.8 360.5h1.2M237.4 360h1.2M240.9 360.6h2.2M243.5 360.8h2.2M250.6 360.2h1.2M267.9 360.8h1.2M269.9 360.9h2.2M285.2 360.6h1.2M288.3 360.3h1.2M290 360.6h1.2M294.5 360.3h1.2M305.4 360.3h1.2M313.3 360.1h1.2M315.6 360.2h1.2M319.4 360.7h2.2M323.6 360.6h1.2M327.5 360.6h1.2M149.9 361.5h1.2M163.2 361.4h1.2M169.1 361.8h1.2M170.6 361.3h1.2M175 361.2h1.2M177.4 361.6h1.2M182.1 361.1h1.2M191 361.5h2.2M196.9 361.9h1.2M201.4 361.2h1.2M204.5 361.6h1.2M207.3 361.5h2.2M209.4 361.5h1.2M215.5 361.1h1.2M223.7 361.9h1.2M227.1 362h1.2M228.9 361.2h2.2M232.8 361.1h1.2M236.8 361.6h2.2M241.1 362h2.2M250.8 361.1h1.2M253.3 361.2h1.2M254.7 361.1h1.2M270.1 361.9h1.2M275.6 361.6h1.2M282.4 361.7h2.2M288.5 361.3h1.2M294 361.5h1.2M300.2 361h1.2M307.6 361.2h1.2M312.8 361.8h1.2M317.4 362h2.2M321.6 361.2h1.2M326.7 361.6h1.2M329.2 361.5h1.2M155.4 362.7h1.2M165 362.4h1.2M167.9 362.2h1.2M171.7 362.6h1.2M189.8 362.3h1.2M192.5 362.9h1.2M201.9 362.9h1.2M205 362.1h1.2M208.4 362.2h1.2M211.8 362.2h1.2M213.8 362.9h1.2M231.4 362.1h1.2M236.1 362.7h1.2M238.7 362.1h1.2M243.7 362.7h1.2M254.7 362.5h1.2M261.8 362.9h1.2M287 362.3h2.2M295.8 362.1h1.2M299.2 362.2h1.2M300.5 362.3h1.2M306.1 362.5h1.2M307.4 362.6h1.2M311.1 362.7h1.2M313.6 362.1h1.2M317.8 362.2h1.2M324.4 362.7h1.2M329.7 362.8h1.2M154 363h1.2M164.6 363.3h1.2M167.3 363.6h1.2M175.6 363.8h1.2M181.8 364h1.2M185 363h2.2M189.8 363.7h1.2M195.8 363.7h2.2M198.5 363h1.2M204.5 363.6h1.2M207.6 363.8h1.2M211.2 363.1h1.2M220.5 363.7h1.2M238.1 363.9h1.2M239.7 363h2.2M243.2 363.6h1.2M247.4 363.3h1.2M248.4 363.1h1.2M251.3 363.4h1.2M255.5 363h1.2M265 363.4h2.2M268.1 363.6h1.2M274.6 363.6h1.2M279.8 363.7h1.2M282.6 363.3h1.2M284.6 363.1h1.2M287.8 363.6h2.2M299 363.2h2.2M309.8 363.4h2.2M312.6 363.6h1.2M318.7 363.1h1.2M321.1 363.2h1.2M330.8 363.8h1.2M146.5 364.6h1.2M150 364.3h1.2M154.5 364.4h1.2M168.6 364.4h1.2M171.5 364.4h1.2M174.3 364h1.2M176 364.4h1.2M181.2 364.8h1.2M184.9 364.3h1.2M193.3 364.8h1.2M202.3 364.1h1.2M219.8 364.5h1.2M222.7 364.2h1.2M231.7 364.2h2.2M240.4 364.9h1.2M244 364.6h1.2M248.4 364.5h1.2M256.2 364h1.2M257.8 364.2h2.2M271.5 364.8h1.2M287.1 364.4h1.2M288.5 364.8h2.2M292.8 364.8h1.2M306 364.7h1.2M311 365h1.2M317.6 364.9h1.2M327 364.7h1.2M171.4 365h1.2M180.7 365.7h1.2M192.2 365.2h2.2M198.9 365.9h1.2M203.4 366h2.2M224.6 365.4h1.2M226.8 365.5h1.2M230.3 365.5h2.2M232.7 365.6h1.2M246.2 365.6h2.2M251.3 366h1.2M270.1 365.9h1.2M271.5 365.6h1.2M273.4 365.3h2.2M284 365.7h1.2M290.2 365.8h1.2M291.7 365.4h2.2M309.2 365.2h1.2M313.3 365h2.2M317.8 365h1.2M320.7 365.8h1.2M40.4 366.4h1.2M146.6 366.3h1.2M162.2 366.2h1.2M164.2 366.3h1.2M169.6 366.9h1.2M180.6 366.9h1.2M182.8 367h1.2M187.1 366.8h1.2M191.9 367h1.2M200.1 366.4h1.2M203.5 366.2h1.2M212.3 366.9h1.2M224.4 366.4h1.2M230.8 366.2h1.2M235.4 366.9h1.2M238.2 366.9h2.2M240.7 366.9h2.2M248.4 366.8h1.2M257.7 366.4h2.2M263.9 366.9h1.2M265.9 366.4h2.2M269.5 366.3h1.2M274.6 366.5h2.2M288.9 366.2h2.2M306.5 366.6h1.2M320.6 366.7h1.2M329 366.9h1.2M147.7 368h1.2M150.2 367.5h2.2M156.7 367.2h2.2M187 367.2h1.2M190.8 367.1h1.2M196.1 367.6h1.2M199.1 367.8h2.2M202.9 367.4h1.2M204.7 367.5h1.2M216.8 367.4h1.2M223.7 367.2h2.2M235.2 368h2.2M239.1 367.6h1.2M247.6 367.4h1.2M262.3 368h2.2M266.5 367.8h2.2M282.6 367.9h1.2M286.6 367.8h1.2M289.4 367h1.2M295.4 367.5h1.2M302.8 367.9h2.2M307.7 367h1.2M313.3 367.6h2.2M331.9 367.6h1.2M152.3 368.3h1.2M163.7 369h1.2M183.9 368h1.2M186.2 368.6h2.2M193.4 368.4h2.2M201 368.9h1.2M204.1 368.6h1.2M206.1 368.4h2.2M221.2 368.7h2.2M225.5 368.7h2.2M240.3 368.9h1.2M241.8 368.1h1.2M250 368.1h2.2M253 368.7h1.2M260 368.7h1.2M272.1 368.5h1.2M273.7 368.8h1.2M275.9 368.7h1.2M277.8 368.9h1.2M280.8 368.6h2.2M285 368.5h1.2M290.2 368.3h1.2M291.5 368.2h1.2M293.8 368.7h1.2M296.6 368.4h2.2M306 368.2h1.2M321 368.7h2.2M47.6 369.9h1.2M150.4 369.9h1.2M151.6 369.3h1.2M168.9 369.8h1.2M174.4 369.3h2.2M180.1 369.2h1.2M186.6 370h1.2M192 369.7h2.2M194.5 369.3h1.2M199.5 369.2h2.2M202.5 369.1h2.2M212.2 369.3h1.2M217.3 369h1.2M220.7 369.3h1.2M233.8 369.6h1.2M235.9 369.3h2.2M238.7 369.7h1.2M247.7 369.7h1.2M258.9 369.2h2.2M266.2 369.5h1.2M271 369.1h2.2M284.9 369.5h1.2M286.8 369.4h1.2M289.5 369.5h2.2M300.2 369.6h1.2M303.7 369.2h1.2M313.8 369.3h2.2M333.6 369.4h1.2M172.8 370.5h1.2M178.2 370.4h1.2M187.1 370.2h1.2M195.6 370.9h1.2M199.1 370.7h2.2M202.2 370.9h2.2M208.3 370.7h2.2M222.3 370.3h1.2M228.9 370.2h2.2M233.5 370.4h1.2M236.7 370.6h1.2M238.8 370.2h2.2M260.9 370.3h2.2M270.2 370.7h1.2M284.4 371h1.2M294 370.3h1.2M302 370.3h1.2M304.9 370.8h2.2M312.1 370.5h1.2M313.7 370h1.2M318.3 370.8h1.2M323 370.8h1.2M325.6 370.7h1.2M40.7 371.8h1.2M173.8 371.5h1.2M175.8 371.4h1.2M178.3 372h1.2M186.7 371.8h1.2M196.4 371.5h2.2M201 371.8h1.2M243.1 371.5h1.2M247.3 371.6h1.2M256.2 371.9h1.2M266.7 371.8h2.2M272.6 371.5h1.2M283.1 371.9h1.2M285.7 372h1.2M288.2 371.9h1.2M291.7 371.5h1.2M293.9 372h1.2M296.2 371.2h1.2M299.3 371.4h1.2M301.9 371.1h1.2M308.9 371.9h1.2M311.9 371h2.2M315.2 371.5h1.2M40.5 372.7h1.2M147.6 372.6h1.2M161.8 372.2h1.2M164.8 372.3h1.2M175.9 372.6h1.2M186.9 372.1h1.2M196 372.9h1.2M202.3 372.4h1.2M216.2 372.2h1.2M225.1 372.2h1.2M232.5 372.7h1.2M235.8 372.5h1.2M239.4 372.2h2.2M243.5 372.9h1.2M246.5 372.9h2.2M259.5 372.2h1.2M267.1 372.6h2.2M270.5 372.3h1.2M273.5 372.3h1.2M275.8 372.5h2.2M280.2 372h1.2M283.1 372.9h1.2M284.7 372.7h1.2M295.8 372.3h1.2M298.9 372.1h1.2M316.1 372.5h2.2M320.7 372h1.2M334.3 372.7h1.2M38.4 373.8h1.2M146.5 373.5h1.2M181.5 373.9h1.2M185 373.7h1.2M190.7 373.3h2.2M197.5 373.9h1.2M204.5 373.6h1.2M206.6 373.1h1.2M220.4 373.3h1.2M229.5 373.8h1.2M232 373.2h2.2M234.4 373.5h1.2M244.2 373.2h1.2M256 373.2h1.2M265.4 373.2h1.2M267.6 373.6h1.2M269.7 373.9h2.2M274.2 373.7h1.2M276.4 373.4h1.2M281.4 373.3h1.2M284.7 373.2h2.2M300.8 373.1h1.2M306.4 373.5h2.2M312.5 373.8h1.2M315.5 373.1h2.2M324 373.8h1.2M328.2 373.9h1.2M161.9 374.2h1.2M170.4 374.9h1.2M174 374.9h1.2M178.2 374.7h2.2M192.2 374.2h1.2M215.3 374.9h2.2M224.9 374.4h1.2M229.9 374.6h1.2M231.6 374.9h2.2M235.8 374h1.2M240 374.1h1.2M249.4 374.9h1.2M254.2 374.1h1.2M259.2 374.2h2.2M263 374.2h1.2M265.1 374.7h1.2M269.7 374.2h1.2M286.2 374.9h1.2M288.6 375h1.2M291 374.3h1.2M295.9 374.1h1.2M298.9 374.6h1.2M303.9 374h1.2M43.1 375.5h1.2M166.6 375.8h1.2M178 375h2.2M185.8 375.8h1.2M193 375.4h1.2M202.2 375.5h1.2M204.6 375.1h1.2M207.3 375.3h1.2M210 375.2h2.2M217.7 375.3h1.2M222.4 375h2.2M230.5 375.7h1.2M234.7 375.4h2.2M240 375.5h1.2M242.3 375.8h1.2M245.3 375.3h2.2M249.4 376h2.2M263.1 375.8h1.2M268.6 376h1.2M271.6 375.8h1.2M279.4 375.8h1.2M291 375.4h1.2M295.7 375.5h1.2M297.7 375.4h2.2M315.4 375.4h1.2M320.3 375.4h1.2M40.3 376.7h1.2M165.3 376.7h1.2M179 376.9h1.2M188.1 376.8h1.2M190.1 376.5h1.2M194.7 376.3h2.2M202.2 376.3h1.2M203.7 377h1.2M210.1 376.3h1.2M216.1 376.4h1.2M219.5 376.9h1.2M222.5 376.9h2.2M231.8 376.5h1.2M233.9 376.5h1.2M250.2 376.3h2.2M261.4 376.6h1.2M264.2 376.2h2.2M275.6 376.3h2.2M283.3 376.4h1.2M289.2 376.7h2.2M293.6 376.5h1.2M304.5 376.5h2.2M311.6 376.7h1.2M316.9 376.6h1.2M48.8 377.6h1.2M144.8 377.3h1.2M164.4 377.5h1.2M166.5 377.4h1.2M171.2 377.5h1.2M178.9 377.6h1.2M183.1 378h1.2M187.5 377.9h1.2M190.9 377.6h2.2M201.8 377.5h1.2M204.8 377.8h1.2M206.9 377.8h1.2M209.5 377h1.2M231.6 377.2h1.2M243.7 377.4h1.2M257.1 377.9h1.2M262.4 377.6h1.2M264.3 377.5h1.2M268.1 377.9h1.2M272.1 377.4h1.2M286.2 377.8h1.2M291.4 377.8h1.2M293 377.2h1.2M294.4 377.2h1.2M305.1 377.1h2.2M308.1 377.3h1.2M309.6 377.9h1.2M48.5 378.9h1.2M52 378.3h1.2M172.6 378.6h1.2M174.7 378.6h1.2M182 378h1.2M184.7 378.7h1.2M192.5 378.7h1.2M202.2 378.8h1.2M204.3 378.4h1.2M220.3 378h1.2M224.5 378.6h1.2M249.5 378.5h1.2M258.7 378.7h1.2M264.8 378.3h1.2M267.1 379h1.2M270.6 378.1h1.2M274.6 378.9h1.2M281.1 378h1.2M286.6 378.8h2.2M292.5 378.5h2.2M295.6 378.3h1.2M303.8 378.5h1.2M307.3 378.5h2.2M310.4 378.5h1.2M312.9 378.3h1.2M314.8 379h1.2M160.9 379.2h1.2M175.5 379.6h1.2M186.9 379.5h1.2M206 379.1h1.2M210.5 379.3h1.2M227.7 379.7h1.2M231.3 379.6h1.2M234.2 379.8h1.2M238.8 379.6h1.2M241.2 380h1.2M244.2 379.4h2.2M247.5 379.2h1.2M249.9 379.2h1.2M269.1 379.3h2.2M273.8 379.4h2.2M281.4 379.4h1.2M287.1 380h2.2M295.1 379.7h1.2M307.2 379.4h1.2M310.6 379.2h1.2M313.5 379.1h1.2M319.3 379.9h1.2M85.2 380.2h1.2M139.4 380.7h1.2M194.9 380.6h1.2M201.8 380.6h1.2M214.1 380.5h1.2M229.8 380.4h1.2M231.4 380.4h2.2M236.8 380.3h2.2M242.1 380.8h1.2M243.8 380.7h2.2M258.9 380.3h1.2M260.4 380.3h1.2M264.3 380.8h1.2M266.3 380.8h1.2M284 380.1h2.2M289.5 380.8h1.2M291.5 380.1h1.2M298.3 380.4h1.2M306.5 380.2h1.2M314.6 380.5h1.2M318.5 380.5h1.2M324.7 380.1h1.2M54.8 381.6h1.2M83.7 381.3h1.2M180.7 382h1.2M192.3 381.3h1.2M194.1 381.8h1.2M199.1 381.7h1.2M212.5 381.8h1.2M219.5 382h1.2M231.6 381.2h1.2M234.9 381.4h1.2M246.5 381.2h1.2M253.4 381.2h1.2M254.4 381.3h1.2M258.9 381.1h1.2M263.1 381.5h1.2M265.2 381.2h1.2M267.4 381.6h1.2M272.4 381h1.2M275.1 381.4h2.2M278.1 381.4h1.2M288.2 381.6h2.2M295.7 381.3h1.2M302.1 381.3h1.2M308.7 381.9h1.2M310.6 381.7h1.2M320.6 381.2h2.2M34.1 382.4h1.2M85.9 382.2h1.2M93.3 382.7h1.2M163.6 382.4h1.2M174.7 382.8h2.2M178 382.3h1.2M192.9 382.8h1.2M208.6 382.4h2.2M212.8 382.6h1.2M219.4 382.3h1.2M223.6 382.1h1.2M241.7 382.2h1.2M245.1 382.1h1.2M247.2 382.9h1.2M249.3 382.1h2.2M256.5 383h2.2M260.5 382.1h1.2M263.6 382.6h1.2M267.2 382.1h1.2M268.8 382.4h1.2M275.3 382.6h2.2M281.9 382.4h1.2M284.8 382.3h1.2M289.1 382.2h1.2M295.9 382.8h1.2M297.9 382.4h1.2M308 382.1h1.2M57.5 383.1h1.2M133.7 383.4h1.2M175.7 383.3h1.2M185.1 383.8h1.2M200.1 383.7h1.2M211.4 383.3h1.2M231.8 383.6h1.2M239.8 383.6h1.2M249.2 383.6h2.2M252.6 383.9h1.2M256.3 383.5h1.2M260.1 383.1h1.2M267 383.6h1.2M276.3 383.7h1.2M280.4 383.5h2.2M287.4 383.1h1.2M295.1 383.4h1.2M303.8 383.9h1.2M57.2 384.4h1.2M60.1 384.3h1.2M156 384.2h1.2M163.2 384.1h1.2M164.5 384h1.2M190.2 384.7h1.2M192.1 384.9h1.2M195.1 384h1.2M197.5 384.1h1.2M203.5 384.1h1.2M205.7 384.3h1.2M231 384.5h1.2M242.1 384.4h1.2M247.4 384.7h1.2M256.4 384.4h1.2M265.7 384.8h1.2M267.5 384.9h1.2M272 384.9h1.2M274.7 384.9h1.2M291.5 384.7h1.2M295.5 384.9h1.2M303.7 384.6h1.2M305.7 384.6h2.2M309.9 384.3h2.2M315.5 384.9h1.2M33.9 385.4h1.2M44.2 385.7h1.2M60.2 385.8h1.2M88.3 385.8h1.2M99 385.8h1.2M108.3 385.2h1.2M125.8 385.5h1.2M165.1 385.2h1.2M195 385.4h1.2M198.6 385.2h2.2M207.4 385.2h1.2M214.6 385.4h1.2M221.5 385.3h1.2M232.3 385.4h1.2M239 385.5h2.2M242.2 385.7h1.2M245.1 385.4h1.2M247.9 385h2.2M250.5 385.5h1.2M254.2 385.4h2.2M256.5 385.7h1.2M262.7 385.3h1.2M273.3 385.5h1.2M275.3 386h1.2M279.4 385.7h2.2M304.9 385h1.2M311.1 385.4h1.2M320 385.1h1.2M44.5 386.7h1.2M62 386.1h1.2M88 386.7h1.2M90.9 386.7h1.2M104.5 386.9h1.2M127.5 386.1h1.2M157 386.8h1.2M193.2 386.4h1.2M198.8 386.7h1.2M202.5 386.7h1.2M208.4 386h1.2M212 386.6h1.2M234.8 386.3h1.2M238.2 386.6h1.2M244.7 386.1h1.2M249.1 387h1.2M258.2 386.2h1.2M273.5 386.6h2.2M280.5 386.8h1.2M282.5 386.3h1.2M296.5 386h1.2M305.6 386.3h1.2M308.1 386.5h2.2M57.3 387.4h1.2M87.9 387.7h1.2M103.9 387.4h2.2M112.1 387.8h1.2M140.3 387.2h1.2M171.9 387.4h1.2M186.2 387.2h1.2M189.7 387.7h1.2M197.2 387.8h1.2M216.5 387.5h1.2M235.8 387.8h1.2M238.8 387.2h1.2M242.4 387.9h1.2M252.3 387.6h1.2M259 387.6h2.2M261.8 387.3h1.2M263.9 387.3h1.2M271 387.5h2.2M273.8 387.1h1.2M276.2 387.7h2.2M281.2 387.2h1.2M282.9 387.6h1.2M289.1 387.5h1.2M291.8 388h1.2M294.8 388h2.2M298.9 387.3h2.2M318.8 387.7h1.2M52.9 388.8h1.2M69.1 388.5h1.2M88.2 388.3h1.2M96.6 388.8h1.2M122.5 388.1h1.2M141.5 388.4h1.2M146.5 388.2h1.2M150.1 388.1h1.2M177.9 388.6h1.2M182.3 388.3h1.2M187.5 388.8h1.2M189.6 388.8h1.2M193.5 388h1.2M201.3 388.7h1.2M210.5 388.3h2.2M217.2 388.1h1.2M240.3 388.1h2.2M246.9 388.2h1.2M251.9 388.2h1.2M259.5 388.4h1.2M271.1 388.5h2.2M274 388.5h2.2M283 388.1h2.2M288.8 388.1h1.2M293.5 388.2h1.2M297.4 388.2h1.2M53.8 389h1.2M108.4 389.9h1.2M123.1 389.3h1.2M132 389.2h1.2M158.4 389.7h1.2M167.8 389.5h1.2M174.8 389.9h1.2M180 389.1h1.2M200.5 389.8h1.2M215.7 389.4h1.2M230 389.3h1.2M233.2 389.7h1.2M239.5 389.6h2.2M246.3 389.7h2.2M259.6 389.3h1.2M276.3 389.8h1.2M277.7 389.5h1.2M282.7 389.8h2.2M289.5 389h1.2M292.4 389.2h1.2M45.6 390.8h1.2M51.3 390.6h1.2M69.6 390.2h1.2M71.6 390h1.2M87.4 390.4h1.2M106 390.1h2.2M115.4 390.2h1.2M133.5 390.1h2.2M147.7 390.3h1.2M163.5 390.1h1.2M168.4 390.5h1.2M178.5 390.6h1.2M181.3 390.2h1.2M184.6 390.7h1.2M190.9 390.1h1.2M210.3 390h1.2M215 390.2h1.2M229.2 390.1h1.2M234.9 390.5h1.2M237.8 390.5h1.2M241.8 390.3h1.2M243.9 390.1h1.2M245.5 390.6h2.2M255.9 390.6h2.2M259.9 390.6h1.2M261.7 391h1.2M265.7 390.3h2.2M273.7 390h1.2M277.4 390.8h1.2M280.4 390.5h2.2M290.2 390.8h1.2M292.6 390.5h1.2M297.5 390.8h1.2M304.8 390.8h1.2M311 390.6h1.2M318.7 390.8h1.2M80.6 391.1h1.2M93.7 391.7h2.2M119.1 391.1h1.2M125.3 391.2h1.2M139.3 391.6h1.2M162.4 391.1h1.2M164 391.5h1.2M172.6 391.7h1.2M175.9 391.9h1.2M193.2 391.2h2.2M200.7 391.3h1.2M204.1 391.8h1.2M232.2 391h1.2M237 391h1.2M256.4 391.9h2.2M265.8 391.3h1.2M269.5 391.5h2.2M276 391.7h1.2M277.5 391.5h1.2M282.1 391.8h2.2M290.4 391.5h1.2M292.7 391.5h1.2M308.9 391.4h1.2M318.4 391.6h1.2M46.7 392.9h1.2M76.7 392.8h1.2M110.1 392.1h1.2M139.7 392.2h1.2M156.4 392.4h1.2M159.3 392.6h1.2M172.2 392.2h2.2M178.8 392.8h1.2M188.1 392.9h1.2M194.2 392.7h1.2M201.1 392.3h1.2M204.5 392.6h1.2M209 392.9h1.2M231.7 392.2h1.2M237.3 392.5h1.2M238.9 392.6h1.2M255.4 392.2h2.2M259.3 392.1h2.2M262.3 392.9h1.2M273.5 392.5h1.2M275.7 392.7h1.2M280.3 392.3h2.2M283.5 392.9h1.2M291.2 392.4h1.2M295.3 392.5h1.2M296.5 392.4h1.2M306.1 392.3h1.2M309 392.2h2.2M41.2 393.2h1.2M89.7 393.8h1.2M103.6 393.5h1.2M110.2 393.6h1.2M118.5 393.1h1.2M123.2 393.1h1.2M170.6 393.1h1.2M177.6 393.6h1.2M184.7 393h1.2M193.1 393.6h1.2M210.9 393.6h1.2M230 393.2h1.2M234.4 393.4h1.2M257.4 393.4h1.2M260.2 393.1h1.2M263.1 393.6h1.2M265.2 393.5h2.2M270.1 393.8h1.2M272 393.2h1.2M274.3 393.5h1.2M275.6 393.8h1.2M280 393.4h1.2M289.1 393.5h1.2M291.1 393.9h1.2M299.4 393.8h1.2M317.3 393.8h1.2M127.4 394.4h1.2M133.6 394.4h1.2M156.4 394.7h1.2M185.5 394.9h1.2M192.4 394.4h1.2M200.1 394.3h1.2M204.4 394.9h1.2M235.1 394.5h2.2M239.4 395h1.2M242.4 394.9h1.2M255.9 395h1.2M259.8 394.3h1.2M262 394.7h1.2M264 394h1.2M265.6 394.4h1.2M269.7 394.6h1.2M272.4 394.6h1.2M275 394.1h1.2M277.7 394.8h1.2M286.2 394.2h1.2M295.1 394.9h1.2M109.3 395.5h1.2M116.8 395.1h1.2M147.7 395.1h1.2M168.9 395.2h1.2M172.3 395.2h1.2M178.5 395.9h1.2M185 395.6h2.2M192.1 395.1h1.2M200.5 395.3h1.2M208.8 395.5h2.2M214.1 395.6h1.2M228.9 395.8h1.2M236 395.1h2.2M239.9 395.4h1.2M256.8 395.2h1.2M260.1 395.2h1.2M272.5 395.7h1.2M275.2 395.9h1.2M277.6 395h1.2M279.9 396h1.2M282.6 395.4h1.2M297.3 395.7h1.2M318 395.7h1.2M48.6 396.5h1.2M57.6 396.6h1.2M90 396.5h1.2M120.2 396.2h1.2M168.9 396h1.2M176.6 396.1h1.2M196.7 396.9h1.2M201.3 396.3h1.2M206 396.3h1.2M225.6 396.5h1.2M234.3 396.9h1.2M253.3 396.9h2.2M257.3 396.2h2.2M261.4 396.3h1.2M279.5 396.2h1.2M281.6 396.5h2.2M301.3 396.7h1.2M303.1 396.5h1.2M307.3 396.7h2.2M313.4 396.1h1.2M43.7 397.6h1.2M54.7 397.4h1.2M122.8 397.8h1.2M173.6 397.7h1.2M178.6 397.6h1.2M184 397.2h1.2M201 397.2h1.2M205 397.7h1.2M207.7 397.2h2.2M230.7 397h2.2M240 397.6h1.2M242.3 397.1h2.2M252.7 398h1.2M254.9 397.5h1.2M258.8 397.5h1.2M261.2 397.1h1.2M262.9 397.1h2.2M265.5 397.4h1.2M272.6 397.2h1.2M279.8 397.9h1.2M286.3 397.5h1.2M293.6 397.5h1.2M305.7 397.8h1.2M311.4 397h2.2M317.4 397.7h1.2M91.4 398.3h1.2M104 398h1.2M124.1 398.5h1.2M128.4 398.9h1.2M155.5 398.2h1.2M174 398.1h2.2M196 398.8h1.2M206.9 398.4h1.2M212.4 398.9h1.2M225.1 398.6h1.2M230.6 398.2h1.2M246 398.7h1.2M258.7 398.5h2.2M266.7 398.9h1.2M269.9 398.3h1.2M280.2 398.4h1.2M284.1 398.2h1.2M286 398.4h1.2M296.6 398.7h1.2M303.2 398.6h1.2M133.9 399.7h2.2M147.5 399h1.2M156.6 399.7h1.2M159.9 399.3h1.2M172.1 399.3h1.2M173.7 399.8h1.2M177.4 400h1.2M180.7 399.6h1.2M195.6 399.2h1.2M209.6 399.7h1.2M212.2 399.4h1.2M238.7 399.3h1.2M242.7 399.8h2.2M245.8 399.2h1.2M256.2 399.2h1.2M259.3 399.4h1.2M263.2 399.5h1.2M272.1 399.7h1.2M274 399.9h1.2M287 399.5h1.2M292.2 399.5h1.2M308.8 399.6h1.2M98.8 400.2h2.2M121 400.3h1.2M133.9 400.8h1.2M157.4 401h1.2M179.5 400.9h2.2M203.4 400.4h1.2M214.8 400.5h1.2M216.5 400.7h1.2M227.6 400.2h1.2M230.9 400.8h1.2M238.5 400.6h1.2M241.3 400.9h2.2M243.5 400.3h1.2M248.4 400.8h2.2M251.5 400.6h1.2M254.2 400.7h2.2M262.2 400.6h1.2M264.4 400.2h1.2M269.3 400.1h2.2M271.8 400.4h2.2M277.1 401h2.2M282.2 400.1h1.2M295.5 400.5h1.2M300.5 400.4h1.2M49 401.5h1.2M51.8 401.4h1.2M106.4 401.8h1.2M117.5 401.5h2.2M157.1 402h1.2M168.7 401.8h1.2M185.1 401.1h1.2M209.4 401.1h1.2M212.5 401.7h1.2M220.4 401.8h2.2M225 401.9h2.2M234.7 401.9h1.2M239.3 401.5h2.2M247.8 401.5h1.2M253.2 401.9h1.2M261 401.2h1.2M264.4 401.8h1.2M267.2 401.3h2.2M269.7 401.9h1.2M271.8 401.2h1.2M279.1 402h1.2M282 401.1h1.2M283.6 401.3h1.2M287.4 401.2h1.2M319.7 401h1.2M40.7 402.9h1.2M102.7 402.7h1.2M145.4 402.1h1.2M160.7 402.4h1.2M168.4 402h1.2M195.3 403h1.2M235.8 402.9h1.2M239.6 402.4h1.2M242.1 402.3h2.2M245.1 402.6h1.2M256.4 402.8h1.2M258.7 402.6h1.2M260.9 402.5h1.2M265.9 402.5h1.2M278.4 402.1h2.2M299.6 403h2.2M106.3 403.7h1.2M153.3 403.8h1.2M159 403.3h1.2M169.6 403h2.2M180.3 403.3h2.2M185.4 403h1.2M186.9 403.9h2.2M192.5 404h2.2M199.2 403.3h2.2M219.4 403.8h1.2M244.7 403.9h1.2M248.6 403.9h2.2M255.2 403.7h1.2M259.9 403.3h1.2M265.6 403.4h1.2M269.5 403.5h1.2M272 403.7h1.2M274.8 403.4h1.2M279.1 403.4h1.2M282.5 403.9h1.2M295.6 403.1h1.2M80.6 404.8h1.2M101.2 404.1h1.2M103 404.9h1.2M158.3 404.5h1.2M175.3 404.4h1.2M180.4 404.2h1.2M185.7 404h1.2M188.4 405h1.2M196.3 404.5h1.2M199.8 404.3h1.2M220 404.1h1.2M241.2 404.3h2.2M250.2 404.1h2.2M254.7 404.8h1.2M259.2 404.7h1.2M262 405h1.2M269.1 404.3h1.2M275.6 404.4h1.2M295.3 404.2h2.2M308.3 404.8h1.2M314.6 404h1.2M317.5 404.5h1.2M78.7 405.7h1.2M119 405.4h1.2M132 405.7h1.2M149.1 405.1h1.2M150.7 405.2h1.2M158 406h1.2M168.9 405.1h1.2M180.8 405.3h1.2M191.9 406h1.2M205.4 405.6h1.2M217.1 405h1.2M240 405.6h1.2M247.2 405.4h1.2M255.8 405.9h1.2M263.5 406h1.2M268.1 405.9h1.2M295.3 405.4h1.2M297.3 405.7h1.2M72 406.1h1.2M113.9 406.6h1.2M119.5 406.3h2.2M141.9 406.2h1.2M155.6 406.4h1.2M179.5 406.3h1.2M194.8 406.3h1.2M196.6 406.4h1.2M206.1 406.1h1.2M207.7 406.3h2.2M218 406.1h1.2M219.5 406.9h1.2M222.9 406.6h1.2M233.6 406h1.2M246.5 406h1.2M252.8 406.2h2.2M260.4 406h1.2M266.4 406.1h1.2M273.4 406.5h1.2M281.8 406.3h1.2M83.4 407.7h1.2M102.6 407.1h1.2M121.3 407.9h2.2M150.5 407.8h2.2M163 407.8h1.2M182.1 407.3h1.2M184.3 407h1.2M192.3 407.1h1.2M203.1 407.5h1.2M213 407.9h1.2M217.1 407.5h1.2M219.1 407.4h1.2M241.5 407.1h1.2M259.7 407.9h2.2M273.8 407.7h1.2M288.7 407.8h1.2M299 407.3h1.2M80.5 408.8h1.2M125.6 408.8h1.2M132.5 408.8h1.2M150.1 408.2h1.2M153.8 408.7h1.2M159.6 408.2h1.2M176.6 408.1h1.2M189.4 408.2h1.2M194.9 408.2h1.2M200.7 408.9h1.2M208.6 408.1h1.2M219.2 408.5h1.2M234.8 408.9h1.2M251.8 408.8h1.2M255.8 408.4h1.2M265.1 408.4h1.2M266.4 408.3h1.2M269.3 408.3h1.2M271 408.6h1.2M278.2 408.4h1.2M316.1 408.4h1.2M98.7 409.1h1.2M121.2 409.1h1.2M126.8 409.6h1.2M129.7 409.5h1.2M151.2 409.7h1.2M155.7 409.9h1.2M174.3 409.8h1.2M178.6 409.4h1.2M201.4 409.6h1.2M210.6 409.4h1.2M222.8 409.6h1.2M224.7 409.9h1.2M231.9 409.5h1.2M250.4 409.2h1.2M254.6 409.4h1.2M256.5 409.3h1.2M259.2 409.5h1.2M265.3 409.4h1.2M267 409.9h2.2M269.8 409.5h1.2M284.8 409.5h2.2M292.7 409.7h1.2M295.6 409.1h1.2M69.5 410.2h1.2M76.9 410.8h1.2M96.8 410.2h1.2M98.5 410.8h1.2M110.8 410h1.2M122.1 410.8h1.2M139.4 410.9h2.2M182.4 410.7h1.2M203 410.4h1.2M204.5 410.1h1.2M210.2 410.3h1.2M242 410.6h1.2M255.1 410.7h1.2M266.8 410.1h1.2M277.9 410.3h1.2M285.1 410.6h1.2M293 410.7h1.2M316.1 410.5h1.2M91.2 411.8h1.2M108.2 411.1h1.2M117.2 411.6h1.2M119.9 411.8h1.2M122.3 411.8h1.2M145.5 411.9h2.2M173.6 411.6h2.2M182.3 411.2h1.2M198.1 411.3h1.2M243.6 411.9h1.2M246.2 411.9h1.2M259.5 411.2h1.2M274.5 411.1h1.2M314.9 411.8h1.2M87.2 412h1.2M106.7 412.3h1.2M122.4 412.3h2.2M130.2 412.2h2.2M159.6 412.7h1.2M191 412.6h1.2M197.6 412.8h1.2M208.2 412.2h1.2M212 412.3h1.2M220.6 412.9h1.2M228 412.1h1.2M235.8 412.3h2.2M245.4 412.3h1.2M248.9 412.3h2.2M259.5 412.9h1.2M267.1 412.9h1.2M270.3 412.6h1.2M272 412.7h1.2M279.8 412.7h1.2M303.5 412.6h1.2M308.1 412.1h1.2M315.4 412.4h1.2M92.2 413.3h1.2M93.6 413.7h1.2M107.1 413.3h1.2M108.6 413.4h1.2M111.6 413h1.2M138.2 413.5h1.2M142.6 413.3h1.2M174.7 413.4h2.2M204.3 413.8h1.2M210.5 413.7h1.2M244.9 413.3h2.2M248.5 413.6h1.2M275.4 413h1.2M278.3 413.9h1.2M282.7 413.7h1.2M290.1 413.7h1.2M292 413.8h1.2M307.3 413.2h1.2M88.9 414.9h1.2M101.5 414.6h1.2M117.2 414.9h1.2M136.1 414.5h1.2M137.9 414.3h1.2M139.7 414.7h1.2M142.3 414.9h2.2M145.3 414.3h1.2M158.6 414.1h1.2M170.3 414.6h1.2M183.7 414.6h1.2M192.2 414.7h1.2M195.6 414.6h1.2M204.4 414.3h1.2M230 414.6h1.2M232.6 414.7h1.2M242.8 414.1h1.2M258.4 414.6h1.2M275 414.2h1.2M287.2 414.1h1.2M308.6 414.8h1.2M87.2 415.4h1.2M136.6 415.5h1.2M152.7 415.4h1.2M159.6 415.9h2.2M178.2 416h1.2M183.7 415.4h1.2M207.1 415.9h2.2M212.5 415.1h1.2M214.5 415h1.2M224.6 415.3h1.2M233.8 415.7h1.2M238.2 415.9h1.2M246.2 415.3h1.2M256.4 415.3h1.2M258.5 415.9h1.2M286.3 415.4h1.2M68.6 416.3h1.2M101.3 416.1h1.2M116.1 416h1.2M124 416.8h1.2M140 416h1.2M149.5 416.5h1.2M163.2 416.1h1.2M170.8 417h2.2M177.4 417h1.2M182.6 416.2h1.2M193.3 417h1.2M201.1 416h1.2M214.6 417h1.2M235 416.8h2.2M241.2 416.6h2.2M244.6 416.3h2.2M251.3 417h1.2M260.6 416.7h1.2M264.2 416.2h1.2M279 416.7h2.2M291.8 416.4h1.2M296.7 416.7h1.2M61.3 417.6h1.2M94.5 417.7h1.2M99.8 417.9h1.2M107.9 417.6h1.2M144 417.9h1.2M146.1 417.6h1.2M157 417.6h1.2M166.1 417.9h1.2M171.8 417.5h1.2M180.1 417.9h1.2M188.2 417.7h1.2M198 417.1h1.2M212.5 417.1h1.2M228.2 417.1h1.2M234.6 417.6h2.2M241.8 417h1.2M244.4 417.9h1.2M248.4 417.6h1.2M252.3 417.1h2.2M256.9 417.4h1.2M270.4 417.1h1.2M284.5 417.4h2.2M292.9 417.4h1.2M298 417.3h1.2M70.1 418.4h1.2M73.4 418.1h1.2M95 418.2h2.2M104 418.5h1.2M125.7 418.4h1.2M134.9 418.6h1.2M138.3 418.6h2.2M145.3 418.6h1.2M158 418.1h1.2M193.1 419h1.2M227.6 418.8h1.2M232 418.1h1.2M252.6 418.5h1.2M255.5 418.1h1.2M269.8 419h2.2M283.7 419h2.2M294.6 418.4h1.2M311.3 418.4h1.2M71.3 419.6h1.2M99 419.8h1.2M113.2 419.1h1.2M124.9 419.9h1.2M144.7 419.2h1.2M155.3 419.7h1.2M167.2 419.6h1.2M174.5 419.9h1.2M189.6 419.8h1.2M195.9 419.4h1.2M204.6 419.9h1.2M227.2 419.1h1.2M234.4 419.2h1.2M240.4 419.6h1.2M243.9 419.7h1.2M250.2 419.4h2.2M258.3 419.9h1.2M260.8 419.7h1.2M272 419.6h1.2M275 419.2h1.2M291.3 419.7h1.2M67.5 420.5h1.2M72.6 420.5h1.2M109.2 420h1.2M114.1 420.4h1.2M116.5 420.1h1.2M122.4 420.4h1.2M140.7 420.8h1.2M144.4 421h1.2M146.9 420.1h1.2M163 420.9h1.2M174.9 420h2.2M189.8 420.2h1.2M205.4 420.7h1.2M218.1 420.1h1.2M243.8 420.7h1.2M248.6 420.5h1.2M258.5 420.1h1.2M267.1 420.3h2.2M275.1 420.6h2.2M295.2 420.1h1.2M300.9 420.1h1.2M309.2 420.5h1.2M311.1 420.9h1.2M95.1 421.2h1.2M137.7 421.8h1.2M142.7 421.6h1.2M150.9 421.7h2.2M163.2 421.7h1.2M185.3 421.2h1.2M195.2 421.2h1.2M203 421.9h1.2M210.1 421h1.2M223.2 421.3h1.2M228.5 422h2.2M243.8 421.1h1.2M249.2 421.6h1.2M251.5 421h1.2M277.3 422h1.2M281.3 421.8h1.2M282.5 421.9h2.2M293.7 421.4h2.2M95.6 422.3h1.2M122.4 422.9h1.2M153.5 423h1.2M163.5 422.2h1.2M170.5 422.9h2.2M177.5 422.7h1.2M194.2 422.7h1.2M223.6 422.8h1.2M230.7 422.9h1.2M243.5 422.1h1.2M268.5 422.2h1.2M271.3 422.3h1.2M273.4 422.6h1.2M275.9 422.2h2.2M280.1 422.4h1.2M287.4 422.4h1.2M290.8 422.3h2.2M299.6 422.5h1.2M306.3 422.2h1.2M311.3 422.1h1.2M61 423.1h1.2M90 423.3h1.2M96.1 423.8h1.2M114.7 423.8h1.2M122.6 423.5h1.2M135.5 423.4h1.2M154.3 423.2h1.2M166.9 423.1h1.2M182.1 423.2h1.2M184.2 423.6h1.2M196.4 423.2h1.2M225.1 423.6h2.2M227.5 423.5h1.2M236.4 423.8h1.2M238.7 423.6h1.2M252.7 423.8h1.2M257.1 423.2h1.2M280.2 424h1.2M288 423.8h1.2M289.8 423.1h1.2M293.1 423.7h1.2M302 423.9h2.2M310.6 423.5h1.2M142.5 424.8h1.2M145.6 424.1h1.2M148.2 424.5h1.2M153.1 424.8h1.2M179.2 425h1.2M181.2 424.9h1.2M190.6 424.1h1.2M199.3 424.4h1.2M235.2 424.9h2.2M240.1 424.4h1.2M243.1 424.5h1.2M246.1 424.1h1.2M253.7 424.5h2.2M258 424.3h1.2M263.7 424.1h1.2M266.3 424.9h1.2M272.7 424.3h1.2M297.5 424.7h1.2M316 424.4h1.2M67.2 425.8h1.2M109.5 425.1h1.2M126.1 425.3h1.2M155.3 425.2h2.2M167.7 425.1h1.2M173.3 425.9h1.2M179 426h1.2M182.1 425.2h1.2M184.8 425.9h1.2M237.7 425.3h1.2M240.1 425.8h1.2M244.3 425.7h2.2M267.5 425.2h1.2M270.2 425.3h1.2M276.2 425.1h1.2M280.8 425.7h1.2M294.1 425.8h1.2M52.2 426.6h1.2M60.4 426.6h1.2M100.7 426.7h1.2M117.8 426.3h1.2M131.1 426.7h1.2M135.5 426.9h1.2M155.5 426.7h1.2M170.7 426.6h1.2M177 426.4h1.2M187.1 426.9h1.2M188.9 426.1h1.2M195 426.9h1.2M202.8 426h1.2M216.8 426.3h2.2M236 426.2h1.2M249.4 426.9h1.2M255.4 426.9h1.2M269.5 426h1.2M281.2 426h1.2M287.1 426.4h1.2M294.7 426.4h1.2M302.6 426.1h1.2M50.8 427.5h1.2M60.6 427h1.2M92.5 427.7h1.2M113.3 428h1.2M117.6 427.5h1.2M135.4 427.1h1.2M148.3 427.1h1.2M168.8 427.3h1.2M173.1 428h1.2M175.9 427.9h1.2M235.3 427.8h1.2M237.8 427h2.2M245.2 427.2h1.2M256.9 427.7h1.2M263.4 427.6h1.2M269.3 427.7h1.2M276.3 427.8h1.2M279.7 427.4h1.2M283 427.4h2.2M292.3 427.9h1.2M295.6 427h1.2M299.1 427.7h1.2M314.2 427.4h1.2M51.3 428.4h1.2M102.2 428.7h1.2M134.2 428.6h1.2M151 428.8h2.2M166.8 428.4h1.2M179.6 428.1h1.2M185.2 428.7h1.2M203.6 428.3h1.2M214 428.3h2.2M222.9 428.5h2.2M228.8 428.2h2.2M233.7 428.8h1.2M236.2 428.9h1.2M238.1 428.9h1.2M245.3 428.9h1.2M272.9 428.8h1.2M284.1 428.4h1.2M287.7 428.5h1.2M296.1 428.8h1.2M70.7 429.2h1.2M100.8 429.4h1.2M120.8 429.9h2.2M131.3 429h1.2M151.8 429.3h1.2M186.3 430h1.2M209 429.1h1.2M210.5 429.5h1.2M218 429.1h1.2M234.1 429h1.2M242.2 429h1.2M254.1 429.8h1.2M259.6 429.2h1.2M263.9 429.1h1.2M266.8 429.7h1.2M271.3 429.4h1.2M273.6 429.1h1.2M278.6 429.2h1.2M281.4 430h1.2M286.9 429.9h1.2M295.3 429.2h1.2M297.6 429.8h1.2M60.7 430.3h1.2M66.8 430.3h1.2M69.7 430h1.2M122 430.6h1.2M146.8 430.5h1.2M154.8 430.9h1.2M175.6 430.1h1.2M179.3 430.3h1.2M187.7 430.4h1.2M222.1 430.7h1.2M236.3 430.2h2.2M241.2 430h1.2M259.4 430.8h1.2M271.3 430.4h1.2M272.7 430.3h1.2M277.7 430.7h1.2M284.9 430.9h1.2M289.7 430h1.2M302.4 430.8h1.2M103 431.9h2.2M128.6 431.4h1.2M155.1 431.5h1.2M158.1 431.8h1.2M172.6 431.1h1.2M181.2 431.4h1.2M184.2 432h1.2M189.5 431.3h1.2M194.4 431.4h1.2M207.3 431.6h1.2M233 431.1h2.2M236.5 431.7h1.2M239.1 431.3h2.2M249.1 431.9h1.2M259.5 431.5h1.2M262.3 431.1h1.2M271.7 431.7h2.2M277.3 431.8h1.2M279.4 431.4h1.2M281.6 431.1h2.2M284.8 431.3h1.2M291.2 431.5h1.2M309.7 431.5h1.2M71.7 432.3h1.2M98.1 432.2h1.2M104.4 432h1.2M118.7 432.5h1.2M123.4 433h1.2M128.6 432.7h1.2M153.4 432.7h2.2M170.4 432.6h1.2M174.1 432.6h1.2M177.4 432.3h2.2M212.8 432.5h1.2M223.9 432.7h1.2M225.8 432.3h1.2M229.1 432.1h1.2M232.5 432.5h1.2M237.8 432.3h2.2M273.7 432.8h2.2M277 432h1.2M279.6 432.4h1.2M286.6 432.4h1.2M290.9 432.1h1.2M306.8 432.5h1.2M77.9 433.6h1.2M89.8 433.4h1.2M93.8 433.8h2.2M151.3 433.6h1.2M157.2 433.5h1.2M175.1 433.5h1.2M183.9 433.7h2.2M191.3 433.3h1.2M193.4 433.6h1.2M209.4 433.4h1.2M227.4 433.2h1.2M234.1 433.8h1.2M241 433.6h1.2M248.3 433.1h1.2M262.7 434h1.2M278.4 433h1.2M281.9 433.5h1.2M285.5 433.1h1.2M287.5 433.1h1.2M290.6 433.3h1.2M293.2 433.2h1.2M296.1 433.8h1.2M299.4 433.2h1.2M151 434.1h1.2M156.5 434.8h1.2M164.3 435h1.2M166.4 434.3h2.2M170.9 435h1.2M179.1 434.2h1.2M181.6 434.5h2.2M188.8 434.9h1.2M214 434.5h1.2M233.7 434.6h1.2M240.9 434.4h1.2M242.8 434.6h1.2M256.9 434h1.2M259.6 434.1h1.2M265.8 435h1.2M271.3 434.4h2.2M276.4 434.2h1.2M277.8 434.9h1.2M286.9 434.3h2.2M290 434.2h2.2M293 434.4h1.2M69.7 435.2h1.2M85 435.7h1.2M89.2 435.2h1.2M128.7 435.2h1.2M144.1 436h1.2M151.1 435.7h1.2M153.6 435.4h1.2M155.8 435.8h1.2M164.4 435.6h1.2M166.9 435.7h1.2M196.1 435.1h1.2M203.8 435.8h1.2M240.8 435h1.2M257.3 435.2h2.2M267.9 435.1h1.2M272.2 435.3h1.2M274.4 435.5h1.2M284.6 435.5h1.2M288.4 435.1h1.2M289.5 435.4h1.2M296.6 435.9h1.2M298.5 435.9h1.2M69.4 436.2h2.2M86.4 436.1h1.2M101.8 436.4h1.2M124.5 436.2h1.2M149.8 436h1.2M191.3 436.8h1.2M196.4 436.3h1.2M224.7 436.7h1.2M227.2 436.1h1.2M235.1 436h1.2M241.5 436.5h1.2M256.5 436.1h1.2M262.2 436.7h1.2M268.2 436.1h1.2M271.9 436h2.2M287.3 436.6h2.2M289.9 436.3h1.2M293 436.1h1.2M299.2 436.9h1.2M61.2 437h1.2M79.2 437.9h1.2M102.4 437h1.2M104.6 437.4h1.2M134.7 437.2h1.2M139.1 437.3h1.2M145.9 437.7h1.2M152.2 438h1.2M157.5 437.3h1.2M197.3 437.2h1.2M203.2 437.3h1.2M218.3 437.5h1.2M227.3 437.7h1.2M232.5 437.3h1.2M236.7 437.5h2.2M246.9 437.3h1.2M252 437.1h1.2M260.3 437.7h2.2M277.7 437.2h1.2M280.1 437.5h1.2M283.2 437.9h1.2M285.5 437.2h2.2M288.9 437.3h1.2M59.4 438.4h1.2M61 438h1.2M86.3 438.1h1.2M137.1 438.4h1.2M138.6 438.8h1.2M150.3 438.3h1.2M153.7 438.2h1.2M160.7 438.5h1.2M162.9 438.1h1.2M164.6 438.6h1.2M176.5 438.9h1.2M182.2 438.5h1.2M250.6 438.7h1.2M254.9 438.4h1.2M267.1 438.3h1.2M277 438.9h2.2M285.7 438h1.2M288 438.2h1.2M301.5 438.3h1.2M69.8 439.3h1.2M77.9 439.9h1.2M90.8 439.2h2.2M145.5 439h1.2M153.3 439.7h1.2M173.6 439.4h1.2M204.4 439.3h1.2M224.5 439.6h1.2M234.4 439.4h1.2M251.2 439.7h1.2M256 439.2h1.2M264.5 439.7h1.2M282.1 439.9h1.2M286.6 439.2h1.2M294.3 439.4h1.2M126.1 440.9h1.2M131.9 440h1.2M147.2 441h2.2M161.1 440.3h1.2M169.8 440.3h1.2M234.6 440.5h1.2M237.3 440.6h1.2M262.2 440.5h1.2M278.5 440.1h1.2M291.5 440.7h1.2M77.8 441.3h1.2M92.3 441.6h1.2M98.9 441.1h1.2M131.2 441.1h1.2M136.1 441.3h1.2M167.8 441.7h2.2M206.2 441.1h1.2M246.1 441.5h1.2M254.9 441.3h1.2M257.1 441.9h2.2M262 441.1h1.2M264.3 441.7h1.2M269.6 441.4h2.2M276.1 441.6h1.2M281.7 441.5h1.2M284.3 441.7h1.2M311.1 441.4h1.2M99.4 442.2h1.2M107.9 442.2h1.2M126 443h1.2M131 442.6h2.2M134 442.4h1.2M159.7 442.7h1.2M207.8 442.1h1.2M251.6 442.4h1.2M258.2 442h1.2M263.1 442.9h1.2M272.5 442.8h1.2M280.1 442.8h1.2M282.4 442.4h1.2M289.1 442.2h1.2M292.9 442.6h1.2M76.8 443.5h1.2M82.4 443.1h1.2M127.8 443.3h1.2M159.9 443.6h2.2M182.2 443.3h2.2M204.2 444h1.2M207.5 443.8h1.2M231.6 443h1.2M236.9 444h1.2M255.3 443.4h1.2M259.6 443.4h1.2M273.2 443.1h1.2M279.9 443.2h1.2M289.1 443.6h1.2M297.2 443.3h2.2M299.9 443h1.2M310.1 443.4h1.2M78.6 444.3h1.2M99.3 444.2h1.2M132.9 444.2h1.2M150.4 444.1h2.2M160.4 444.1h1.2M182.4 444.4h1.2M190.2 444.1h1.2M200.7 444.8h1.2M208.8 444.1h1.2M240.2 444.8h1.2M255.1 444.3h1.2M265.3 444.1h2.2M269.1 444.6h2.2M280.9 444.5h1.2M283.1 444.8h1.2M288.1 445h1.2M62.3 445.8h1.2M69.3 445.1h1.2M88.2 445.5h1.2M107.3 445.3h1.2M147.1 445.6h1.2M175.8 445.8h1.2M182.2 445.7h1.2M184.1 445.1h1.2M188.9 445.7h2.2M201.2 445.9h1.2M203.4 445.4h1.2M209.3 445.5h1.2M224.5 445.1h1.2M233.1 445.2h1.2M234.8 445.4h1.2M268.8 445.4h1.2M279 445.7h2.2M312.3 445.5h1.2M70.3 446h1.2M74.5 446h1.2M90.7 446.5h1.2M133.4 446.3h1.2M135.5 446.2h2.2M142.5 446.2h2.2M208.6 446.2h1.2M263.9 446h1.2M265.6 446h2.2M284.1 446.8h2.2M298.4 446.8h1.2M70.2 447.3h1.2M89.3 447.3h1.2M108.1 447.4h1.2M111.9 447.8h1.2M144.6 447.9h1.2M228 447.1h2.2M259.9 448h1.2M261.5 447h2.2M268.5 447.8h1.2M272.7 447.4h1.2M285.9 447.3h2.2M288.6 447.5h2.2M299 447.3h1.2M90.2 448.5h1.2M105.5 448.7h1.2M140.8 448.6h1.2M160.2 448h1.2M184.8 448.4h1.2M198.6 448.2h1.2M201.7 448.1h1.2M203.5 448.3h1.2M206.7 448.7h1.2M226 448.4h1.2M228 448.3h1.2M264.9 448.3h2.2M267.5 448.3h1.2M275.2 448.7h1.2M282.6 448.9h1.2M287.1 449h2.2M300.6 448.6h1.2M64.1 449h1.2M72.8 449.8h1.2M88.2 449.1h1.2M139.7 449.2h2.2M184 449.2h1.2M199.2 449.6h1.2M207.6 449.8h1.2M229.5 449.8h1.2M237.6 449.5h1.2M252.4 449.3h1.2M257.6 450h1.2M264.1 449.8h1.2M280.2 449.1h1.2M285 449.3h1.2M295.8 449.1h1.2M299.1 449.3h1.2M300.6 449h1.2M86.1 450.9h1.2M122.5 450.3h1.2M124.9 450.7h1.2M174.9 450.7h1.2M188.2 450.4h2.2M215.1 450.8h1.2M220.5 450.5h1.2M227.7 450.2h1.2M242.3 450.9h1.2M249.5 450.8h1.2M258.2 450.4h1.2M261.8 450.4h2.2M268.3 450.4h1.2M272.9 450.6h1.2M274.5 450h1.2M277.1 450.4h2.2M286.2 450.8h1.2M290.5 450.3h2.2M309.7 450.9h1.2M77.7 451.4h1.2M85 452h1.2M91.8 452h1.2M128.2 451.8h1.2M142.9 451.7h1.2M149.5 451.6h1.2M156.8 451.2h1.2M191.3 451h1.2M195.8 451.5h1.2M215.4 451.6h1.2M225.5 451.6h1.2M258.2 451.7h1.2M261 451.3h2.2M264.8 451.9h1.2M269.5 451.5h1.2M271.7 451.2h1.2M276.6 451.2h1.2M284.3 452h1.2M293.2 452h1.2M297.6 452h2.2M303.6 451.2h1.2M74.7 452.4h2.2M116.3 452.8h1.2M162.5 452.8h1.2M166 453h1.2M206.1 452.4h1.2M229.9 452.9h1.2M240.4 453h1.2M250.9 452.1h1.2M262.3 452.8h2.2M276.7 452.5h2.2M282.7 452.3h1.2M296.1 452.8h1.2M302.6 452.2h1.2M308.6 452.8h2.2M70.5 453.4h1.2M77.5 453.3h1.2M104.5 453.2h1.2M143.2 453.7h1.2M161 453.4h1.2M176.7 453h1.2M178.8 453.8h1.2M190.7 453.2h1.2M203.4 453.7h1.2M206.5 453.2h1.2M214.5 453.6h1.2M241.5 453.7h1.2M252 453.9h1.2M254.7 453.5h1.2M258.3 453.6h2.2M264.1 453.1h1.2M267.3 453.4h1.2M271.1 453.8h1.2M273.7 454h1.2M276.9 453.8h1.2M284.9 453.5h1.2M297 453.4h1.2M304.8 453.1h1.2M106.2 454.9h2.2M112.3 454h2.2M117.1 454h1.2M141.1 454.9h1.2M167.9 454.1h1.2M170 454.9h2.2M176 454.6h1.2M192.9 454.2h1.2M197.9 454.7h1.2M224.4 454.1h1.2M230.2 454.3h1.2M232.8 454.1h1.2M238.5 454.6h1.2M259.9 454.4h1.2M267 454.1h2.2M272 454.1h1.2M276.6 454.4h1.2M285.7 454.3h2.2M292.9 454.7h1.2M297.5 454.6h1.2M301.7 454.2h1.2M62.5 455.5h1.2M68.4 455.2h1.2M79.7 456h1.2M113.8 455.5h1.2M129.3 455.6h1.2M136 455.4h1.2M163.5 455.2h1.2M172.5 455.5h1.2M175.5 455.4h1.2M187.7 455h1.2M207.1 455h1.2M222.9 455.4h1.2M226.3 455.4h1.2M232.5 455.4h1.2M271.9 455.1h1.2M281.6 455.2h1.2M284.6 455.8h1.2M62.7 456.7h1.2M82.4 457h1.2M95.3 456.4h1.2M100.5 456.5h1.2M131.1 456.3h1.2M160.4 456.3h1.2M172 456.1h1.2M174.9 456.8h1.2M204 456.8h2.2M227.2 456.9h1.2M238.8 456.7h1.2M260.4 456.7h1.2M266.4 456.9h2.2M276.8 456.1h1.2M278.7 456.1h2.2M281.5 456.4h2.2M285.3 456.9h1.2M87 458h1.2M146.7 457.2h1.2M173.3 457.9h2.2M186.7 457.7h1.2M189.5 457.9h1.2M232.7 457.2h1.2M239.4 457h1.2M240.6 458h1.2M249.9 457.4h2.2M255 457h1.2M258.4 457.4h2.2M283.3 457.9h1.2M63.2 458.9h1.2M78.9 458.8h1.2M99 458.2h1.2M151.5 458.7h1.2M229.8 458.9h1.2M251.4 458.5h1.2M253.5 458.3h1.2M255.9 458.2h1.2M268.8 458.7h1.2M273.1 458.7h1.2M276.5 459h1.2M278.9 458h1.2M293.2 458.3h1.2M297.4 458.2h1.2M81.3 459.7h1.2M109.5 459.7h1.2M130.5 459.1h1.2M153.7 459.7h1.2M175.9 459.1h1.2M216.3 459.3h1.2M222.5 459.4h1.2M243.3 459.5h1.2M254.3 459.8h1.2M261.1 459.1h1.2M263.7 459.2h2.2M268.9 459.2h1.2M271.6 459.5h1.2M298.9 459.5h1.2M301.1 459.8h1.2M64.5 460.5h1.2M92.6 460.9h1.2M111.3 460.3h1.2M148.4 460.9h2.2M166.2 460.1h1.2M168.7 460.6h1.2M171.7 460.3h1.2M173.4 460.1h1.2M180.3 460.3h1.2M237.6 460.5h1.2M242.1 460.7h2.2M269.2 460.4h2.2M289.4 460.7h1.2M292.6 460.7h1.2M295.1 460.7h1.2M67.7 461.4h1.2M72.9 461.4h1.2M78.2 461.1h1.2M91.5 461.9h1.2M105.3 461h1.2M110.7 461.7h1.2M149 461.2h1.2M154.1 461.6h1.2M179.6 461.7h1.2M194.3 461.9h1.2M196.1 461.6h1.2M222.4 461.2h1.2M226 461.4h2.2M234.4 461.2h1.2M244 461.1h1.2M246 461h1.2M253.2 461.3h1.2M271.2 461.6h1.2M284.7 461.2h1.2M287.3 461.1h1.2M294.1 461.1h1.2M73 462.5h1.2M76.9 463h1.2M89.5 462.9h1.2M94.5 462h2.2M108.3 462.4h1.2M118.9 462.1h2.2M137.1 462.1h1.2M150.8 462.2h1.2M187.4 462.9h1.2M210 462.4h1.2M214.4 462.9h1.2M217 462h1.2M218.7 462.7h2.2M237.2 462.8h1.2M249.4 462.2h1.2M259.3 462.4h2.2M264.9 462.1h1.2M275.9 462.6h1.2M285.1 462.5h1.2M289.5 462.9h1.2M301.6 463h1.2M303.7 462.8h1.2M306.7 462.8h1.2M111.8 463.1h1.2M125.9 463.1h1.2M133.2 463.2h1.2M135.3 463.3h1.2M139.5 463.7h1.2M150.7 463.6h1.2M182.3 463.4h1.2M239.4 463.6h1.2M260.1 463h1.2M267.3 463.9h1.2M271.5 463.7h1.2M281.5 463.9h1.2M291.2 463h1.2M60.2 464.6h1.2M80 464.2h1.2M107.4 464.6h1.2M136.2 464.5h1.2M146 464.4h1.2M152.4 464.3h1.2M170.4 464.6h1.2M190.4 465h1.2M194.1 464.7h1.2M232.6 464.9h1.2M234.6 465h2.2M251.4 464.7h1.2M261.7 464.7h1.2M265.3 464.5h1.2M268.1 464.2h1.2M270.2 464.1h1.2M126.9 465.2h1.2M135.6 465.1h1.2M221.7 465.2h1.2M223.5 465.8h1.2M226.9 465.9h1.2M230.2 465.2h2.2M236.2 465.8h1.2M264.5 466h1.2M270.5 465.8h1.2M273.2 465.6h1.2M288 465.7h1.2M291.3 465.5h1.2M305.7 465.3h1.2M67.5 466.1h2.2M75.6 466.5h1.2M139.3 466.6h1.2M142.2 466.7h1.2M144.9 466.4h1.2M146.5 466.2h1.2M207.8 466.7h1.2M215.4 466.6h1.2M220.5 466.9h2.2M230.7 466.2h1.2M256.5 466.9h1.2M285.8 466.2h1.2M97.7 467.8h1.2M129.2 467.9h1.2M144.8 467.4h1.2M153.5 467.3h1.2M184.3 467.9h1.2M201.2 467.9h1.2M214.9 467.3h1.2M234.4 467.8h2.2M243.1 467.8h2.2M246 467.9h1.2M248.3 467.2h1.2M261.3 467.7h1.2M272.9 467.9h1.2M65.2 468.6h1.2M71 468.6h1.2M80 468.1h1.2M118.9 468.8h1.2M134.4 468.2h1.2M144.2 468.2h1.2M147.5 468.4h1.2M153.5 468.1h1.2M224.3 468.6h1.2M232.2 468.1h1.2M234.1 468.1h1.2M235.4 468h1.2M239.6 468.8h1.2M242.7 468.7h1.2M244.6 468.2h2.2M273.6 468.3h1.2M284.2 468.8h1.2M286.6 468.8h1.2M305.6 468.9h1.2M71.6 469.9h1.2M76.3 469.2h1.2M77.9 469.7h1.2M128.8 470h1.2M146.4 469.4h1.2M169.3 469.4h1.2M188.1 469h1.2M221.9 469.1h1.2M223.8 469.1h1.2M225.9 469.2h1.2M237.1 469.5h1.2M246.1 469.7h2.2M303.8 469h1.2M77.1 470.3h1.2M88.9 470.6h1.2M138.4 470.8h1.2M145.3 470.5h1.2M164 470.3h1.2M183.8 470.8h1.2M219.9 470.8h1.2M224 470.8h1.2M251 470.6h1.2M253.8 470.8h1.2M290.6 470.9h1.2M295.6 470.4h1.2M66 471.3h1.2M107.3 471h1.2M129.7 471.6h1.2M131.8 471.5h1.2M170.4 471.3h1.2M211.7 471.3h1.2M241.6 471.4h1.2M268.8 471.7h1.2M288.1 471.3h2.2M292.4 471.3h1.2M302.2 471.5h1.2M63.3 472.2h1.2M109.8 472.3h1.2M115.2 472.9h1.2M157.6 472.6h1.2M198.4 472.8h1.2M227.7 472.1h1.2M244.4 472.7h1.2M252.6 472.8h2.2M267.4 472.4h1.2M270.6 472.5h1.2M283 472.8h1.2M289.3 472.3h1.2M98.4 473.4h1.2M124.1 473.5h1.2M144.7 473.6h1.2M166 473.6h1.2M169.3 473.9h1.2M193.5 473.7h1.2M202.8 473.6h1.2M215.8 474h1.2M246.2 473.7h1.2M249.7 473.1h1.2M282.5 473.6h1.2M296.8 474h1.2M299.8 473.2h1.2M107.4 474.5h1.2M113.2 474.3h1.2M115.9 474.8h1.2M136.4 474.1h1.2M203 474.8h2.2M215.7 474.4h1.2M244.6 474.2h1.2M247.7 474.7h1.2M252.6 474.8h1.2M255.6 474.4h1.2M261.3 474.8h2.2M266.3 474.1h1.2M287.7 474.2h1.2M290.2 474h1.2M64.7 475.8h1.2M69.8 475.3h1.2M79.7 475.4h1.2M115.1 475.4h1.2M117.8 475.8h1.2M119.9 475.9h1.2M161.7 475.2h1.2M193.2 475.3h1.2M236.7 475.1h1.2M250.3 475.9h1.2M284 475h1.2M286.5 476h1.2M303.8 475.5h1.2M75.9 476.7h1.2M104.9 477h1.2M119.1 476.3h1.2M132.2 476.3h1.2M142.4 476.5h1.2M184 477h1.2M191.4 476.3h1.2M202.1 476.2h1.2M203.6 476.4h2.2M235.3 476.5h1.2M237.4 477h1.2M240.9 476.8h1.2M278.9 476.6h2.2M282.3 476.9h1.2M300.2 476.2h1.2M302.5 476.7h1.2M122.5 477.2h1.2M126.8 477.3h1.2M130.8 477.7h1.2M139.2 477.6h1.2M191.9 477.1h1.2M220.5 477h1.2M233.7 477.5h2.2M255.7 477.7h1.2M272.8 477.6h1.2M288.2 477.6h1.2M138.6 478.8h2.2M176.7 479h1.2M202 479h1.2M235.1 478.5h1.2M257.7 478.8h1.2M280.8 478.3h2.2M284 478h1.2M297.9 478.6h1.2M302.2 478.3h1.2M71.1 479.3h2.2M109.4 479.6h1.2M117.8 479.5h1.2M290.7 479.7h1.2M70.6 480.7h1.2M78.9 480.8h2.2M85.6 480.2h1.2M108.4 480.1h1.2M168.3 481h1.2M200.5 480.3h1.2M217.9 480.5h1.2M251.2 480.5h1.2M271.4 480.6h1.2M285.5 480.3h1.2M297.7 480.7h2.2M79 481.7h1.2M86.2 481.5h1.2M114.7 481.5h1.2M140.4 481.8h1.2M256.5 481.9h1.2M286.8 481.9h2.2M55.1 482.1h1.2M65 482.6h1.2M123.7 482.7h1.2M127.4 482.5h1.2M130.1 482.1h1.2M267.2 482.8h1.2M269.3 483h1.2M284.7 482.1h1.2M286.5 482.1h1.2M69.7 483.4h1.2M81.8 483.9h1.2M121.2 483.1h1.2M124.4 483.5h1.2M127.2 483.1h1.2M143.2 483.4h1.2M73.1 484h1.2M77.6 484.7h1.2M101.5 485h1.2M170.5 484.1h1.2M195.8 484.9h1.2M213.8 484.1h1.2M218.5 484.6h1.2M221.5 484.8h1.2M260.2 484.8h1.2M95.7 485.4h1.2M108.2 485.7h1.2M134.8 485.7h1.2M171.3 485.8h1.2M205.2 485.6h1.2M137.8 486.7h1.2M192.6 486.9h1.2M67.1 487.2h1.2M83.5 487.2h1.2M98.4 487.8h1.2M152.3 487.4h1.2M156.7 487.2h1.2M228.7 487h1.2M280 487.4h1.2M73.2 488.4h1.2M156.9 488.3h1.2M171.1 488.3h1.2M192.9 488.8h1.2M203.2 488.8h1.2M207 488.1h1.2M223.5 488.9h1.2M267.4 488.6h1.2M82.7 489.2h1.2M122.6 489.9h1.2M134.8 489.7h1.2M138.3 489.9h1.2M166.3 489.3h1.2M183.7 489.7h1.2M237.5 489.3h1.2M240.7 489.8h1.2M63.4 490.7h1.2M79 490.2h1.2M119.8 490.5h1.2M127.6 490.8h1.2M132.9 490.9h1.2M147.4 490.2h1.2M180 490.7h1.2M203.6 490.4h1.2M214.1 490.1h1.2M221.5 490.5h1.2M236.8 490.8h1.2M280.5 490.2h1.2M94.9 491.8h1.2M97.9 491.7h1.2M105.7 491.5h1.2M116.8 491.9h1.2M125 491.5h1.2M132.3 491.1h1.2M178.8 491.9h1.2M217.4 491.3h1.2M232.2 492h1.2M280.7 491.1h1.2M79.6 493h1.2M96.2 492.1h1.2M116.3 492.3h1.2M117.7 492.7h1.2M129.7 492.4h1.2M135.5 492.3h1.2M144.7 492.9h1.2M186.6 492h1.2M98.4 493.2h1.2M106.8 493.4h1.2M158 493.9h1.2M160.9 493.8h1.2M244.7 493.6h1.2M279 493.2h1.2M62.4 494.1h1.2M83.9 494.5h1.2M86.4 494.8h1.2M101.7 494.3h1.2M113.9 494.5h1.2M116.3 494.1h1.2M120.3 494.5h1.2M156.7 494.2h1.2M277.6 494.3h1.2M85.3 495.7h1.2M99.9 495.4h1.2M175.6 495.2h1.2M236.5 495.5h1.2M262.9 495.2h1.2M268.5 495.2h1.2M97 496.7h1.2M117 496.3h1.2M126.8 496.8h2.2M156.9 496.7h1.2M234.6 496.3h1.2M273.7 496.2h1.2M79.4 497.3h1.2M96.2 497.1h1.2M132.5 497.9h2.2M166.3 497.7h1.2M246 497.2h1.2M256 497.2h2.2M270 497.8h2.2M277.5 497.6h1.2M286.1 497.3h1.2M108.7 498.6h1.2M174.1 499h1.2M264.1 498.2h1.2M76.2 499h1.2M109.5 499.6h1.2M120.3 499.1h1.2M126.7 499.1h1.2M149.6 499.3h1.2M161.2 499.7h1.2M172.9 499.7h1.2M185.2 499.7h1.2M223.7 499.2h1.2M227.4 499.1h1.2M265.4 499.3h1.2M88.4 500.4h1.2M102.6 500.7h1.2M132.3 500.5h1.2M230.7 500.8h1.2M70.7 501.4h1.2M73.3 501.9h1.2M164.4 501.7h1.2M180.7 502h1.2M234.8 501.7h1.2M253.1 501.3h1.2M255.8 501.4h1.2M74.1 503h1.2M77.9 502h1.2M117.9 502h1.2M218.1 502.9h1.2M256 502.6h1.2M282.2 502.6h1.2M283.6 502.9h1.2M288.6 502.8h1.2M83.5 503.6h1.2M85.6 503.5h1.2M89.9 503.7h1.2M105.6 503.8h1.2M124.7 503.8h1.2M130.2 503.1h1.2M183.3 503.8h1.2M214.8 503.4h1.2M279.3 503.2h1.2M88.4 504.8h1.2M97.4 504.2h1.2M121.5 504.8h1.2M170.5 504.1h1.2M286.7 504.8h1.2M122 505.9h1.2M130 505.2h1.2M147 505.5h1.2M197.5 505.9h1.2M233.3 505.6h1.2M250 505.4h1.2M267.9 505.1h2.2M274.3 505.8h1.2M285.7 505.7h1.2M91.5 506.4h1.2M103.1 506.9h1.2M124.2 506.4h1.2M165.3 506.4h1.2M169.8 506h1.2M174.6 506.5h1.2M238.9 506.8h1.2M244.2 506.2h2.2M273.4 506.1h1.2M103.9 507.6h1.2M144.9 507.1h1.2M170.6 507.1h1.2M257.5 507.6h1.2M93.7 508.3h2.2M144.4 509h1.2M154.2 508.2h1.2M249.5 508h1.2M263.6 508.4h1.2M92.2 509.6h1.2M94.2 509.1h1.2M109.8 509.5h1.2M147.4 509.8h1.2M155.4 509.7h1.2M243.9 509.7h1.2M195.1 510.2h1.2M197 510.4h1.2M223.6 510.5h1.2M245.4 510.2h1.2M252 510.7h1.2M272.9 510.7h1.2M283.1 510.7h1.2M100.7 511.8h1.2M116.7 511.9h1.2M122.4 511.7h1.2M129.2 512h1.2M183.8 511.9h1.2M254.1 511.7h1.2M109.3 512.6h2.2M133 512.8h1.2M145.2 512.1h1.2M148.4 512.9h1.2M159.6 512.9h1.2M224.8 512.3h1.2M266.4 512.7h1.2M117 513.4h1.2M156.3 513.7h1.2M232.9 513.6h1.2M155.5 514.4h1.2M170.2 514.1h1.2M191.1 514.2h2.2M203.1 515h1.2M234.8 514.9h1.2M105.3 515.2h1.2M136.6 515.1h1.2M144.3 515.2h1.2M177.9 515.3h1.2M191.4 515h1.2M215.2 515.5h1.2M236.2 515.5h1.2M240.7 515.8h1.2M260.6 515.1h1.2M264.7 515.4h1.2M92.5 516.4h1.2M97.4 517h1.2M175.7 516.5h1.2M247.2 516.9h1.2M99.5 517.4h1.2M109.3 517.8h1.2M176.3 517h1.2M207.5 517.9h2.2M230.2 517.3h1.2M91.4 518.3h2.2M134 518.2h1.2M135.7 518.5h1.2M143.5 518.6h1.2M184.3 518.8h1.2M209.2 518.4h1.2M241.3 519h1.2M243.7 518.4h1.2M97.9 519.6h1.2M151.8 519.9h1.2M162.4 519.3h1.2M185.4 520h1.2M202.9 519.5h1.2M209.3 519.5h1.2M218.3 519.9h1.2M156.4 520.9h1.2M165.6 520.1h1.2M177 520.1h1.2M179.8 520.7h1.2M182.8 520.3h1.2M203.6 520.8h1.2M220.8 520.5h1.2M229.5 520.2h1.2M95.5 521.9h1.2M99.2 521.8h2.2M120.4 521.7h1.2M180.2 521.8h1.2M208.2 521.9h1.2M221.3 521.4h1.2M105.4 522.9h1.2M145.9 522.7h1.2M148.3 522.9h1.2M156.8 522.1h1.2M105.1 523.6h1.2M115 523.7h1.2M123 523.6h1.2M125.1 523.9h1.2M128.4 523.1h1.2M134.7 523.3h1.2M159.6 523.3h1.2M166.8 523.6h1.2M215.9 523.7h2.2M121.7 524.3h1.2M154.5 524.3h1.2M173.4 524.3h1.2M191.1 524.5h1.2M136.2 525.3h1.2M137.8 525h1.2M149 525.1h2.2M154.9 525.1h1.2M160.1 525.8h1.2M171.3 525.8h1.2M180.4 525.8h1.2M222.7 525.3h1.2M106.6 526.3h1.2M112.7 526.1h1.2M127.1 526.7h1.2M164.2 526.4h1.2M177.8 526.8h1.2M128.3 527.1h1.2M137.2 527.8h1.2M138.9 527.7h1.2M177.2 528h1.2M184.3 527.9h1.2M190.1 527.3h1.2M106.5 528.4h1.2M177.6 528.3h1.2M187.7 528h1.2M197.7 528.8h1.2M211.8 528.7h1.2M215.1 528.7h1.2M120.4 529.5h1.2M135.2 529.7h1.2M168.1 530h1.2M187.5 529.5h1.2M169.8 530.2h1.2M129.6 531.2h1.2M141.7 531h1.2M187.1 531.9h1.2M189.9 531.2h1.2M120.8 532.3h1.2M155.7 532.9h1.2M190.3 533h1.2M120.6 533.8h1.2M166.1 534h1.2M215.6 533.2h1.2M119.7 534h1.2M131.2 534.6h1.2M142.7 534.5h1.2M181.7 534.6h1.2M196 534.3h1.2M198 534.4h1.2M114.9 535.2h1.2M142.6 535.8h1.2M154.2 535.3h1.2M163.7 535.1h1.2M167.1 535.8h1.2M180.9 535.4h1.2M190.5 535.3h1.2M110.9 536.9h1.2M144.4 536.5h1.2M147.9 536.5h1.2M178.4 536.4h1.2M195.9 536.2h1.2M107.8 537.3h1.2M145.4 538h1.2M153.9 537.6h1.2M165.9 537.9h1.2M198 537.4h1.2M109.7 538.2h2.2M144 538.9h2.2M153.2 538.1h1.2M163.4 538.7h1.2M194.7 538.4h1.2M145 539.7h1.2M172.6 539.2h1.2M175.1 539.2h1.2M139.8 540.4h1.2M148.2 540.5h2.2M150.9 540.3h1.2M153 540.7h2.2M159.8 540.5h1.2M174.8 540.2h1.2M177.4 540.7h1.2M182.2 540.6h1.2M184.7 540h1.2M126.4 542h1.2M135.6 541.6h1.2M145.6 541.4h2.2M150.9 541.5h2.2M153.7 541.1h1.2M169.2 542h1.2M111.1 542.5h1.2M124.6 542.8h1.2M158.9 542.6h1.2M129.5 543.5h1.2M153.1 543.7h1.2M161.5 543.2h1.2M142.9 544.7h1.2M148 545h2.2M167.9 545h1.2M109.6 545.7h1.2M130.6 545.2h1.2M141.3 545.9h1.2M144.5 545.2h1.2M158.6 545.1h1.2M177.3 545.6h1.2M189.7 545.6h1.2M114.4 546.8h1.2M168.2 546h1.2M183 546.4h1.2M191.5 546.7h1.2M122.7 547.3h1.2M139.8 547.1h1.2M186.3 547h1.2M136.1 548.7h1.2M152.1 548.7h1.2M167.9 548.3h1.2M114.3 549.5h1.2M141.6 549.5h1.2M151.9 549.1h1.2M169 549.9h2.2M136.1 550.7h1.2M139.5 550.7h1.2M142.3 550.7h1.2M154.9 550.7h1.2M106.6 551.1h1.2M140.5 551.1h1.2M134.3 552.9h1.2M159.8 552.3h1.2M163.7 552.2h2.2M174 552.4h1.2M111.5 553.3h1.2M139.1 553.3h1.2M141.2 553.3h1.2M145.9 553.5h1.2M154.7 553.9h1.2M165.3 554.6h1.2M145.5 555.4h1.2M160.4 555.5h1.2M171.7 555.9h1.2M177.7 555h1.2M125.2 556.9h1.2M111.9 557.7h1.2M118.3 557.6h1.2M125.6 557.6h1.2M133.3 557.1h1.2M144 557.7h1.2M154.5 557.6h1.2M186.5 558.1h1.2M137.2 559.8h1.2M147.4 559.5h1.2M150.4 559.5h1.2M160.6 559.3h1.2M164.8 559.9h1.2M167.8 559.9h1.2M130.8 560.3h1.2M147 560h1.2M160.5 560.1h1.2M174 560.6h1.2M147.6 561.4h1.2M159.8 561.2h1.2M162.8 561.8h1.2M165.6 561.6h1.2M159.4 562.8h1.2M166.7 562.5h1.2M180.5 562.8h1.2M143.8 564h1.2M153.3 563.3h1.2M143.2 564.6h1.2M177.7 564.2h1.2M159.4 565h1.2M124.1 566.4h1.2M161.8 566.2h1.2M119.2 567.2h1.2M162 567.2h2.2M175.7 567.8h1.2M149.3 568.2h1.2M156.6 568.7h1.2M179.2 568.1h1.2M182.1 568h1.2M155.5 570h2.2M169.5 569.4h1.2M177.7 569.6h1.2M132.9 570.6h1.2M140 570.2h1.2M162.8 570.1h1.2M169.5 570.1h1.2M136.4 571.8h1.2M143.6 571.5h1.2M176.4 571.7h1.2M119.7 572.9h1.2M163.1 572.9h1.2M166.3 572.5h1.2M170.5 572.4h1.2M178.5 572.1h1.2M181.1 573h2.2M187.4 572.9h1.2M141.1 573.9h1.2M145.2 573.8h1.2M151.1 573.6h1.2M166.8 573.2h1.2M170 573.5h1.2M172.4 573.9h1.2M179.4 573.2h1.2M142.2 574.1h1.2M152.5 574.2h1.2M161.1 574.7h1.2M171.8 574.3h1.2M137.5 575.1h1.2M141.8 575.2h1.2M143.6 575.2h1.2M120.2 576h2.2M144.5 576.2h1.2M155.9 576.2h1.2M163.2 576.4h1.2M172.1 576.3h1.2M177.5 576.3h1.2M184.5 576.7h1.2M152.4 577.1h2.2M154.7 577.3h1.2M168.5 577.2h2.2M178.3 577.9h1.2M181.9 577.5h1.2M152.4 578.6h1.2M167.8 578.7h1.2M181.8 578.6h1.2M187.4 578.3h1.2M152 579.9h1.2M160.1 580h1.2M173.8 579.2h1.2M182.6 579.7h1.2M185.9 579.9h1.2M125.7 580.5h1.2M151.8 580.1h1.2M161.1 580.8h1.2M172.1 580.6h1.2M179.2 580.5h1.2M140.9 581.1h1.2M158.4 581.7h1.2M163.7 581.1h1.2M165.7 581.7h1.2M174.3 581.8h1.2M141.2 582.3h2.2M150.6 582h1.2M183.4 583h1.2M187.8 582.3h1.2M101.1 583.9h1.2M152.4 583.6h1.2M159.3 583.4h1.2M165.3 583.5h1.2M174.8 583.6h2.2M183.3 583.5h1.2M141.8 584.2h1.2M145.1 584.4h1.2M156.7 584.2h1.2M161.6 584.3h1.2M172.1 584.8h1.2M174.6 584.8h1.2M182.1 584.3h2.2M185.7 585h1.2M151.9 585.9h1.2M170.9 585h1.2M181.8 585.4h1.2M108.9 586.9h1.2M146.9 586.2h1.2M171.3 586.2h2.2M174.5 586.3h1.2M180.5 586.4h1.2M164.7 587.9h1.2M107 588.5h1.2M148.3 588.5h1.2M160.3 588.6h2.2M151.9 589.7h1.2M155.9 589.1h1.2M168.7 589.2h1.2M170.7 590h2.2M149.7 590.2h1.2M154.9 590.3h1.2M167.4 590.8h1.2M176.3 590.3h1.2M177.6 590.4h2.2M116.1 591.2h1.2M150.1 591.5h1.2M151.9 591.8h1.2M165.7 591.8h1.2M174.5 591.9h1.2M150.3 592.8h1.2M156.7 592.5h1.2M165.3 592.7h1.2M135.4 593.1h1.2M142.5 593h1.2M149 593.8h1.2M161.7 593.8h1.2M175.8 593.6h1.2M144.6 594h1.2M147.9 594.3h1.2M164.4 594.8h1.2M115.4 595.2h1.2M134.2 596h1.2M137.6 595.3h2.2M144 595.8h1.2M147.5 595.4h1.2M153.6 595.4h1.2M155.5 595.9h1.2M161.6 596h1.2M165.1 596h1.2M171.6 595.2h1.2M85.9 596.3h1.2M119.1 596.1h1.2M127.5 596.9h1.2M129.6 596.9h2.2M137.2 596.8h1.2M155.3 596.6h1.2M156.4 596.3h1.2M158.8 596.3h1.2M161.9 596.9h1.2M164.9 596.9h1.2M167.4 596h1.2M95.9 597.5h1.2M104.6 597.3h1.2M123.3 597.9h1.2M127.6 598h2.2M133 597.6h2.2M104.5 598.1h1.2M123.5 598.3h1.2M127.8 598.5h1.2M130.4 598.8h1.2M156.5 598.4h1.2M159.2 598.7h1.2M170.6 598.5h1.2M123.7 599.5h1.2M127.3 599.3h2.2M160.5 599.3h1.2M87.8 600.9h1.2M91.1 600.1h1.2M122.4 600.7h2.2M126.9 600.5h1.2M155.6 600.6h1.2M114.5 602h1.2M121.5 601.5h2.2M125.6 601.8h1.2M162.2 601.6h1.2M109.6 602.9h1.2M119.2 602h1.2M121.5 602.6h1.2M126.2 602.7h1.2M153.7 602.4h2.2M158.2 602.1h1.2M167.6 602.4h1.2M113.3 603.2h1.2M118 603.2h1.2M152.6 603.2h1.2M155 603.9h1.2M163.4 603.3h1.2M105.3 604.3h1.2M113.1 604.3h2.2M108.6 605.1h1.2M140.8 605.3h1.2M143.4 605.9h2.2M149.8 605.4h1.2M100.2 606.2h1.2M110.7 606.2h2.2M139.4 606.2h1.2M167.5 606.1h1.2M113.3 607.9h1.2M118.4 607.5h2.2M125.3 607.2h1.2M131.9 607.1h1.2M133.6 607.1h1.2M141.7 607.2h1.2M148.4 607.8h1.2M91.6 608.4h1.2M112.7 608.1h2.2M123.7 608.4h1.2M126.2 608.7h1.2M144.8 609h1.2M97.4 610.7h1.2M123.2 610.7h2.2M80.9 611.7h1.2M89.2 611.7h1.2M113.2 611.8h1.2M88.4 612.6h1.2M135.5 612.3h1.2M93.3 613.7h1.2M97.6 613.6h1.2M149.9 613.6h1.2M132.7 614.2h1.2M102.5 615.1h1.2M105.4 615.4h1.2M118.8 615.6h1.2M135.6 615.6h1.2M121.7 616.4h1.2M159.2 616.6h1.2M137.6 617h1.2M159.4 617.3h1.2M90.2 618h1.2M118.1 618.6h1.2M126.8 618.9h1.2M129.9 618.9h2.2M132.7 618.2h1.2M127.4 619.7h1.2M137.4 619.4h1.2M144.4 619.1h1.2M117.8 620.7h1.2M120.2 620.8h1.2M126.1 620.9h1.2M85.6 621.2h1.2M125.5 621.3h1.2M127.6 621.8h1.2M133.8 621h1.2M140.4 621.8h1.2M111.6 622h2.2M118.2 622.1h1.2M128.4 622.9h1.2M131.1 622.5h1.2M134.5 622.5h1.2M102.7 623.5h1.2M116.4 623.6h1.2M137.1 623.6h1.2M87 624.6h1.2M95.2 624.9h1.2M127.7 625h1.2M114.1 625h1.2M122.8 625.6h1.2M99.2 626.3h1.2M117.8 626.1h1.2M133.6 626.8h1.2M136.7 626.8h2.2M117.3 628h1.2M126.4 627h1.2M130.1 627.9h1.2M136.2 627.7h2.2M108.8 628.4h1.2M125.7 628.7h1.2M103.4 629h1.2M106.9 629.3h1.2M108.8 629.6h1.2M134.7 629.5h2.2M113.9 630.1h1.2M130.4 630.8h1.2M143.5 630.4h1.2M115.1 631.6h1.2M120.5 631.1h1.2M131.9 631h2.2M130 632.8h1.2M106.3 633.8h1.2M110.4 633.2h1.2M135.8 633.9h1.2M141.2 633.5h1.2M103.6 634.6h1.2M106.7 634.4h1.2M114.4 634.3h1.2M119.9 634.4h2.2M137.6 634h1.2M113.7 635.2h1.2M124.6 635.2h1.2M136.1 635.4h1.2M109.8 636h2.2M113.4 637h1.2M118.3 636.9h1.2M122.9 636.8h1.2M130 636.1h1.2M123 637.6h1.2M128.7 638.6h1.2M134 638.2h1.2M138.5 638.6h1.2M141.2 638.7h1.2M116 639.6h1.2M113.9 640.4h1.2M120.5 640.5h1.2M121.4 643.7h1.2M129.5 644.6h1.2M126.6 646.6h1.2M135.4 647.9h1.2M124.9 652.1h2.2M133.7 654.4h1.2M119.9 658.3h1.2M122.3 663.6h1.2" stroke="#fa3512" stroke-width="1.2" fill="none"/>
<path d="M45 182.5 L45 195 L30 196.25 L26.25 201.25 L23.75 207.5 L18.75 210 L13.75 210 L10 213.75 L8.75 220 L5 217.5 L0 215M45 195 L46.25 202.5 L50 210 L55 216.25 L61.25 220 L67.5 223.75 L75 228.75 L80 229.5 L51.7 293.4M51.7 293.4 L53 306 L51.7 320.5 L30 320.8 L8.75 321 L0 320M8.75 321.25 L8.75 330 L10 342.5 L11.25 351.25 L22.5 352.5 L30 353.75 L31.25 362.5 L30 370 L27.5 377.5 L23.75 385 L21.25 390M51.7 293.4 L56.6 303.3 L62.8 318 L73.9 328 L93.6 330.4 L120 332.4 L150 334 L164.7 335.3M101.2 167.2 L101.9 172.8 L106 176.3 L113 179 L118.75 182 L121.6 186.9 L124.4 192.5 L125.8 198 L130 205 L132.8 209.4 L134.5 215 L139 216.5 L144 212 L146.9 206.6 L152.5 201 L158 196.6 L162.3 192.5 L164.5 191M164.7 335.3 L167.7 329.2 L172.8 319 L176.9 313 L180 306.9 L177.9 300.8 L181 294.7 L187 290.6 L191 286.6 L193 280.5 L191 274.4 L186 272.3M221.25 215 L220 225 L216.25 235 L212.5 245 L207.5 255 L202.5 262.5 L195 267.5 L188.75 271.25 L186 272.3M186 272.3 L189 274.4 L197.2 273.4 L201.25 274.4 L203.3 280.5 L202.3 288.6 L199.2 296.7 L203.3 302.8 L209.4 308.9 L214.5 310.9 L215.5 315 L211.4 319 L210.4 325.2 L213.4 331.25 L217.5 337.3 L222 341.4M280.8 239 L277.7 244.2 L270.6 248.3 L266.6 256.4 L265.5 264.5 L264.5 272.7 L263.5 280.8 L265.5 288.9 L260.5 293 L252.3 295 L244.2 299 L236.1 303.1 L230 307 L228.7 310.9 L225.6 319 L224.6 327.2 L225.6 335.3 L222 341.4M286.9 240 L287.9 250.3 L289.9 260.5 L292 270.6 L294 280.8 L297 288.9 L299 295 L299 301 L296 308 L292 314 L289.5 319M289.5 319 L282.8 322.4 L276.7 325.5 L270.6 328.5 L264.5 329.5 L258.4 329.5 L254.4 331.6 L253.4 337.7 L250.3 343.75 L244.2 346.8 L238.1 348.8 L232 347.8 L226 344 L222 341.4M299 301 L306.25 301.4 L312.5 303.75 L318.75 306.4 L325 305.3 L331.25 306 L337.5 304.5 L342.2 301.4 L345.3 302.2 L346 305.3M337.5 263 L333.6 275.6 L329.7 281.9 L325.8 287.3 L325 291.25 L323.4 296 L324.2 302.2 L320.3 306M325.8 288 L331.25 288 L337.5 285 L343 283.4 L343.75 286.6 L340.6 289.7 L343 292.8 L348.4 293.6 L351.6 295 L353 291.25 L355.5 288 L362.5 289 L370.3 289.7 L375 289.7M346 305.3 L344.5 310 L346.9 314 L351.6 310 L356.25 307.7 L362.5 306 L368.75 303.75 L376.6 302.2M289.5 319 L293.75 322.5 L296.25 328.75 L300 328.75 L306.25 322.5 L314 317.8 L320.3 320 L326.6 324 L331.25 326.4 L336 322.5 L340.6 325.6 L346.9 328 L353 327.2 L359.4 324 L365.6 322.5 L372 321.7M331.25 326.4 L332.8 331.9 L337.5 335 L342.2 338 L346.9 341.25 L354 345.5M332.8 332 L336 338 L336.7 344.4 L333.6 347.5 L330.5 349.8 L331.25 353.75 L334.4 357.7 L339 359.2 L342 358.5M222 341.4 L218.75 347.5 L216.25 355 L220 360 L218.75 367.5 L220 376.25 L221.25 382.5 L222.5 392.5 L222 402.5 L222.5 408.75M160 376.25 L163.75 371.25 L170 376.25 L176.25 380 L182.5 378.75 L190 381.25 L197.5 382.5 L205 381.25 L213.75 378.75 L220 378.75M164.7 335.3 L161.6 343.4 L158.6 353.6 L157.6 363.75 L158.6 371.9 L160 376.25M160 376.25 L158 383 L156 390 L153 396 L149 403 L144 411 L138.75 418.75 L132.5 425 L127.5 432.5 L124.5 440 L122.5 447.5M61.25 446.25 L67.5 443.75 L75 440 L82.5 437.5 L90 440 L97.5 441.25 L105 442.5 L110 443.75 L116.25 438.75 L117.5 443.75 L122.5 447.5M122.5 447.5 L125 453.75 L132.5 458.75 L140 462.5 L147.5 465 L153.75 468.75 L153.75 475M153.75 475 L150 480 L146.25 486.25 L141.25 493.75 L136.25 500 L130 506.25 L125 510 L120 513.75 L116.25 515 L112.5 520 L110 526.25 L108.75 531.25M125 510 L132.5 510.5 L140 511.25 L147.5 512.5 L155 515 L161.25 516.25 L167.5 518.75 L171.25 522.5 L173.75 527.5 L176.25 532.5 L178.75 538.75 L185 541.25 L188.75 544 L193 548M222.5 408.75 L215 408.75 L211.25 412.5 L210 418.75 L205 420 L206.25 430 L202.5 437.5 L203.75 446.25 L198.75 451.25 L191.25 453.75 L183.75 452.5 L177.5 455 L170 456.25 L163.75 457.5 L158.75 462.5 L155 467.5 L153.75 475M222.5 408.75 L230 405 L237.5 401.25 L245 397.5 L251.25 397.5 L255 402.5 L262.5 403.75 L270 406.25 L277.5 408.75 L285 412.5 L292.5 416.25 L300 417.5 L305 421.25 L306.25 427.5 L302.5 433.75 L298 438.75 L301.25 446.25 L308.75 450 L312 450M301.25 446.25 L295 448.75 L290 453.75 L291.25 461.25 L288.75 467.5 L287.5 475 L281.25 478.75 L280 487.5 L281.25 491.25 L292.5 492.5M280 487.5 L277.5 490 L275 493.75 L270 498.75 L262.5 502.5 L255 505 L247.5 507.5 L240 510M153.75 475 L157.5 473.75 L163.75 475 L170 476.25 L177.5 477.5 L182.5 478.75 L190 477 L197.5 476.25 L203.75 478.75 L206.25 485 L208.75 492.5 L213.75 496.25 L215 502.5 L216.25 510 L220 515 L227.5 513.75 L235 511.25 L240 510M240 510 L245 515 L247.5 517.5M115 561.25 L122.5 563.75 L130 565 L140 566.25 L147.5 567.5 L151.25 563.75 L157.5 561.25 L165 559.5 L172.5 558.75 L180 558.75 L187.5 560M116.25 572.5 L125 573.75 L133.75 575 L140 577.5 L145 581.25 L151.25 585 L157.5 590 L163.75 592.5 L170 593.75 L171.25 597.5 L167.5 602.5M192 413.75 L204.5 413.75 L204.5 421.25 L192 421.25 L192 413.75" fill="none" stroke="#333a2c" stroke-width="0.9" stroke-linejoin="round"/>
</g>
<path d="M-2 142.5 L0 142.5 L8.4 138.3 L14 136.9 L18.3 134 L21 130.5 L21 127.7 L29.5 127.3 L30.2 131.25 L28.8 136.9 L34.5 139 L35.2 143.2 L36.6 146 L33.75 151 L31.6 156.6 L31 162.2 L33 167.8 L35.2 173.4 L39.4 177.7 L45 182.6 L50.6 181.9 L53.4 179 L59 177 L64.7 174.9 L67.5 172.7 L73 173.2 L78.75 172.7 L84.4 172 L85.8 168.5 L84.4 166.6 L92 165.8 L99 164.7 L101.2 167.2 L106 169.3 L111.7 169.7 L115.2 167.2 L118.75 168.6 L123 167.9 L127.2 169.7 L131.4 165.8 L135 160.2 L138.4 153 L142 146.8 L144.8 141.9 L145.5 138.6 L148.3 139 L151 142.6 L152.8 147.5 L153.2 153 L155.3 160.2 L158 167.2 L160.2 171.4 L162.3 173.5 L167.3 175.6 L169.4 179 L169.4 184 L167.3 188.3 L164.5 191 L168 194 L173.75 198.75 L181.25 201.25 L188.75 203.75 L191.25 208.75 L197.5 208 L205 207.5 L211.25 210 L218.75 212.5 L225 216.25 L232.5 217.5 L238.75 218.75 L242.5 223.75 L243.75 231.25 L242.5 238.75 L246.25 236.25 L250 233.75 L255 232.5 L260 233.25 L267.5 235 L275 237.5 L282.5 239.5 L290 240 L297 239 L305 239.5 L312 242.5 L320 247.5 L327 254 L335 261 L342 266 L352 269.5 L362 271 L369 274 L372 279 L374.5 286 L376 294 L377 300 L376 307.5 L374 315 L371 322.5 L367.5 330 L362.5 336 L357.5 341 L352.5 346 L347.5 351 L344 356 L340 362.5 L336 369 L332.5 375 L327.5 379 L321 382.5 L320 390 L320.5 397.5 L319.5 405 L320 412.5 L320.5 420 L319.5 427.5 L318 435 L316 442.5 L312.5 449 L310 455 L309 462.5 L307.5 470 L304 476 L299.8 482.2 L295.8 488.3 L291.7 494.4 L290.7 502.5 L285.6 508.6 L279.5 513.7 L275.5 515.7 L267.3 515.7 L259.2 516.7 L251 517.7 L245 518.75 L239 521.8 L232.8 524.8 L228.75 528.9 L222.7 531 L216.6 533 L210.5 537 L204.4 541 L198.3 545.2 L192.2 551.25 L188 559.4 L187.5 567.5 L188.75 572.5 L190 580 L187.5 585 L182.5 591.25 L177.5 596.25 L172.5 601.25 L168.75 606.25 L166.25 612.5 L163.75 617.5 L160 623.75 L156.25 628.75 L151.25 633.75 L145 638.75 L140 642.5 L136.25 647.5 L135 653.75 L131.25 658.75 L126.25 662.5 L121.25 665.5 L119.5 663.75 L120 658.75 L123.75 655 L122.5 650 L118.75 648.75 L115 645 L111.25 641.25 L106.25 637.5 L102.5 632.5 L96.25 630 L91.25 626.25 L86.25 627.5 L85 622.5 L81.25 618.75 L75 616.25 L68.75 617.5 L63.75 616.25 L67.5 613.75 L72.5 608.75 L77.5 603.75 L82.5 598.75 L87.5 593.75 L92.5 588.75 L97.5 585 L103.75 580 L110 576.25 L115 572.5 L116.25 568.75 L115 561.25 L111.25 555 L105.5 552.5 L107.5 546.25 L108.75 538.75 L107.5 531.25 L100 530 L92.5 528.75 L91.25 520 L90 512.5 L86 507.5 L80 505 L72.5 504 L65 504.5 L59 504 L60 495 L59 487.5 L55.5 482.5 L57.5 477.5 L56 472.5 L59 466 L61 460 L64 452.5 L62.5 446 L59 441 L54 437.5 L51.5 433 L51 428 L46 425.5 L41 424.5 L27.7 424.4 L27.2 412.2 L22 408.4 L26.25 406.5 L25.3 400 L22.5 391 L17 388.5 L10 385 L0 380 L-2 380Z" fill="none" stroke="#4a4f45" stroke-width="0.9" stroke-linejoin="round"/>
<circle cx="323" cy="447.5" r="0.5" fill="#555"/>
<path d="M238.5 520.5l2.5 -1.2l2 1l2.5 -1.8l2.5 0.8M258.5 515l2 1.8l1.8 -2M276.5 514.6l2.2 0.9M216 534.2l1.5 0.6" fill="none" stroke="#2e3328" stroke-width="1.1" stroke-linejoin="round"/>
</svg>
<span class="abs" style="left:339.00px;top:176.40px;font-size:10.4px;line-height:12px;font-weight:normal;color:#222;letter-spacing:0px;transform:scaleX(1.0429);transform-origin:0 0;">N</span>
<span class="abs" style="left:1.2px;top:426.6px;font-size:11px;line-height:12px;color:#3a3a3a;font-weight:bold">)</span>
<span class="abs" style="left:2px;top:583px;font-size:6.5px;line-height:8px;color:#555">km</span>
</figure>
<p>
<span class="abs" style="left:322.33px;top:506.67px;font-size:22.6px;line-height:24px;font-weight:bold;color:#474747;letter-spacing:0.3px;transform:scaleX(1.0660);transform-origin:0 0;">Em 2024, o</span>
<span class="abs" style="left:270.20px;top:530.97px;font-size:22.6px;line-height:24px;font-weight:bold;color:#474747;letter-spacing:0.3px;transform:scaleX(1.1114);transform-origin:0 0;">desmatamento</span>
<span class="abs" style="left:342.77px;top:555.37px;font-size:22.6px;line-height:24px;font-weight:bold;color:#474747;letter-spacing:0.3px;transform:scaleX(1.0290);transform-origin:0 0;">no Brasil</span>
<strong class="abs" style="left:233.60px;top:577.11px;font-size:24.8px;line-height:26px;font-weight:bold;color:#a90f14;letter-spacing:0.3px;transform:scaleX(1.0371);transform-origin:0 0;">caiu mais de 30%</strong>
</p>
<section>
<svg class="charts" width="640" height="853" viewBox="0 0 640 853" font-family="'Liberation Sans',sans-serif">
<g>
<rect x="549.5" y="182" width="90.5" height="1" fill="#d2d2d2"/>
<rect x="549.5" y="194" width="90.5" height="1" fill="#d2d2d2"/>
<rect x="549.5" y="207" width="90.5" height="1" fill="#d2d2d2"/>
<rect x="549.5" y="220" width="90.5" height="1" fill="#d2d2d2"/>
<rect x="549.5" y="232" width="90.5" height="1" fill="#d2d2d2"/>
<rect x="562.5" y="207" width="27" height="38.5" fill="#dac0b4"/>
<rect x="595" y="200.75" width="27" height="44.75" fill="#dac0b4"/>
<rect x="628" y="190" width="27" height="55.5" fill="#dac0b4"/>
<rect x="549.5" y="245" width="90.5" height="1" fill="#777"/>
<text x="612.5" y="165.5" font-size="9.4" font-weight="bold" fill="#2e2e2e" letter-spacing="0.35">AMAZÔNIA</text>
<text x="538.6" y="181" font-size="7.8" fill="#4d4d4d" text-anchor="end" letter-spacing="0.1">1.250.000</text>
<text x="538.6" y="194.5" font-size="7.8" fill="#4d4d4d" text-anchor="end" letter-spacing="0.1">1.000.000</text>
<text x="538.6" y="207" font-size="7.8" fill="#4d4d4d" text-anchor="end" letter-spacing="0.1">750.000</text>
<text x="538.6" y="221" font-size="7.8" fill="#4d4d4d" text-anchor="end" letter-spacing="0.1">500.000</text>
<text x="538.6" y="234" font-size="7.8" fill="#4d4d4d" text-anchor="end" letter-spacing="0.1">250.000</text>
<text x="538.6" y="247" font-size="7.8" fill="#4d4d4d" text-anchor="end" letter-spacing="0.1">0</text>
<text x="577.5" y="202" font-size="7.6" fill="#4d4d4d" text-anchor="middle" letter-spacing="0.1">772 . 882</text>
<text x="609" y="195.5" font-size="7.6" fill="#4d4d4d" text-anchor="middle" letter-spacing="0.1">883.425</text>
<text x="628" y="185" font-size="7.6" fill="#4d4d4d" text-anchor="start" letter-spacing="0.1">1.112.540</text>
<text x="576" y="256" font-size="7.8" fill="#4d4d4d" text-anchor="middle" letter-spacing="0.1">2019</text>
<text x="608.75" y="256" font-size="7.8" fill="#4d4d4d" text-anchor="middle" letter-spacing="0.1">2020</text>
<text x="641" y="256" font-size="7.8" fill="#4d4d4d" text-anchor="middle" letter-spacing="0.1">2021</text>
<text transform="translate(498,210.5) rotate(-90)" font-size="7.2" fill="#666" text-anchor="middle" letter-spacing="0.25">Área desmatada (ha)</text>
</g>
<g>
<rect x="549.5" y="292" width="90.5" height="1" fill="#d2d2d2"/>
<rect x="549.5" y="304" width="90.5" height="1" fill="#d2d2d2"/>
<rect x="549.5" y="317" width="90.5" height="1" fill="#d2d2d2"/>
<rect x="549.5" y="330" width="90.5" height="1" fill="#d2d2d2"/>
<rect x="549.5" y="342" width="90.5" height="1" fill="#d2d2d2"/>
<rect x="562.5" y="351.75" width="27" height="3.75" fill="#dac0b4"/>
<rect x="595" y="339.25" width="27" height="16.25" fill="#dac0b4"/>
<rect x="628" y="325.75" width="27" height="29.75" fill="#dac0b4"/>
<rect x="549.5" y="355" width="90.5" height="1" fill="#777"/>
<text x="616" y="283.5" font-size="9.4" font-weight="bold" fill="#2e2e2e" letter-spacing="0.35">CAATINGA</text>
<text x="538.6" y="294.5" font-size="7.8" fill="#4d4d4d" text-anchor="end" letter-spacing="0.1">250.000</text>
<text x="538.6" y="305.5" font-size="7.8" fill="#4d4d4d" text-anchor="end" letter-spacing="0.1">200.000</text>
<text x="538.6" y="318" font-size="7.8" fill="#4d4d4d" text-anchor="end" letter-spacing="0.1">150.000</text>
<text x="538.6" y="332.5" font-size="7.8" fill="#4d4d4d" text-anchor="end" letter-spacing="0.1">100.000</text>
<text x="538.6" y="344" font-size="7.8" fill="#4d4d4d" text-anchor="end" letter-spacing="0.1">50.000</text>
<text x="538.6" y="355.5" font-size="7.8" fill="#4d4d4d" text-anchor="end" letter-spacing="0.1">0</text>
<text x="576.6" y="345.2" font-size="7.6" fill="#4d4d4d" text-anchor="middle" letter-spacing="0.1">13.922</text>
<text x="609.2" y="333.2" font-size="7.6" fill="#4d4d4d" text-anchor="middle" letter-spacing="0.1">67.138</text>
<text x="629.5" y="320.5" font-size="7.6" fill="#4d4d4d" text-anchor="start" letter-spacing="0.1">115.624</text>
<text x="577" y="365.5" font-size="7.8" fill="#4d4d4d" text-anchor="middle" letter-spacing="0.1">2019</text>
<text x="609.5" y="365.5" font-size="7.8" fill="#4d4d4d" text-anchor="middle" letter-spacing="0.1">2020</text>
<text x="642" y="365.5" font-size="7.8" fill="#4d4d4d" text-anchor="middle" letter-spacing="0.1">2021</text>
<text transform="translate(494.5,320.5) rotate(-90)" font-size="7.2" fill="#666" text-anchor="middle" letter-spacing="0.25">Área desmatada (ha)</text>
</g>
<g>
<rect x="546" y="401" width="94" height="1" fill="#d2d2d2"/>
<rect x="546" y="413" width="94" height="1" fill="#d2d2d2"/>
<rect x="546" y="426" width="94" height="1" fill="#d2d2d2"/>
<rect x="546" y="439" width="94" height="1" fill="#d2d2d2"/>
<rect x="546" y="451" width="94" height="1" fill="#d2d2d2"/>
<rect x="558.75" y="445" width="27" height="18.5" fill="#dac0b4"/>
<rect x="591.75" y="433" width="27" height="30.5" fill="#dac0b4"/>
<rect x="624.5" y="437" width="27" height="26.5" fill="#dac0b4"/>
<rect x="546" y="463" width="94" height="1" fill="#777"/>
<text x="610.5" y="391.5" font-size="9.4" font-weight="bold" fill="#2e2e2e" letter-spacing="0.35">CERRADO</text>
<text x="535" y="400" font-size="7.8" fill="#4d4d4d" text-anchor="end" letter-spacing="0.1">1.250.000</text>
<text x="535" y="413" font-size="7.8" fill="#4d4d4d" text-anchor="end" letter-spacing="0.1">1.000.000</text>
<text x="535" y="426.7" font-size="7.8" fill="#4d4d4d" text-anchor="end" letter-spacing="0.1">750.000</text>
<text x="535" y="439.8" font-size="7.8" fill="#4d4d4d" text-anchor="end" letter-spacing="0.1">500.000</text>
<text x="535" y="454" font-size="7.8" fill="#4d4d4d" text-anchor="end" letter-spacing="0.1">250.000</text>
<text x="535" y="465.8" font-size="7.8" fill="#4d4d4d" text-anchor="end" letter-spacing="0.1">0</text>
<text x="572.5" y="439.5" font-size="7.6" fill="#4d4d4d" text-anchor="middle" letter-spacing="0.1">399.583</text>
<text x="605" y="426" font-size="7.6" fill="#4d4d4d" text-anchor="middle" letter-spacing="0.1">636.441</text>
<text x="624.5" y="432" font-size="7.6" fill="#4d4d4d" text-anchor="start" letter-spacing="0.1">536.230</text>
<text x="572.5" y="474.8" font-size="7.8" fill="#4d4d4d" text-anchor="middle" letter-spacing="0.1">2019</text>
<text x="605" y="474.8" font-size="7.8" fill="#4d4d4d" text-anchor="middle" letter-spacing="0.1">2020</text>
<text x="638" y="474.8" font-size="7.8" fill="#4d4d4d" text-anchor="middle" letter-spacing="0.1">2021</text>
<text transform="translate(494.5,430) rotate(-90)" font-size="7.2" fill="#666" text-anchor="middle" letter-spacing="0.25">Área desmatada (ha)</text>
</g>
<g>
<rect x="549.5" y="511" width="90.5" height="1" fill="#d2d2d2"/>
<rect x="549.5" y="524" width="90.5" height="1" fill="#d2d2d2"/>
<rect x="549.5" y="537" width="90.5" height="1" fill="#d2d2d2"/>
<rect x="549.5" y="548" width="90.5" height="1" fill="#d2d2d2"/>
<rect x="563" y="548.25" width="27" height="13.25" fill="#dac0b4"/>
<rect x="595" y="532" width="27" height="29.5" fill="#dac0b4"/>
<rect x="628" y="523.75" width="27" height="37.75" fill="#dac0b4"/>
<rect x="549.5" y="561" width="90.5" height="1" fill="#777"/>
<text x="598.75" y="502.5" font-size="9.4" font-weight="bold" fill="#2e2e2e" letter-spacing="0.35">MATA ATLÂNTICA</text>
<text x="538.6" y="511" font-size="7.8" fill="#4d4d4d" text-anchor="end" letter-spacing="0.1">40.000</text>
<text x="538.6" y="524.5" font-size="7.8" fill="#4d4d4d" text-anchor="end" letter-spacing="0.1">30.000</text>
<text x="538.6" y="538" font-size="7.8" fill="#4d4d4d" text-anchor="end" letter-spacing="0.1">20.000</text>
<text x="538.6" y="551" font-size="7.8" fill="#4d4d4d" text-anchor="end" letter-spacing="0.1">10.000</text>
<text x="538.6" y="564" font-size="7.8" fill="#4d4d4d" text-anchor="end" letter-spacing="0.1">0</text>
<text x="576" y="543" font-size="7.6" fill="#4d4d4d" text-anchor="middle" letter-spacing="0.1">10.393</text>
<text x="608.75" y="526.5" font-size="7.6" fill="#4d4d4d" text-anchor="middle" letter-spacing="0.1">23.934</text>
<text x="629.5" y="518" font-size="7.6" fill="#4d4d4d" text-anchor="start" letter-spacing="0.1">29.503</text>
<text x="576" y="573" font-size="7.8" fill="#4d4d4d" text-anchor="middle" letter-spacing="0.1">2019</text>
<text x="608.75" y="573" font-size="7.8" fill="#4d4d4d" text-anchor="middle" letter-spacing="0.1">2020</text>
<text x="641" y="573" font-size="7.8" fill="#4d4d4d" text-anchor="middle" letter-spacing="0.1">2021</text>
<text transform="translate(498,534) rotate(-90)" font-size="7.2" fill="#666" text-anchor="middle" letter-spacing="0.25">Área desmatada (ha)</text>
</g>
<g>
<rect x="549.5" y="605" width="90.5" height="1" fill="#d2d2d2"/>
<rect x="549.5" y="620" width="90.5" height="1" fill="#d2d2d2"/>
<rect x="549.5" y="634" width="90.5" height="1" fill="#d2d2d2"/>
<rect x="549.5" y="648" width="90.5" height="1" fill="#d2d2d2"/>
<rect x="563" y="660" width="27" height="3.5" fill="#dac0b4"/>
<rect x="595" y="655" width="27" height="8.5" fill="#dac0b4"/>
<rect x="628" y="650" width="27" height="13.5" fill="#dac0b4"/>
<rect x="549.5" y="663" width="90.5" height="1" fill="#777"/>
<text x="624.5" y="599" font-size="9.4" font-weight="bold" fill="#2e2e2e" letter-spacing="0.35">PAMPA</text>
<text x="538.6" y="608.5" font-size="7.8" fill="#4d4d4d" text-anchor="end" letter-spacing="0.1">10.000</text>
<text x="538.6" y="622" font-size="7.8" fill="#4d4d4d" text-anchor="end" letter-spacing="0.1">7.500</text>
<text x="538.6" y="635.5" font-size="7.8" fill="#4d4d4d" text-anchor="end" letter-spacing="0.1">5.000</text>
<text x="538.6" y="651" font-size="7.8" fill="#4d4d4d" text-anchor="end" letter-spacing="0.1">2 .500</text>
<text x="538.6" y="664.5" font-size="7.8" fill="#4d4d4d" text-anchor="end" letter-spacing="0.1">0</text>
<text x="576" y="655" font-size="7.6" fill="#4d4d4d" text-anchor="middle" letter-spacing="0.1">626</text>
<text x="609.5" y="649.5" font-size="7.6" fill="#4d4d4d" text-anchor="middle" letter-spacing="0.1">1. 260</text>
<text x="631.5" y="643.5" font-size="7.6" fill="#4d4d4d" text-anchor="start" letter-spacing="0.1">2 . 426</text>
<text x="576" y="676" font-size="7.8" fill="#4d4d4d" text-anchor="middle" letter-spacing="0.1">2019</text>
<text x="608.75" y="676" font-size="7.8" fill="#4d4d4d" text-anchor="middle" letter-spacing="0.1">2020</text>
<text x="641" y="676" font-size="7.8" fill="#4d4d4d" text-anchor="middle" letter-spacing="0.1">2021</text>
<text transform="translate(498,634) rotate(-90)" font-size="7.2" fill="#666" text-anchor="middle" letter-spacing="0.25">Área desmatada (ha)</text>
</g>
<g>
<rect x="549.5" y="710" width="90.5" height="1" fill="#d2d2d2"/>
<rect x="549.5" y="725" width="90.5" height="1" fill="#d2d2d2"/>
<rect x="549.5" y="741" width="90.5" height="1" fill="#d2d2d2"/>
<rect x="549.5" y="757" width="90.5" height="1" fill="#d2d2d2"/>
<rect x="562.5" y="759.5" width="27" height="14.0" fill="#dac0b4"/>
<rect x="595" y="753.75" width="27" height="19.75" fill="#dac0b4"/>
<rect x="627.5" y="752.5" width="27" height="21.0" fill="#dac0b4"/>
<rect x="549.5" y="773" width="90.5" height="1" fill="#777"/>
<text x="615" y="702.5" font-size="9.4" font-weight="bold" fill="#2e2e2e" letter-spacing="0.35">PANTANAL</text>
<text x="538.6" y="711.5" font-size="7.8" fill="#4d4d4d" text-anchor="end" letter-spacing="0.1">100.000</text>
<text x="538.6" y="726.5" font-size="7.8" fill="#4d4d4d" text-anchor="end" letter-spacing="0.1">75.000</text>
<text x="538.6" y="743.5" font-size="7.8" fill="#4d4d4d" text-anchor="end" letter-spacing="0.1">50.000</text>
<text x="538.6" y="758.5" font-size="7.8" fill="#4d4d4d" text-anchor="end" letter-spacing="0.1">25.000</text>
<text x="538.6" y="774.5" font-size="7.8" fill="#4d4d4d" text-anchor="end" letter-spacing="0.1">0</text>
<text x="575.75" y="753.5" font-size="7.6" fill="#4d4d4d" text-anchor="middle" letter-spacing="0.1">21.962</text>
<text x="608" y="748.5" font-size="7.6" fill="#4d4d4d" text-anchor="middle" letter-spacing="0.1">28.411</text>
<text x="629.2" y="747" font-size="7.6" fill="#4d4d4d" text-anchor="start" letter-spacing="0.1">30.512</text>
<text x="575.75" y="784.5" font-size="7.8" fill="#4d4d4d" text-anchor="middle" letter-spacing="0.1">2019</text>
<text x="608" y="784.5" font-size="7.8" fill="#4d4d4d" text-anchor="middle" letter-spacing="0.1">2020</text>
<text x="641" y="784.5" font-size="7.8" fill="#4d4d4d" text-anchor="middle" letter-spacing="0.1">2021</text>
<text transform="translate(498,737) rotate(-90)" font-size="7.2" fill="#666" text-anchor="middle" letter-spacing="0.25">Área desmatada (ha)</text>
</g>
</svg>
</section>
</main>
<footer>
<p class="abs" style="left:115.66px;top:808.15px;font-size:26.7px;line-height:32px;font-weight:normal;color:#1d1d1d;letter-spacing:0.3px;transform:scaleX(1.0723);transform-origin:0 0;">Fonte: RAD 2024 - MapBiomas</p>
</footer>
</body>
</html>
